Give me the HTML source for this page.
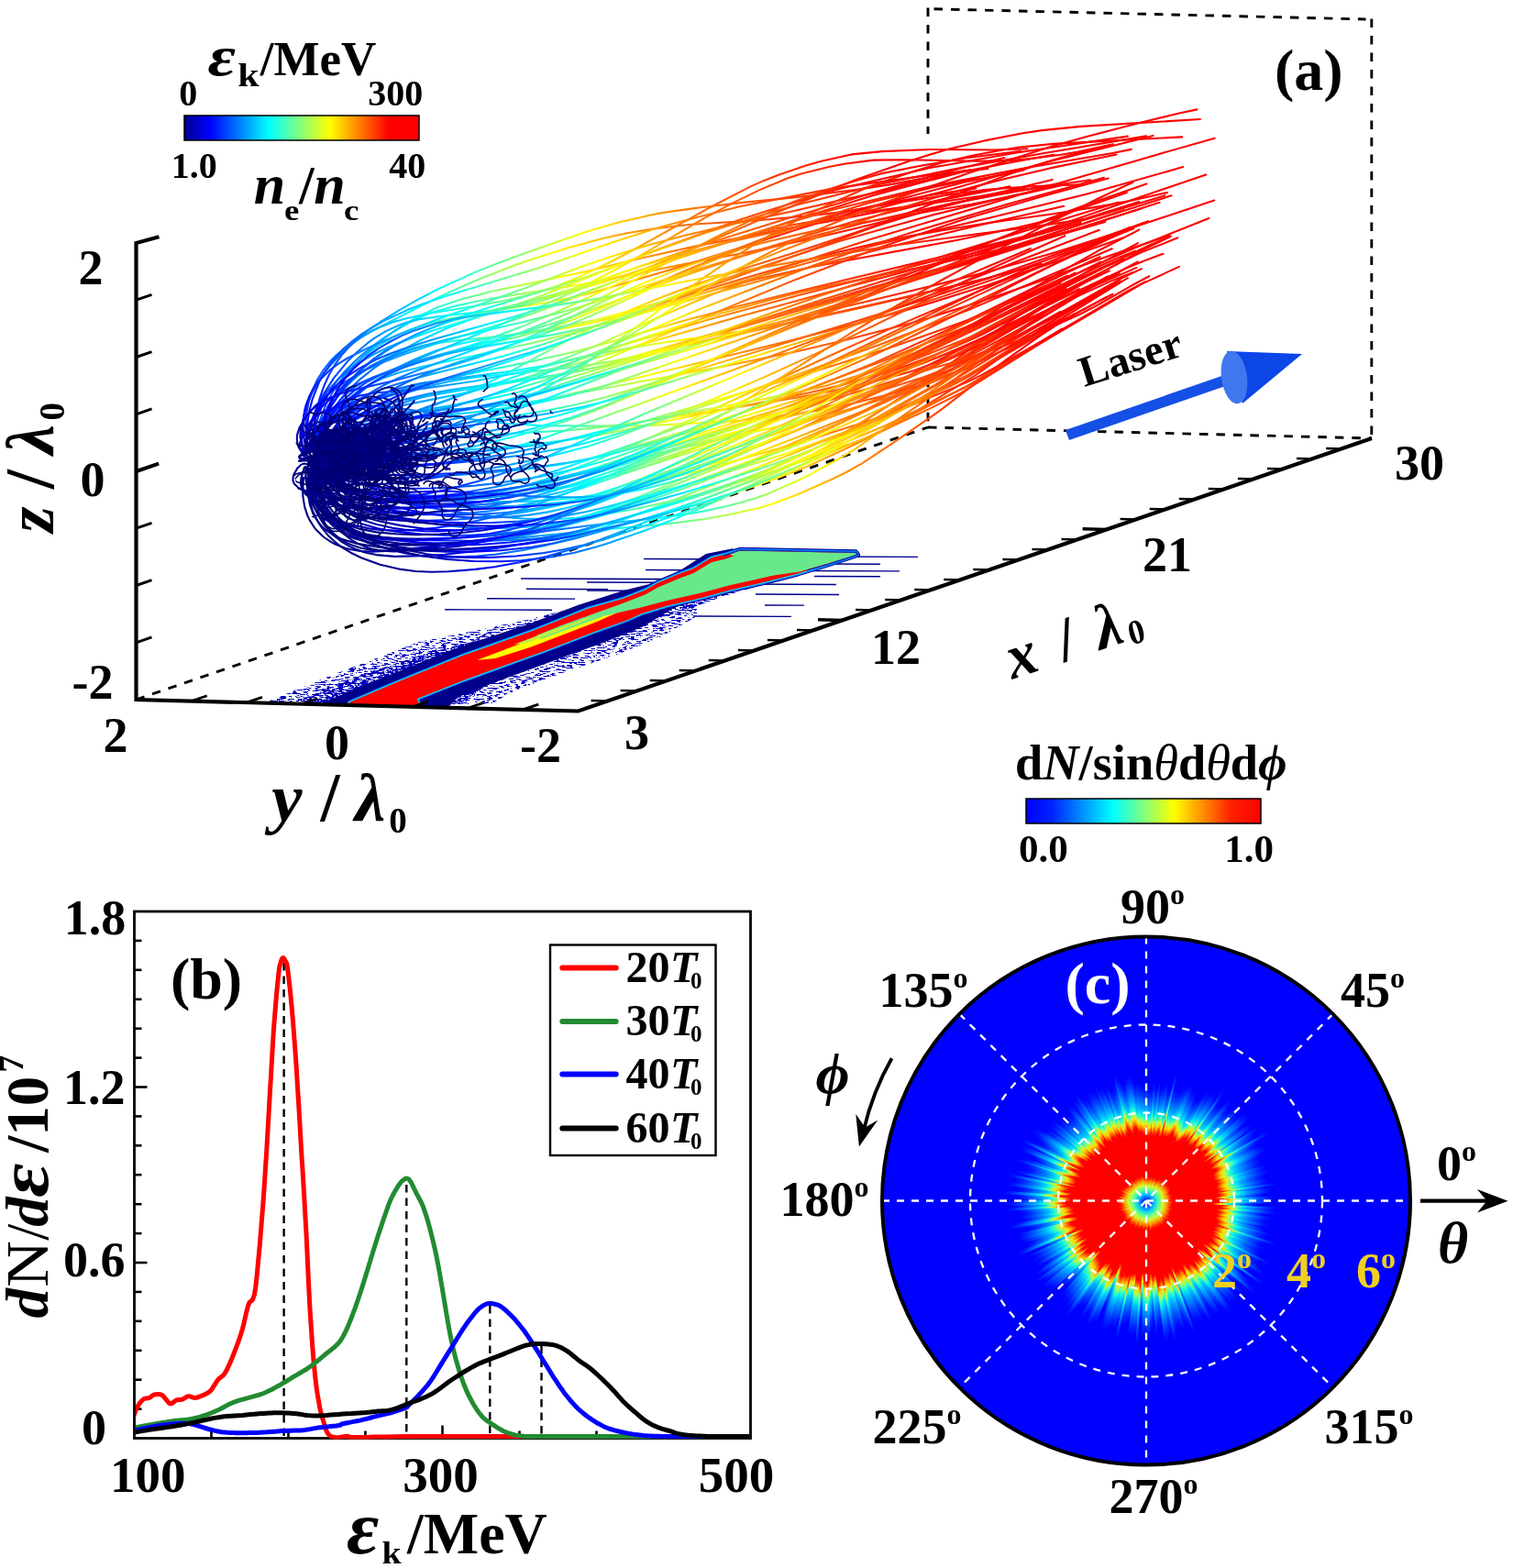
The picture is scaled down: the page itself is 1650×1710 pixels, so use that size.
<!DOCTYPE html><html><head><meta charset="utf-8"><title>Figure</title><style>html,body{margin:0;padding:0;background:#fff;width:1650px;height:1710px;overflow:hidden}</style></head><body><svg width="1650" height="1710" viewBox="0 0 1650 1710" style="display:block;font-family:'Liberation Serif','DejaVu Serif',serif"><defs><filter id="spk1" x="0" y="0" width="1" height="1" filterUnits="objectBoundingBox"><feTurbulence type="fractalNoise" baseFrequency="0.16 0.75" numOctaves="3" seed="4" result="n"/><feColorMatrix in="n" type="matrix" values="0 0 0 0 0  0 0 0 0 0  0 0 0 0 0.52  0 0 0 -16 7.6" result="m"/><feComposite in="m" in2="SourceGraphic" operator="in"/></filter><filter id="spk2" x="0" y="0" width="1" height="1" filterUnits="objectBoundingBox"><feTurbulence type="fractalNoise" baseFrequency="0.16 0.75" numOctaves="3" seed="9" result="n"/><feColorMatrix in="n" type="matrix" values="0 0 0 0 0  0 0 0 0 0  0 0 0 0 0.52  0 0 0 -16 8.6" result="m"/><feComposite in="m" in2="SourceGraphic" operator="in"/></filter><filter id="spk3" x="0" y="0" width="1" height="1" filterUnits="objectBoundingBox"><feTurbulence type="fractalNoise" baseFrequency="0.16 0.75" numOctaves="3" seed="13" result="n"/><feColorMatrix in="n" type="matrix" values="0 0 0 0 0  0 0 0 0 0  0 0 0 0 0.52  0 0 0 -16 9.6" result="m"/><feComposite in="m" in2="SourceGraphic" operator="in"/></filter><clipPath id="plane"><path d="M148.5 763 L1012 466 L1496 478 L630.5 775.5 Z"/></clipPath><linearGradient id="g0" gradientUnits="userSpaceOnUse" x1="330.0" y1="510.0" x2="1054.8" y2="171.6"><stop offset="0.000" stop-color="#00008a"/><stop offset="0.000" stop-color="#0000ff"/><stop offset="0.100" stop-color="#00ffff"/><stop offset="0.306" stop-color="#ffff00"/><stop offset="0.444" stop-color="#ff8000"/><stop offset="0.713" stop-color="#ff0000"/></linearGradient><linearGradient id="g1" gradientUnits="userSpaceOnUse" x1="330.0" y1="510.0" x2="1054.8" y2="171.6"><stop offset="0.000" stop-color="#00008a"/><stop offset="0.000" stop-color="#0000ff"/><stop offset="0.125" stop-color="#00ffff"/><stop offset="0.331" stop-color="#ffff00"/><stop offset="0.469" stop-color="#ff8000"/><stop offset="0.738" stop-color="#ff0000"/></linearGradient><linearGradient id="g2" gradientUnits="userSpaceOnUse" x1="330.0" y1="510.0" x2="1054.8" y2="171.6"><stop offset="0.000" stop-color="#00008a"/><stop offset="0.000" stop-color="#0000ff"/><stop offset="0.150" stop-color="#00ffff"/><stop offset="0.356" stop-color="#ffff00"/><stop offset="0.494" stop-color="#ff8000"/><stop offset="0.762" stop-color="#ff0000"/></linearGradient><linearGradient id="g3" gradientUnits="userSpaceOnUse" x1="330.0" y1="510.0" x2="1054.8" y2="171.6"><stop offset="0.000" stop-color="#00008a"/><stop offset="0.000" stop-color="#0000ff"/><stop offset="0.175" stop-color="#00ffff"/><stop offset="0.381" stop-color="#ffff00"/><stop offset="0.519" stop-color="#ff8000"/><stop offset="0.787" stop-color="#ff0000"/></linearGradient><linearGradient id="g4" gradientUnits="userSpaceOnUse" x1="330.0" y1="510.0" x2="1054.8" y2="171.6"><stop offset="0.000" stop-color="#00008a"/><stop offset="0.000" stop-color="#0000ff"/><stop offset="0.200" stop-color="#00ffff"/><stop offset="0.406" stop-color="#ffff00"/><stop offset="0.544" stop-color="#ff8000"/><stop offset="0.812" stop-color="#ff0000"/></linearGradient><linearGradient id="g5" gradientUnits="userSpaceOnUse" x1="330.0" y1="510.0" x2="1054.8" y2="171.6"><stop offset="0.000" stop-color="#00008a"/><stop offset="0.000" stop-color="#0000ff"/><stop offset="0.225" stop-color="#00ffff"/><stop offset="0.431" stop-color="#ffff00"/><stop offset="0.569" stop-color="#ff8000"/><stop offset="0.838" stop-color="#ff0000"/></linearGradient><linearGradient id="g6" gradientUnits="userSpaceOnUse" x1="330.0" y1="510.0" x2="1054.8" y2="171.6"><stop offset="0.000" stop-color="#00008a"/><stop offset="0.006" stop-color="#0000ff"/><stop offset="0.250" stop-color="#00ffff"/><stop offset="0.456" stop-color="#ffff00"/><stop offset="0.594" stop-color="#ff8000"/><stop offset="0.863" stop-color="#ff0000"/></linearGradient><linearGradient id="g7" gradientUnits="userSpaceOnUse" x1="330.0" y1="510.0" x2="1054.8" y2="171.6"><stop offset="0.000" stop-color="#00008a"/><stop offset="0.031" stop-color="#0000ff"/><stop offset="0.275" stop-color="#00ffff"/><stop offset="0.481" stop-color="#ffff00"/><stop offset="0.619" stop-color="#ff8000"/><stop offset="0.887" stop-color="#ff0000"/></linearGradient><linearGradient id="g8" gradientUnits="userSpaceOnUse" x1="330.0" y1="510.0" x2="1054.8" y2="171.6"><stop offset="0.000" stop-color="#00008a"/><stop offset="0.056" stop-color="#0000ff"/><stop offset="0.300" stop-color="#00ffff"/><stop offset="0.506" stop-color="#ffff00"/><stop offset="0.644" stop-color="#ff8000"/><stop offset="0.912" stop-color="#ff0000"/></linearGradient><linearGradient id="g9" gradientUnits="userSpaceOnUse" x1="330.0" y1="510.0" x2="1054.8" y2="171.6"><stop offset="0.000" stop-color="#00008a"/><stop offset="0.081" stop-color="#0000ff"/><stop offset="0.325" stop-color="#00ffff"/><stop offset="0.531" stop-color="#ffff00"/><stop offset="0.669" stop-color="#ff8000"/><stop offset="0.938" stop-color="#ff0000"/></linearGradient><linearGradient id="g10" gradientUnits="userSpaceOnUse" x1="330.0" y1="510.0" x2="1054.8" y2="171.6"><stop offset="0.006" stop-color="#00008a"/><stop offset="0.106" stop-color="#0000ff"/><stop offset="0.350" stop-color="#00ffff"/><stop offset="0.556" stop-color="#ffff00"/><stop offset="0.694" stop-color="#ff8000"/><stop offset="0.963" stop-color="#ff0000"/></linearGradient><linearGradient id="g11" gradientUnits="userSpaceOnUse" x1="330.0" y1="510.0" x2="1054.8" y2="171.6"><stop offset="0.031" stop-color="#00008a"/><stop offset="0.131" stop-color="#0000ff"/><stop offset="0.375" stop-color="#00ffff"/><stop offset="0.581" stop-color="#ffff00"/><stop offset="0.719" stop-color="#ff8000"/><stop offset="0.988" stop-color="#ff0000"/></linearGradient><linearGradient id="g12" gradientUnits="userSpaceOnUse" x1="330.0" y1="510.0" x2="1054.8" y2="171.6"><stop offset="0.056" stop-color="#00008a"/><stop offset="0.156" stop-color="#0000ff"/><stop offset="0.400" stop-color="#00ffff"/><stop offset="0.606" stop-color="#ffff00"/><stop offset="0.744" stop-color="#ff8000"/><stop offset="1.000" stop-color="#ff0000"/></linearGradient><linearGradient id="g13" gradientUnits="userSpaceOnUse" x1="330.0" y1="510.0" x2="1054.8" y2="171.6"><stop offset="0.081" stop-color="#00008a"/><stop offset="0.181" stop-color="#0000ff"/><stop offset="0.425" stop-color="#00ffff"/><stop offset="0.631" stop-color="#ffff00"/><stop offset="0.769" stop-color="#ff8000"/><stop offset="1.000" stop-color="#ff0000"/></linearGradient><linearGradient id="g14" gradientUnits="userSpaceOnUse" x1="330.0" y1="510.0" x2="1054.8" y2="171.6"><stop offset="0.106" stop-color="#00008a"/><stop offset="0.206" stop-color="#0000ff"/><stop offset="0.450" stop-color="#00ffff"/><stop offset="0.656" stop-color="#ffff00"/><stop offset="0.794" stop-color="#ff8000"/><stop offset="1.000" stop-color="#ff0000"/></linearGradient><linearGradient id="g15" gradientUnits="userSpaceOnUse" x1="330.0" y1="510.0" x2="1054.8" y2="171.6"><stop offset="0.131" stop-color="#00008a"/><stop offset="0.231" stop-color="#0000ff"/><stop offset="0.475" stop-color="#00ffff"/><stop offset="0.681" stop-color="#ffff00"/><stop offset="0.819" stop-color="#ff8000"/><stop offset="1.000" stop-color="#ff0000"/></linearGradient><clipPath id="tclip"><ellipse cx="470" cy="505" rx="150" ry="118"/></clipPath><linearGradient id="cb1" x1="201" y1="0" x2="457" y2="0" gradientUnits="userSpaceOnUse"><stop offset="0" stop-color="#00008f"/><stop offset="0.11" stop-color="#0000ff"/><stop offset="0.36" stop-color="#00ffff"/><stop offset="0.62" stop-color="#ffff00"/><stop offset="0.87" stop-color="#ff0000"/><stop offset="1" stop-color="#ff0000"/></linearGradient><linearGradient id="cb2" x1="1119" y1="0" x2="1375" y2="0" gradientUnits="userSpaceOnUse"><stop offset="0" stop-color="#0000ff"/><stop offset="0.11" stop-color="#0022ff"/><stop offset="0.37" stop-color="#00ffff"/><stop offset="0.63" stop-color="#ffff00"/><stop offset="0.87" stop-color="#ff2200"/><stop offset="1" stop-color="#ff0000"/></linearGradient><radialGradient id="rj" cx="1250" cy="1311" r="150" fx="1250" fy="1311" gradientUnits="userSpaceOnUse"><stop offset="0.000" stop-color="#0010ff"/><stop offset="0.027" stop-color="#0040ff"/><stop offset="0.060" stop-color="#00c0ff"/><stop offset="0.093" stop-color="#50ffa0"/><stop offset="0.127" stop-color="#d0ff30"/><stop offset="0.160" stop-color="#ff9000"/><stop offset="0.193" stop-color="#ff0000"/><stop offset="0.547" stop-color="#ff0000"/><stop offset="0.580" stop-color="#ff7000"/><stop offset="0.613" stop-color="#ffe000"/><stop offset="0.647" stop-color="#a0ff60"/><stop offset="0.680" stop-color="#20ffd0"/><stop offset="0.720" stop-color="#00c8ff"/><stop offset="0.767" stop-color="#0090ff"/><stop offset="0.820" stop-color="#0058ff"/><stop offset="0.880" stop-color="#0020ff"/><stop offset="0.933" stop-color="#0000ff"/></radialGradient><clipPath id="cdisk"><circle cx="1250.0" cy="1309.5" r="287.0"/></clipPath></defs><rect width="1650" height="1710" fill="#fff"/><g clip-path="url(#plane)"><path d="M290 766L360 737L457 700L518 688L578 675L627 663L660 651L690 645L705 660L760 652L760 672L724 693L675 713L602 738L560 754L535 768Z" fill="#000" filter="url(#spk1)"/><path d="M320 766L400 734L470 711L540 694L600 680L650 668L690 658L730 662L700 682L650 702L600 720L540 742L500 768Z" fill="#000" filter="url(#spk2)"/><path d="M345 766L420 738L490 714L560 692L630 670L700 652L725 660L690 680L630 703L560 728L500 752L470 768Z" fill="#000" filter="url(#spk3)"/><path d="M640 660L700 640L760 618L800 604L860 604L850 632L790 650L740 668L690 682Z" fill="#000" filter="url(#spk2)"/><line x1="568" y1="631" x2="724" y2="631.6" stroke="#00008c" stroke-width="1.6" /><line x1="574" y1="642.3" x2="663" y2="642.7" stroke="#00008c" stroke-width="1.4" /><line x1="531" y1="652.7" x2="627" y2="653.1" stroke="#00008c" stroke-width="1.4" /><line x1="485" y1="664.8" x2="602" y2="665.3" stroke="#00008c" stroke-width="1.4" /><line x1="702" y1="609.5" x2="776" y2="609.8" stroke="#00008c" stroke-width="1.6" /><line x1="704" y1="621.5" x2="749" y2="621.7" stroke="#00008c" stroke-width="1.5" /><line x1="640" y1="635" x2="725" y2="635.3" stroke="#00008c" stroke-width="1.6" /><line x1="640" y1="644" x2="689" y2="644.2" stroke="#00008c" stroke-width="1.4" /><line x1="814" y1="637" x2="912" y2="637.4" stroke="#00008c" stroke-width="1.5" /><line x1="824" y1="648" x2="915" y2="648.4" stroke="#00008c" stroke-width="1.5" /><line x1="834" y1="660" x2="877" y2="660.2" stroke="#00008c" stroke-width="1.3" /><line x1="902" y1="615" x2="960" y2="615.2" stroke="#00008c" stroke-width="1.4" /><line x1="888" y1="628.5" x2="960" y2="628.8" stroke="#00008c" stroke-width="1.4" /><line x1="756" y1="672" x2="863" y2="672.4" stroke="#00008c" stroke-width="1.4" /><line x1="899" y1="607" x2="1001" y2="607.4" stroke="#00008c" stroke-width="1.3" /><line x1="882" y1="622.5" x2="981" y2="622.9" stroke="#00008c" stroke-width="1.4" /><path d="M352 766L420 738L500 706L578 680L630 660L680 644L720 634L745 620L770 604L800 598L760 640L740 660L720 672L700 684L660 700L600 722L540 744L500 760L490 770L352 770Z" fill="#00008c" /><path d="M381 766L432.7 744L504.2 715L578 689L626.7 669.5L640 664L679 653L704 643.2L717.6 635.5L740.9 625.8L756.4 620L775.8 608.3L791.3 604.5L806.8 599.8L933 602.3L935 605L903 615.5L870 625.5L835 634.5L796 643.5L767 651.5L728 660.5L700 669L683.6 676.4L651 688L593.9 710L505.5 742L455 762L458 770L381 770Z" fill="#00008c" stroke="#00008c" stroke-width="6" stroke-linejoin="round"/><path d="M381 766L432.7 744L504.2 715L578 689L626.7 669.5L640 664L679 653L704 643.2L717.6 635.5L740.9 625.8L756.4 620L775.8 608.3L791.3 604.5L806.8 599.8L933 602.3L935 605L903 615.5L870 625.5L835 634.5L796 643.5L767 651.5L728 660.5L700 669L683.6 676.4L651 688L593.9 710L505.5 742L455 762L458 770L381 770Z" fill="#0070ff" stroke="#0070ff" stroke-width="4" stroke-linejoin="round"/><path d="M381 766L432.7 744L504.2 715L578 689L626.7 669.5L640 664L679 653L704 643.2L717.6 635.5L740.9 625.8L756.4 620L775.8 608.3L791.3 604.5L806.8 599.8L933 602.3L935 605L903 615.5L870 625.5L835 634.5L796 643.5L767 651.5L728 660.5L700 669L683.6 676.4L651 688L593.9 710L505.5 742L455 762L458 770L381 770Z" fill="#00e0ff" stroke="#00e0ff" stroke-width="2" stroke-linejoin="round"/><path d="M381 766L432.7 744L504.2 715L578 689L626.7 669.5L640 664L679 653L704 643.2L717.6 635.5L740.9 625.8L756.4 620L775.8 608.3L791.3 604.5L806.8 599.8L933 602.3L935 605L903 615.5L870 625.5L835 634.5L796 643.5L767 651.5L728 660.5L700 669L683.6 676.4L651 688L593.9 710L505.5 742L455 762L458 770L381 770Z" fill="#ff0000"/><path d="M520 720L578 698L626 681L651 673L680 665L651 678L578 706L540 718Z" fill="#ffff00" /><path d="M585 693L615 681L640 672L679 658L704 648.2L717.6 640.5L740.9 630.8L756.4 625L775.8 613.3L791.3 609.5L806.8 604L927 606.5L901.8 612.3L868.9 621L834 629.7L795 638.4L766 646.2L727.3 655L698 662.7L659.4 671.4L620 686L590 697Z" fill="#68e88a" /><path d="M560 703L600 688L640 674L650 672L610 688L575 701Z" fill="#c0f040" /><path d="M796 604.5L806.8 600.6L933 603L934.2 605L903 614.6L872 623.6L840 628L810 612Z" fill="#68e88a" /><path d="M789 606 L806.8 599.8 L933 602.3 L935.5 605 L903 615.5 L880 622" fill="none" stroke="#1030c0" stroke-width="1.6" stroke-linejoin="round"/></g><g fill="none" stroke="#000" stroke-width="2.9" stroke-dasharray="9.5 9"><path d="M1012 8.5 L1012 146"/><path d="M1012 412.7 L1012 466"/><path d="M1018.5 9.8 L1489.5 21"/><path d="M1495.8 20.4 L1495.8 478"/><path d="M148.5 763 L1012 466"/><path d="M1012 466 L1496 478"/></g><g fill="none" stroke-width="2.1" stroke-linecap="round" stroke-linejoin="round"><g stroke="url(#g0)"></g><g stroke="url(#g1)"></g><g stroke="url(#g2)"></g><g stroke="url(#g3)"></g><g stroke="url(#g4)"><path d="M344.9 479.6L345.9 472L348.8 459.1L355.4 441.1L364.5 424.5L375.8 409.2L384.6 399.6L394.2 390.7L410.4 378.4L428.6 367.8L448.5 359L470.3 352.1L493.7 346.8L519 342.3L594.8 330.2L626.4 323.9L648.4 318.5L731.6 293.9L810.4 269.3L866.8 251.1L956.4 223.5L1051.3 198.8L1116.8 185.4"/></g><g stroke="url(#g5)"><path d="M337.6 494.6L342.4 478L345.2 470.6L351.9 456.5L359.8 443.5L364.1 437.3L373.7 425.6L384.3 414.9L389.9 410L402 400.9L408.5 396.8L421.9 389.6L429 386.4L443.8 381.2L459.4 377.2L475.8 374.3L502.2 370.9L561.4 365L594.3 361.1L617.6 357.6L641.9 352.9L680.4 342.9L795.3 308.2L875.3 284.9L908.6 276.3L959.6 264.2L994 257L1045.5 248.2L1080.2 242.7L1148.6 233.3L1200.7 224.9L1236.2 218.2L1273 209.9"/><path d="M334.3 480.9L333.2 465.3L334.1 451.5L336.6 438.4L340.6 426L346 414.2L352.8 403.3L360.9 393.2L365.5 388.5L375.5 379.8L386.8 371.8L405.9 360.6L477.5 324.5L506.2 311.4L526.7 302.7L559.3 290.1L582.4 282L618.8 270.6L657.2 260L683.8 254.2L711.1 249.7L753.4 244.8L826.8 240.3L888.7 234.8L921 230.7L971.2 222.3L1040.6 211.5L1076.1 206.8L1129.2 203L1181.8 201.3"/><path d="M347.3 493.1L348.3 484L351.1 468.4L355.1 454L360.2 440.5L369.8 421.8L377.4 410.3L386 399.6L395.4 389.4L405.8 379.7L417.2 370.4L429.4 361.5L442.4 353L456.3 345L478.7 334.5L502.8 326.4L537.6 317.5L637.5 296.4L694 282.7L754.8 269.2L860.4 248.9L902.5 241.6L961.1 230.2L1006.4 222.1L1101.5 203.4"/></g><g stroke="url(#g6)"><path d="M342.4 481.4L343 473.7L345.4 460.5L347.1 454.3L351.4 442.4L360.2 425.8L367.4 415.3L375.7 405.4L385.1 395.7L395.4 386.4L406.8 377.2L419.2 368.2L432.5 359.6L446.8 351.5L462 344.3L469.9 341.2L494.9 334.1L521.7 328.3L550.4 323.3L635.6 309.9L758.9 285.6L813.3 275.5L885.6 260.3L931.2 249.5L994.7 233.9L1061.2 216.8L1147.7 195.9"/><path d="M331.6 497.8L330.1 490.2L329 476.9L329.1 470.6L330.4 458.4L331.6 452.4L335 440.8L339.8 429.5L345.7 418.5L352.9 407.7L361.2 397.2L375.8 382.1L387.1 372.8L393.1 368.5L406.1 360.7L413.1 357.2L428 351.5L444.1 347L470.1 341.5L528.7 331.9L549.9 328L583.2 319.8L606.3 312.3L630.1 302.6L667.1 285L692.6 271.5L774.2 226.2L818 203.6L833.1 196.9L848.4 190.9L879.8 180.3L895.8 175.8L928.5 168.4L962 165.1L1013.6 163L1084.3 163.5L1120.5 162.3"/><path d="M344.8 492.3L343.1 485.4L341.9 473.4L342 467.7L343.5 456.6L344.8 451.3L348.7 440.9L351.3 435.9L357.4 426.3L369.3 412.9L379 404.5L389.9 396.7L408.7 385.8L422.8 379L438 372.7L472 360.6L552.9 335.4L587.4 323.7L718 271.8L807.8 239.2L839.7 228.9L906.3 208.6L923.6 203.9L1013.4 183.2L1108.8 166.5L1229.8 148.6"/><path d="M363.8 480.6L365 471.3L369.2 458.9L375.9 447.3L384.7 436.2L395.6 425.7L408.5 415.9L423.3 407.1L439.9 399.4L451.9 394.9L471.4 389.2L566.4 366.9L594.3 359L613.8 352.6L633.9 345L654.8 336.2L745 296.2L806.8 270.2L845.8 255.1L886.4 241.8L928.4 229.7L957.3 223.5L1017.2 212.4L1064 205.5"/><path d="M341.5 487.4L346.2 476L355.2 461L362.5 451.7L375 438.8L389.4 427.5L400 420.9L417.2 412.6L436 406.1L456.4 400.9L579.5 374.2L622.9 363.6L657.6 353.8L719.5 333.8L758.6 321.9L785.4 314.4L826.2 304.2L882.1 291.7L1043 262L1106 248.9L1155.5 237.3"/><path d="M342.3 492.1L343.6 484.5L347.1 471.4L354.6 453.1L364.7 436.1L372.6 425.5L381.5 415.3L396.7 401L407.9 392.1L420.1 383.6L433.1 375.6L447 368.1L469.4 358.1L485.3 352.4L510.6 344.9L537.7 338.1L607.8 321.8L652.2 309.6L804 260.7L860.9 241.8L951.6 213.2L1048 187.9L1098 177.9L1149.3 168.8"/></g><g stroke="url(#g7)"><path d="M342 479.3L343 462.2L345.4 447.2L349 433.3L353.6 420.2L359.2 408L365.8 396.8L373.3 386.5L381.6 377.2L390.8 368.6L400.9 360.7L417.4 349.4L435.7 338.2L455.8 326.7L477.4 315.4L517.1 297.4L543.1 287L570.7 276.7L641.4 252L674.6 242.5L709.6 234.5L721.6 232.1L759.1 226.9L811.9 220.6L868 215.3L942.1 205.8L973 200.9L1052.8 185.9"/><path d="M329.8 494.5L325.4 487.3L324.3 483.9L323.8 477L324.3 473.4L326.6 466.2L333.4 454.7L343.9 442.5L357.9 429.8L375.5 416.8L396.9 404.4L413.3 396.7L441 386.3L471.8 376.1L554.6 350.8L580.8 342.1L608 332L665.5 309L742.7 277L826 240.8L915.9 202.8L934.7 195.4L992.8 175.3L1032.7 162.9L1073.6 153.4L1115.3 145.3L1136.3 142.1L1178.9 137.9L1308.9 130"/><path d="M351.5 493.2L348.2 489.7L347.4 486.4L348.4 483L351 479.7L357.7 474.9L364 471.9L380.8 466.4L396.9 462.9L415.9 460L518.2 449.4L549.8 445.1L572 441.3L595.2 436.3L861.5 371.6L947 349.6L983.2 339.7L1020.9 328.6L1079.8 309.9L1120.2 296.3L1224.3 259.4"/><path d="M344.1 494L341.3 490.9L340.8 487.7L342.1 484.3L347.1 479.1L355.5 473.9L362.9 470.5L381.7 463.9L399.1 459.2L426.7 453.4L505.6 439.9L536.9 434.1L559.2 429.2L582.4 423.3L788.9 362.4L1075.4 279.6L1158.8 254.4L1244.6 227.4"/><path d="M346 482.5L347.9 476.2L352.3 465.2L357.8 454.9L364.2 444.9L375.4 430.7L384 421.7L393.3 413.1L408.8 400.8L432.2 385.4L458.7 371L488.1 357.8L511.8 349L537.1 340.8L642.6 309.4L768.3 266.5L858.7 238.3L913.9 221.9L957.3 208.4L1048 183.4L1095.3 172.1"/><path d="M332.6 500.9L327.7 500L327.1 498.7L328.4 496.9L335.7 491.8L345.4 487.1L369.4 477.7L424.3 460L456.5 448.8L501.6 431.1L531.5 417.7L552.7 407.2L611.2 375.3L650.6 355.1L693.6 335.4L724.5 323L756.7 311.1L790.2 299.5L860.4 277.5L932.7 253.7L969.3 240.4L1102.6 189.3L1143.3 176L1164.1 170L1206.8 159"/><path d="M357.7 477.9L357.2 468.7L358.4 460.4L360.9 452.5L364.8 444.9L372.8 434.2L379.6 427.7L387.6 421.7L396.6 416.3L406.7 411.5L417.9 407.2L479.5 388.4L530.1 370.9L568 356.6L609.3 339.2L689.5 302.1L739.9 281.2L779.8 267.6L807.4 259.2L835.7 251.5L864.7 245.3L940 231.7L1002.9 223.5L1068.2 214L1118.7 205.1"/><path d="M340.9 500.1L364.1 493.7L389.7 488L413.4 483.9L439.6 480.5L492.8 476L615.1 469.6L651.2 466.4L676.4 463.4L800.3 444.6L874.4 432.6L904.8 427L950.6 416.6L981.7 408.6L997.1 403.9L1043.3 386.8L1074.8 373.9L1121.8 349.5L1240.7 285.3"/><path d="M334.6 486.4L334.3 477.5L335.1 462.4L337.3 448.3L340.8 435L348.1 416.6L354.4 405.3L361.7 394.9L374.4 380.7L384.2 372.1L394.8 364.2L406.3 356.9L418.7 349.9L446.1 337.2L461 331.4L485 323.2L588.1 292L665.9 265L714.5 249.3L753.2 238.7L807.5 225L910.9 205.1L1008.2 191.8L1077.5 184"/><path d="M330.5 493.3L327.4 488.8L326.7 484.4L328 480L331.1 475.6L338.8 469.2L346 465.1L354.9 461.4L365.3 458L390.5 451.9L511.1 427.7L554.3 417.2L577.4 410.4L679.9 376.3L769.1 349.6L870.9 322.1L1028.4 282.1L1092.7 265.1L1181.2 240.2L1270.4 213.2"/><path d="M350.9 500.3L356.1 503.1L362.4 504.9L369.9 506L383.1 506.5L410.5 504.8L451.7 499.6L491.8 492.6L526.5 484.8L573.9 472.4L615.3 459.8L648.4 448L671.5 438.5L759.7 400.4L1090.7 259.6L1143 238.8L1178.4 225.5L1250.4 200.4"/><path d="M343.1 491.3L340.6 485.8L340.2 483.3L340.8 478.3L342.9 473.4L348.9 466.3L354.7 461.8L365.9 455.6L374.9 451.8L390.8 446.5L423.1 439L527.1 421.7L558.5 415.5L580.6 410.3L603.6 404L704.3 374.3L804.3 345.8L899.3 319.7L1060.1 276.5L1178.5 243"/><path d="M358.1 482.7L360.5 475.9L366.4 466.7L374.7 457.9L385.3 449.6L398 441.8L407.5 437L423.5 430.3L441.3 424.3L461 418.9L490.2 412.1L587 392.6L628 383.3L649.6 377.5L743.1 350.5L806.8 333.6L860.6 320L1019.9 281.7L1113.8 258.5"/><path d="M333.4 484.5L337 467.5L339.4 459.9L344.9 445.4L351.7 431.7L364 412.4L378.6 394.6L389.6 383.7L401.5 373.7L407.7 369.2L420.9 361.1L434.9 354.7L442.2 352.1L457.2 348.3L481.4 344.7L535.9 338.7L566.4 333.7L588 328.7L599.2 325.4L622.4 317.4L646.7 306.8L672.1 293.5L698.5 278.7L768.6 237.6L798 221.9L827.9 207.4L858.5 194.5L873.8 189.5L904.9 181.8L920.6 178.8L952.3 174.6L984.4 174.2L1067.6 175.7L1102.5 174.9L1120.4 173.4L1157 168.7L1175.6 165.5L1213.8 157.2"/><path d="M346 489.6L347.6 483.8L351.7 473.8L360.2 459.7L371.2 446.3L384.5 433.6L400.1 421.5L424.4 406.1L438 398.7L452.4 391.7L475.7 382.3L500.4 375.2L526.8 369.7L605.4 357.4L638.1 351.4L660.9 346.1L696.7 336.3L734.6 325L788.6 307.2L955.6 246.6L988 236.5L1020.8 227.3L1054 218.9L1087.2 212.3L1137.6 203.7L1189 196.2"/><path d="M354.9 494.9L365 488.3L383.9 479.1L409 468.9L433.1 460.4L475.5 447.5L562.6 424L592.7 415.3L624.7 405.1L647 397.1L670.2 387.8L784.4 339.2L868.9 304.4L958.9 270L1054.2 238.2L1138.1 213.7L1208.6 194.4"/><path d="M333.9 489L332.2 481.9L330.6 469.7L330.7 458.3L332.2 447.6L333.5 442.4L337.1 432.6L341.9 423.5L348 415.2L359.3 403.9L368.3 397.2L378.3 391L401.3 379.4L434.9 364.7L473.7 349.5L567.2 316.2L633.6 291.1L669.7 278.7L707.8 266.9L748 256.6L804.3 243.1L863.8 230.5L910.1 219.8L958.1 209.4L1007.2 197L1058.1 185"/><path d="M363.8 489.8L368.1 482.8L373.4 476.5L379.8 470.4L391.5 461.7L405.3 453.5L415.7 448.5L432.9 441.5L445.4 437.4L465.6 432L487.5 427.5L603 410.5L634.6 404.2L656.7 398.8L956.7 311.7L1136.8 261.6L1205.3 241.9"/><path d="M358.1 500.1L366.3 501L381.5 500.7L451.6 495.4L562.1 486.3L593.5 483L627.3 478.6L663.5 472.5L729.3 458.7L862.3 432.5L893.6 425.7L925.2 417.7L973.4 404.2L989.3 398.6L1021.4 386.2L1054 372.6L1070.4 365.1L1171.6 311.9L1226.1 284.1L1245 275.1L1284.4 259.3"/></g><g stroke="url(#g8)"><path d="M352.8 510.8L356.8 518.9L362.2 525.3L368.8 530.7L376.6 535.2L385.5 538.9L395.4 541.7L406.3 543.8L424.5 545.5L539.4 547.3L570.6 546.9L592.6 546L627.3 543L651.5 539.4L676.5 534.1L702.3 527.7L742.3 516.5L783.9 503L826.8 486.8L871.2 468.3L964.3 423.6L1013.1 397.9L1046.9 381.2L1098.9 354.1L1134.8 336.3L1228.7 292.4L1248.3 284.2L1268.4 276.8"/><path d="M343.3 488.7L340.1 484L339.5 479.7L340.8 475.4L342 473.4L345.8 469.5L351.2 465.8L358.1 462.5L366.4 459.6L381.5 455.8L399.7 452.9L420.6 450.7L519.8 444.7L552.7 441.8L576.1 438.7L786.1 400.2L870.3 382.9L924.4 370.3L1000.6 350.5L1061.4 331.5L1124 310.3L1210.2 278.8L1275.4 256.8"/><path d="M338.6 504.6L334.6 511.4L333.2 516.7L333.6 521.1L335.7 524.8L339.4 527.8L348 531.4L355.6 533.2L369.5 535.2L435.1 541.5L460.3 542.8L488.2 543.2L508.4 542.4L529.8 540.7L552.4 537.6L576.4 532.8L601.6 526.1L641.6 514.1L774.6 471.7L838.5 453.3L905 436.2L957.9 420.5L994.5 408.9L1033.2 392.7L1073.2 374.2L1135.3 342.8L1199.4 308.2L1220.7 298"/><path d="M340.9 488.8L346.1 479.9L352.3 471.8L359.3 463.9L371.4 452.2L385.2 441.1L395.2 433.9L411.5 423.9L423.1 417.8L435.3 412L454.9 404L569.6 362L619.9 341.5L641.3 331.7L663.4 320.6L746.1 276.3L783.9 256.9L822.7 238.6L862.8 221.1L903.8 206.5L931.9 197.6L960.5 189.4L1004.3 180.8L1049.8 172.8L1113 164.7"/><path d="M359.9 493.9L372.8 488.8L388.4 483.9L408.2 478.7L432 473.5L474.7 466.1L553.6 454.7L594.4 448.1L627.2 441.5L662 432.7L864 371.7L957.1 342.9L1005.7 327.3L1056 310.8L1107.2 293.2L1252.1 241.2"/><path d="M354.6 482.4L354.4 477.6L355.4 469.2L359.4 457.4L366 446.2L374.9 435.8L386.1 426.1L399.4 417.1L414.9 409L432.3 401.6L451.6 394.8L472.9 388.4L566.1 363.7L605.8 351.8L626.7 344.6L742.4 302L833.9 270.8L861.6 262.4L933.9 240.8L1026.3 217.6L1074.7 207.1"/><path d="M357.9 487.8L359.8 483.8L364.3 476.9L373.2 467.1L384.2 457.9L397.3 449.2L412.4 441.1L429.6 433.6L448.6 426.8L469.5 420.7L492 415.6L515.9 411.8L616.1 401.6L646.9 397.5L668.3 393.8L811.4 363.3L980.7 325.6L1073 304.2L1135.7 287.8"/><path d="M354.4 481.6L353.1 475.5L353.3 472.7L354.7 467.1L359.5 458.9L367.3 450.8L377.8 443L390.9 435.5L406.6 428.3L424.7 421.4L460 410.7L549.1 388.2L591.2 375.8L613.6 368.2L711.3 332.4L807.7 298.3L914.6 263.2L1015.1 234.9L1105 213.2L1161.5 200.5"/><path d="M344.9 484.8L347.1 476.2L352.2 461.5L355.3 454.5L362.2 441.3L374.7 423L389.5 406.6L406.3 392.2L418.7 383.6L432 375.7L453.7 364.8L485.9 351.5L521.8 339L604.5 313.5L639.2 302L714.2 273.8L768.4 254.3L825.6 236.3L870.5 223L965.1 199.6L1048.9 182.8L1137.4 167.2L1250.1 148.4"/><path d="M344.7 500.9L341.6 505.7L340.7 509.2L341.7 512L346 514.9L350.7 516.2L360.3 517.3L373 517.3L388.5 516.6L435.4 511.7L486.9 504L526.5 496.2L547.7 491.1L569.9 485L593 477.7L694.1 441.8L841.3 388.2L890.4 369.9L1095.7 290.2L1198.8 250.8"/><path d="M342.8 496.4L338.8 486.4L337.4 477.3L337.9 468.6L340.3 460.1L344.4 452.1L350.2 444.5L357.7 437.4L366.7 430.9L377.3 424.9L389.3 419.2L533.9 359.2L567.4 344.5L616.4 322.1L656.4 305.4L699.5 290L730 280.9L761.8 272.2L794.6 263.9L864 248.8L955.3 228.1L1031.3 207.9L1110.2 185.5L1151.1 174.5L1257.6 148.1"/><path d="M338.1 488.2L335 480.6L334.3 477.2L334.3 470.7L335.8 464.7L337.2 461.9L340.9 456.8L349 450.5L356 447.2L364.2 444.7L378.9 442.4L396.1 441.8L423.2 443.6L446.6 446.7L521.5 458.3L554.3 462L589.7 464.1L640.9 464.6L711.3 463.9L789 460.1L805.3 458.8L839.1 455.1L873.9 450.5L909.7 444.9L965.9 431L1004.4 420L1024 413.1L1063.9 396.1L1104.3 377.3L1165.6 346.3L1206.8 323.9"/><path d="M352 470.2L352 464.8L353.3 455.5L354.6 451.1L358 442.5L365.6 430.4L375.9 419.3L388.7 409.1L403.8 399.8L421.3 391.4L448.1 381.3L463 376.7L487 370.2L571.2 351L614.2 340L636.9 333.2L749.4 297.1L804.5 280.8L847.9 267.9L939.4 243.7L1036.7 221.9L1156.6 199.8"/><path d="M350.8 494.1L348.6 492L348.6 489.7L350.4 487.1L353.8 484.4L365 478.6L381.6 472.6L397.6 468.1L423.1 462.2L506.9 446.3L537.3 440L581.4 428.9L605 421.6L796.8 358.6L893.8 327.7L1158.7 246.3L1242.3 220"/><path d="M354.2 489.3L359.4 481.4L365.8 474.3L377.8 464.2L387.3 457.9L403.6 449.2L415.7 444L428.8 439.3L442.8 435.2L465.6 429.8L490.6 425.3L602 409.5L650 400.9L675.5 394.9L801.9 362.9L1012.1 312.8L1081.2 295.2L1151.7 274.9L1206.6 257.6L1324.2 218.5"/><path d="M364 491.4L371.9 485L386.9 476.2L406.4 466.8L423.7 459.5L465.1 444.1L575.6 406L619.6 389.6L654.9 374.9L717.6 346.3L771.2 323.3L813.3 307L857.3 290.9L950.8 260.5L1144.5 202.8L1262.5 168.4L1324.7 150.8"/></g><g stroke="url(#g9)"><path d="M338.5 503.5L344.2 512.7L350.8 519.9L358.4 526.1L371.6 533.6L381.4 537.5L397.8 541.9L409.8 544L429.1 546L450.3 546.8L473.1 546.6L506.3 544.9L533.3 542.6L582.3 536.5L614 530.8L636.2 526L671 516.6L786.1 478.3L886 442.6L977.8 406.6L1073.5 363L1190 303"/><path d="M348.9 516L352.3 525.4L357.1 532.9L363.2 539.3L374.6 547.3L383.6 551.7L398.9 557L410.4 560L429.5 564.1L458.5 569.2L482.8 572.8L508.9 575.1L527.4 576L556.7 575.8L577.3 574.4L598.6 571.6L620.8 567.3L643.7 561.1L655.5 557.2L692.1 543.6L743.8 522.4L813.3 492.5L873 467.6L904.2 455.3L936.3 443.7L1020.1 410L1037.5 402.5L1109.5 366.1L1166 335.6L1224.9 302.5L1244.9 293.1"/><path d="M364.9 502.1L365.2 510L367.2 516.3L370.7 521.7L378.4 528.3L385 531.9L397.3 535.9L406.9 537.8L423.3 539.7L449 541L495 541.9L521.3 541.6L549.7 540.3L580.2 537.5L601.7 534.5L624.2 530.2L647.5 524.5L709.7 507.1L763.3 489.9L834.8 463.7L880 444.8L942.7 417L1041.5 367.5L1092.8 339.7L1127.9 321.4L1200.1 285.7"/><path d="M353.7 500.2L358.5 502.4L364.4 503.8L379.6 504.6L404.4 502.7L434.9 498.2L487.2 488.6L540.8 477.4L580.8 467.6L624 455L658.5 442.8L682.4 432.9L899.6 337.8L960.3 311.8L1007.2 292.4L1055.8 273L1105.5 254.1L1157.2 235.1L1228.8 210.1"/><path d="M356.4 481.1L359.5 473.7L366.5 463.7L372.6 457.4L383.7 448.2L397.1 439.6L407.2 434.3L424 427.3L436.2 423.4L449.2 420L463 417.3L563 404L593.1 398.8L614.3 394.3L636.6 388.7L659.8 381.9L735.1 357.4L775.5 344.8L845.7 325.4L874.6 318.3L903.5 311.9L1021.7 287.7L1067.9 277.4L1115.6 265.7L1165.7 252.2"/><path d="M367.9 503.9L371 510.8L375.3 516.2L380.8 520.9L391 526.6L399.2 529.8L413.1 533.8L429.2 536.9L447.3 539.2L467.3 540.6L481.6 540.8L512.3 539.1L555.1 533.5L592.9 526.1L612.9 521.2L633.8 515.3L725.5 484.6L776.3 468.3L947.7 417.1L978.6 406.1L1042.5 382.3L1075.1 367L1108.3 350.6L1176.8 315.2"/><path d="M336.6 504.8L333.7 514.2L333.2 521.5L334.5 527.6L337.4 532.7L342 536.8L348.1 539.8L355.6 542L364.7 543.4L380.7 544.3L443 545.2L468.2 544.9L486.3 544L505.5 542.5L525.7 539.9L547.1 536.1L569.6 530.6L593.3 523.2L618.2 514.2L644.4 504.2L686 487.3L762.3 453.6L918.1 382L974.2 357.1L1091.5 307.2L1194.6 265.3L1236.3 249.3"/><path d="M333 493L329 484.5L327.4 476.8L327.6 469.3L329.5 462.1L333 455.3L335.3 452L341.1 445.8L348.5 440.1L357.4 435L367.8 430.6L379.6 426.7L430.2 415L490.7 399.2L519.7 390.3L539.9 383.2L560.9 375L582.6 365.5L652.6 331.2L690.8 313.4L731.8 296.6L760.7 285.9L790.9 275.8L806.7 271.4L839.2 262.9L890.3 251.2L1059.4 222.7L1118.5 210.9L1158.3 201.9"/><path d="M364.3 498.6L367.8 504.3L372.6 508.6L378.6 512.3L385.6 515.2L393.6 517.5L407.5 519.9L417.8 520.7L435 521.1L460.9 520.1L523.8 516.3L570.5 512.2L611.8 506.4L633.6 502.2L656.3 496.8L716.5 479.8L781.4 459.8L864.9 431.1L908.5 414L953.7 395.8L1047.6 353.2L1129.9 312.8L1199.5 280.2"/><path d="M358.2 494.3L372.1 488.5L392.8 481.5L413.8 475.3L438.6 469L482.2 459.4L590.7 438.5L622.3 431.2L655.8 421.9L973.3 313.4L1225.3 229.2"/><path d="M350 481.1L351.9 475.5L356.5 465.8L365.4 452.2L376.6 439.7L389.9 428.3L405.2 417.9L422.4 408.6L441.5 400.2L462.5 392.9L485.2 386.5L509.7 381.1L603.7 364.9L646.6 356.1L669.3 350.4L780.7 319.3L877.7 293L967.4 269.7L1061.9 246.9L1160.2 224.8"/><path d="M352.7 493.5L359.3 481.2L367.9 470.1L378.4 459.3L390.7 448.9L409.5 435.6L425.3 426.3L442.7 417.4L461.5 409.1L496 396.2L586.6 366.5L624.7 352.6L655 339.7L766.6 288.7L840.9 257.6L866.8 247.9L920.5 229.6L948.3 221.1L1020.7 203.5L1066.3 194.7"/><path d="M354.3 504.5L357.2 506.5L363.6 509.1L371.3 510.6L380.3 510.9L395.8 509.4L407.5 507.1L420.2 503.7L440.9 496.8L471.7 484.6L506.1 469.2L544.4 450.6L575.3 434.2L596.9 421.9L619.3 408.5L642.4 393.7L666.1 377.4L727.9 331.5L766.5 303.6L792.8 285.7L819.5 268.7L846.8 252.3L874.8 237.1L903.4 223.3L948 203.5L994.4 187.6L1026.7 177.6L1060 169.8L1094.5 163.2L1112.2 160.5L1148.8 156.9L1289.2 149.4"/><path d="M351.2 479.7L350 472.3L350.5 465.7L352.3 459.4L357.5 450.8L365.2 443.3L371.8 439L383.8 433.8L393.2 431.2L409.3 428.5L462.2 423.8L517.1 415.7L561.1 407.3L589.5 400.8L630.2 390.6L674.8 381.5L711.3 375.5L807.6 361.3L853.1 353.5L900 344.2L932 337.3L1080.9 302.7"/><path d="M353.5 492.8L350.2 486.3L349.5 483.2L349.7 477.2L351.7 471.4L353.4 468.5L358 462.9L364.2 457.5L376.5 449.9L392.1 442.8L410.7 436.1L447.5 424.8L531.5 401.4L564.5 391.1L587.9 383L637.8 364L692.2 344.3L736.1 329.5L798.6 309.7L901.8 280.7L996 257.1L1076.5 238.2L1181.6 212.4L1203.2 206.8L1290.2 182.1"/><path d="M332.6 500.8L328.1 500.3L326.2 499.3L326.2 497.8L327.9 495.9L336.3 491L350.7 484.9L365.2 479.7L389.2 472.3L499.7 441.9L531.7 431.9L554.3 424L577.9 414.8L682.2 370.4L771.1 333.9L887.1 289.4L960.1 264.6L998.1 252.2L1098.3 222.8L1203.9 193.8"/><path d="M332 511.1L328.7 519.8L327.8 526.6L328.9 532.4L330 534.9L333.6 539.4L338.8 543.1L349.3 547.5L362.9 550.8L385.5 554.7L412.7 558.4L436.3 560.3L462.7 561.2L491.7 560.8L512.6 559.5L534.6 557.2L557.8 553.5L582.2 548.1L607.8 540.9L634.5 532.5L706 508.1L800.2 473.3L850.5 454.1L902.2 435.4L1012 394L1130.6 343.4L1214.1 305.4L1235.1 297.3"/><path d="M343 480.5L342.2 474.7L342.3 464.6L343 459.8L345.7 450.4L347.6 445.8L352.5 436.9L362.5 424.3L375.4 412.7L391.2 402.1L409.6 392.4L423.4 386.5L438.3 380.9L471.3 370.4L549.8 348.6L583.4 338.5L606.9 330.4L710.5 291.8L768 272L813.5 256.7L911 227.9L1017.3 202.6L1112.4 184.2L1213.2 167L1233.8 162.9"/><path d="M343.4 512.3L347.8 524L353.2 533.3L359.7 541.3L363.3 544.9L371.3 551.1L380.3 556.2L390.1 560.3L400.8 563.4L418.4 566.4L438 567.8L467.1 567.9L499.7 566.5L526.4 564.4L555 561L575.1 557.9L606.6 551.8L628.6 546.4L663.1 535.9L699.1 522.1L762.7 495.7L816.4 471.7L872.9 445.8L977.8 395.9L1073.2 348.7L1172.4 297.6"/><path d="M339.9 504.2L342.7 508.4L348.9 514.9L360.4 523.1L369.3 527.9L379.3 532.2L401.7 539.7L427.4 546.2L456 551.8L504.9 559.2L541.5 563.4L571 565.5L591.6 566.1L613 565.8L635.2 564.3L658 561.3L693.7 554.8L731 546.8L756.7 540.3L796.6 528.1L838.1 513.2L881.6 492.9L911.7 477.6L927.1 469.1L1009.2 416L1081.6 364L1139.4 325.1L1200 287.2L1240.9 265.1"/><path d="M342.8 510.6L349.4 518.5L356.8 524.7L365.2 530L379.7 536.4L390.5 539.8L408.3 544.1L428 547.3L449.6 549.8L481.1 552.1L506.6 552.9L533.9 552.8L563 551.8L593.9 549.6L615.5 547.3L637.9 544L661.2 539.6L685.4 533.8L776.6 509.4L877.9 481L972.1 451L1054.4 416.9L1071.1 408.6L1139.7 370.2L1230.2 317.2L1249.2 307.3"/></g><g stroke="url(#g10)"><path d="M343.3 513.8L341.3 522.5L341.4 529.4L342.9 535.3L345.9 540.2L350.2 544.3L355.8 547.4L362.6 549.6L375.2 551.2L385.1 551.3L402.2 550L499.9 538.2L537.1 531.8L556.8 527.5L577.4 522.4L609.7 512.3L691.8 483.8L743.4 464.4L798.6 442.4L889.7 402.5L1067.8 317.2L1126.4 290"/><path d="M350.7 515.9L352.4 525.2L355.9 532.5L360.7 538.7L367 543.9L374.5 548.1L383.2 551.3L393.2 553.4L410.3 554.9L429.9 554.7L504.1 551.8L544.4 548.8L566.2 546L588.9 541.9L612.6 536.4L637.2 528.9L662.6 519.3L688.7 507.3L715.5 493.9L756.5 471.2L798.5 445.8L930 361.9L976.7 334L1025 306.5L1075.5 279.1L1145.3 242.6L1199.2 215.7L1235.5 198.8"/><path d="M353.9 501.3L362.1 502.3L377.3 501.3L397 498.4L420.6 493.9L574.1 461.8L608.2 453.3L644.6 442.7L670.2 433.8L738.7 407.3L972.3 313.4L1055.6 281L1142.3 249.7L1315.2 190.4"/><path d="M342.9 507L340.9 514.8L340.8 518L341.8 523.7L344.3 528.7L350.8 535.1L360.2 540.6L372.3 545.7L392.6 551.9L410.9 556.1L424.6 558.1L439.7 559.3L473.8 558.7L492.5 557.3L512.4 555.2L533.3 552.1L555.3 547.9L578.2 542.5L602.2 535.7L706.8 500.6L778.9 477.7L855.8 455.6L920.8 438.5L1007.5 411.2L1025.5 404.5L1043.9 396.7L1100.4 371L1158.6 342L1198.4 320.8"/><path d="M344.2 517.3L345.6 531.3L348.7 542.7L353.2 552.7L356 557.2L362.5 565.6L370.3 573.1L384.2 582.8L400.7 591L419.8 597.9L441.3 603.3L457 605.9L473.7 607.5L491.4 607.8L519.7 606.6L539.8 604.7L571.7 599.8L594.1 595L629.4 585.3L666.6 572.1L866.7 493.8L965 453.3L1051 411.3L1068.5 401.8L1121.2 370L1229.8 303.1"/><path d="M348.7 505.1L353 513.7L355.6 517.2L361.7 523.6L369 529.2L381.9 536.5L397.1 542.7L420.6 550L447.7 556.5L470.1 560.6L486 562.6L511.2 564.3L538.2 564.4L557.2 563.5L577 561.6L597.6 558.4L619 553.7L630 550.8L652.7 543.5L676.2 535.1L751.8 506.1L835.2 471.6L910.6 437.1L926.4 429.4L1009.5 384.6L1101.3 329.1L1160.2 294.7L1201.1 271.7L1242.3 250.6"/><path d="M357.6 508.6L361.6 514.1L369.7 520.2L376.3 523.4L388.2 527.1L397.2 529L412.5 531L429.7 532.2L448.8 532.7L469.8 532.5L492.4 531.5L516.7 529.7L542.6 526.9L589.5 519.7L630.3 510.7L662.8 501.4L720.8 481.3L878.9 424.9L967.3 392L1060.3 353.7L1156.6 308.6"/><path d="M339.8 515.9L343.1 530.5L347.6 542.3L353.2 552.7L356.5 557.3L363.7 565.7L372 572.7L381.1 578.4L391.2 582.7L407.9 586.9L420.1 588.4L440 589.1L469.8 589.1L521.7 590L560.7 589L592.2 586.8L614.3 584.5L637.3 581.1L661.1 576.5L698.3 567.4L737.2 557L777.9 545.3L805.8 536.1L849 520.8L878.5 509.4L923.5 488.9L969.7 466.4L1063.9 409.2L1111.6 375.1L1160.8 341.4"/><path d="M340.5 520.3L341.7 533L344.6 543.1L348.8 551.9L351.5 555.9L357.7 563L365.1 569.1L378.5 576.5L388.9 580.4L406.4 585L433.6 589.4L456.7 591.6L473.4 592.3L500.2 592L529.2 590L549.7 587.6L582.1 581.9L604.9 576.6L628.5 569.7L652.9 561.2L802.5 502.4L863.3 479.3L960.6 440.7L1028.2 408.4L1062.8 390.6L1203.8 305"/><path d="M348.3 495.7L345 493.6L344.3 491.3L345.4 488.7L348.2 486L358.5 480.2L379 472.7L400.9 466.7L420.4 462.3L529.5 443.4L563.9 435.9L588.4 429.5L759.4 379.1L875.1 344L1097.1 274.5L1264.6 220.8"/><path d="M338.7 511.6L337.8 523.3L338.7 532.8L341.1 541L342.7 544.7L347.1 551.4L352.6 557.1L363 564.2L371.3 568.1L385.8 572.9L402.5 576.4L414.9 577.9L435.4 578.8L450.3 578.1L474.6 575.7L492 573.2L519.8 568L539.4 563.5L570.6 554.9L603.6 543.5L740.4 489L899.9 427.2L998.3 384.5L1126 320.6"/><path d="M331.7 502.3L327.6 502.9L325.9 502.7L332.1 499.9L344.8 496.1L364 491.2L396.4 484.2L499.2 463.7L530.1 456.2L562.8 446.7L585.8 438.8L772.7 366.4L837.2 342.7L889.4 324.2L984.5 292.7L1219.4 220.7"/><path d="M357.6 505.1L360.2 514.9L364 522.9L369.1 529.8L378.8 538.5L386.5 543.4L399.8 549.3L415.3 553.9L432.7 557.3L452 559.6L473.2 561.1L496.3 561.6L521.2 561L548 559.2L566.8 557.2L596.5 552.6L617.3 548.2L649.9 539.3L745.4 508.2L839 475.5L926.5 441.6L941.7 435L1021 398.1L1037.5 389.5L1159.1 322.5"/><path d="M350.5 510.2L351.2 522.9L353.6 533.2L357.4 542.1L359.9 546.2L365.7 553.5L372.7 559.9L385.5 567.6L395.3 571.6L412.2 576.3L431.3 579.7L460.3 582.6L484.7 583.8L511.1 583.7L539.6 582.2L559.8 580.2L591.7 575.3L614.1 570.5L637.3 564.1L686.5 549.1L725.6 536.3L766.7 521.8L824.5 500.3L917.9 460.2L1019.7 408.3L1111.3 354.9L1208.1 301.4"/><path d="M347.4 503.6L352.3 510.1L358.2 515.1L365.1 519.2L377.2 523.9L386.4 526L396.4 527.3L407.2 527.9L424.7 527.5L437.3 526.4L457.5 523.7L548 508.5L598.1 498.1L642.1 486.4L677.2 474.8L727 455.7L779.6 434.5L834.4 410.9L891.1 385.1L1037.2 314L1082.7 292.3L1113.4 278.2L1161.3 257.2"/><path d="M342.7 504.2L353.5 505.4L362.1 505L371.8 503.7L388.2 500.2L413.7 492.8L451.1 479.8L486 466.4L524.6 450.4L555.6 436.6L599.5 415.4L646.1 390.5L682.6 368.7L733.2 336.3L772.5 312.2L799.4 296.6L826.7 281.9L854.8 267.6L883.7 254L959.5 222.7L1058.5 188L1148.3 159.3L1186 148.7L1244.5 133.5L1284.8 123.8L1305.4 119.4"/><path d="M331 521L330.1 535.5L330.4 541.6L332.2 552.6L335.4 562.4L337.5 566.9L342.7 575.1L345.8 578.8L352.8 585.5L361.1 591.1L365.7 593.5L375.8 597.5L381.3 599L393.1 601L406.1 601.6L420.2 601L660.8 577.2L726.4 571.5L768.4 566L797.6 560.8L827.6 553.9L843 549.2L858.6 543.5L874.4 537.3L906.5 523L922.9 515L939.4 505.8L973 483.7L1024.6 448.2L1095.2 393.9L1131.4 368.1L1149.7 356.1"/><path d="M352.8 477.6L353.3 469.8L355.4 456.5L357 450.2L361.2 438.3L363.8 432.5L369.9 421.7L377.3 411.4L385.7 401.9L400.6 388.7L411.8 380.7L424.1 373.3L437.5 366.4L451.9 360.4L475.3 352.8L492 348.8L518.8 344.1L611 332.1L645.5 326.7L773.3 302L874.2 284.1L967.5 268.8L1065.3 255.2L1131.9 246.6L1182.6 239"/><path d="M348.1 499L354.2 500.8L361.4 501.9L374.4 502.5L389.8 502.2L441.8 498.9L527.1 491.9L578.2 486.3L611.5 481.3L647 474.4L671.8 468.2L871.6 410.2L969.8 379.6L1003.5 367.8L1055.5 349L1073 342.2L1144.2 311.9L1237.6 270.3L1318.4 238"/></g><g stroke="url(#g11)"><path d="M356.6 519L359.1 526.8L363 532.8L368.3 538L378.7 544L387 547.2L401.7 550.6L418.8 552.7L438.3 553.6L460 553.5L484 552.2L501.1 550.6L528.6 546.9L558.1 541.6L578.8 537L600.5 531.4L623 524.8L658.4 512.2L776.2 463.7L864.4 426.6L959.2 384.2L1058.3 335.4L1108.7 308.9L1160.4 282.5L1231.9 248"/><path d="M324.6 510.4L320.7 516.7L319.8 519.3L319.4 523.8L320.8 527.6L325.8 532.3L334.1 536.2L345.6 539.5L360.2 542.2L378.1 544.3L399.2 545.3L423.6 545.3L450.8 544.3L480.6 542.4L524.2 537.8L547.6 534.3L572 529.8L597.3 524L678.4 503.7L736.6 489.9L897.5 454.4L933.1 444.3L988.3 427.4L1007.4 420.7L1026.9 412.4L1087.2 385.1L1149.4 354.3L1213.4 320.7"/><path d="M353.6 511.6L354.2 522.7L356.3 531.8L359.8 539.7L362 543.3L367.3 549.8L373.7 555.5L385.5 562.7L394.6 566.8L410.2 571.8L428 575.7L441.1 577.6L462.5 579.2L478 579.4L502.8 578.2L529.6 575.7L558.3 571.5L578.5 567.7L599.5 562.9L621.4 557L655.6 545.7L838.7 480.3L944 440.4L1040.5 397.4L1141.5 343"/><path d="M345.9 518.7L347.4 531.5L350.4 541.9L354.6 551.1L357.2 555.3L363.3 563L370.4 569.9L383.1 578.8L398 586.1L415.1 591.9L434.4 596.3L448.4 598.3L463.3 599.6L487.2 600.2L513.1 599.4L540.9 597.1L570.6 593.2L591.5 589.5L624.2 582.1L647.1 575.6L844.2 513.8L919.3 487.1L950.7 475.4L1015 445.1L1048.1 428.5L1150.3 364.6"/><path d="M362.9 500L367.1 503.4L372.4 505.7L378.9 507.5L390.6 509.2L404.5 510L420.5 509.9L458.3 507.9L520.9 502.4L566.9 496.8L607.5 490L629 485.4L651.4 479.8L698.4 465.4L788.3 436.1L872.6 407.3L963 374.6L1058.8 336.9L1212.7 271.3"/><path d="M331.8 510L329.2 518.8L328.8 525.8L330.1 531.7L331.4 534.4L335.1 539L340.2 542.9L350.5 547.5L359.1 549.8L374.3 552.3L392.3 553.8L420.5 554.5L453.1 553.7L480.5 552L510.1 549.1L531.2 546.2L553.3 542.4L576.3 537.5L612.6 527.4L719.9 494.2L794.6 469.7L892.5 434.6L1000.4 389.7L1201.7 293"/><path d="M347.8 499.7L354.3 504.6L361.6 508.3L369.8 511.2L383.9 514.4L394.3 516L411.3 517.4L430 518L450.4 518L513.1 515.4L568.3 511.1L598.6 507.6L619.8 504.5L641.8 500.6L664.7 495.7L688.3 489.5L777.2 464.2L875.2 434.6L934.6 414.8L980.9 398.7L1059.9 366.9L1076 359.8L1209.8 295.4"/><path d="M345.3 521.8L348 535.5L352.3 546.5L358 556L361.3 560.2L369 567.7L377.9 573.9L387.9 578.8L399.1 582.5L418 586.1L439.3 587.6L463 587.6L507.9 586.3L538 584.1L570.4 580.4L605 574.7L629.4 569.5L654.7 562.8L722.1 540.8L765.4 525.6L795.2 514.2L873.4 482.3L938.7 451L972.4 434.2L1057.9 385.2L1145.5 330.4L1200.2 298.1L1237.7 276.9L1276.9 257.6"/><path d="M349.3 507.5L347.4 515.3L347.4 521.4L349 526.6L350.3 528.8L353.8 532.7L358.7 535.9L368.1 539.5L375.7 541.3L389.1 543.1L404.8 544L422.7 543.8L436 542.9L450.4 541L474.2 536.7L491.2 532.9L528.4 522.9L558.8 512.8L591.3 500.1L699.5 452.8L894.5 370.9L1047.6 303.2L1123.9 271"/><path d="M341.5 502.2L338.6 504.3L338.1 505.7L339.4 506.6L344.2 507.5L413.5 508.9L436.8 508.2L472.9 505.8L503.3 502.6L525 499.7L559.4 493.8L583.5 488.6L660.4 469L700.9 459.8L742.9 451.4L832.5 435.3L864.7 428.8L898.2 421.4L952.1 404.5L989.8 390.9L1009.3 382.8L1070 354L1195.8 291.7L1216.9 282.1L1237.9 273.7"/><path d="M353.6 487.1L358.8 480.2L365 473.7L372.2 467.3L384.9 457.9L399.6 448.7L410.4 442.8L434.5 431.4L454.7 423.3L484.5 412.9L593.9 379.5L637.1 364.5L659.9 355.5L786.1 300.8L856.4 271.9L900.6 255.2L962.1 233.1L1042.6 208.7L1092.9 195.8L1145.2 183.4L1217.6 168.5"/></g><g stroke="url(#g12)"><path d="M347.3 506.3L349.9 510.4L355.6 516.8L362.6 522.1L370.6 526.6L379.7 530.3L389.7 533.3L400.5 535.4L412.1 536.8L430.8 537.4L474.1 535.7L490.8 535.7L580.9 541.2L603.7 542.1L627.3 542.3L651.7 541.2L664.1 540L676.6 538.2L702 533.3L727.7 526.8L740.7 522.9L753.8 518.5L780.2 508.4L820.3 489.6L905.4 445.7L935.9 431.7L951.8 425.2L984.3 412.6L1001 406.7L1018 401.3L1053.1 391.3L1088.6 379.4L1124.5 366.1L1142.6 358.7L1179.1 342L1197.4 332.5L1234.3 311.3L1253.2 301.3"/><path d="M339.9 503.8L336.8 518.5L336.2 530.4L337.4 540.6L340.4 549.5L344.9 557.1L347.7 560.4L354.5 566.3L362.7 571.2L377.4 577.2L395 582L415.3 585.7L430.4 587.4L455.3 588.4L482.8 587.7L502.5 586.2L534.2 582L556.8 577.6L580.4 571.6L592.6 567.9L657.6 544.8L714.2 523.1L906.6 446.6L996.9 408.2L1015.8 399.5L1134.8 341.6L1197.5 310.1L1239.5 291.9"/><path d="M360.4 507L363.4 514.5L367.7 520.4L373.1 525.5L383.2 531.7L391.2 535L405 538.8L415.3 540.7L432.4 542.3L444.9 542.8L465 542.3L487 540.9L519.2 537.7L564.1 531.5L593.5 526.2L614.1 521.7L635.6 516.4L657.8 510L850.4 450.4L893.8 435.9L954.1 414.8L984.9 402.1L1048.1 374.7L1080.1 358.5L1162.5 315"/><path d="M336.7 513.4L342.9 525.6L350 535.3L358.3 543.6L362.8 547.2L372.7 553.6L383.6 558.9L401.9 565.3L415.3 568.8L437.5 573.1L462 576.5L479.5 577.9L497.7 578.3L516.3 577.2L545.8 574L566.5 570.8L598.9 564.2L621.5 558.4L644.8 551.2L668.9 542.3L706.4 525.9L786.6 487.9L920.4 423.4L1019.2 377.5L1071.6 353.9L1124.6 328.3L1255.1 266.7L1275.1 258.4"/><path d="M347.6 498.1L396.7 485.3L440 476L483.6 468.4L562 456.8L602.1 450.2L634.4 443.9L668.7 435.6L883 370L990.2 336.1L1085.2 303.9L1149.6 280.4L1216.5 255.2"/><path d="M347.3 492.3L345.9 490.2L346.8 487.9L349.4 485.4L353.5 482.7L369.9 475.3L388.9 469L412.7 462.8L434 458.3L515 444.7L547.2 438.5L570 433.5L593.9 427.3L758.5 376.6L1089.5 273.1L1277.5 213.3"/><path d="M335.8 512.4L336.9 529.3L339.7 543L343.8 555.2L346.3 560.7L352.3 570.7L359.3 579.5L363.3 583.4L371.9 590.3L381.6 596.1L386.8 598.5L398 602.4L410.1 605.1L430.1 606.9L460 606.3L484.8 604.8L521 600.8L550.3 596.6L581.6 591L603.4 586.2L626 580.4L724 553.1L777.7 536L820.1 520.6L849.7 507.5L880.3 493.2L911.9 477.1L996.8 425.3L1090 362.8L1128.9 338.3L1168.6 314.5"/><path d="M350.6 511L354.4 520.8L359.4 528.7L365.6 535.6L376.8 544.5L385.5 549.4L400.3 555.7L417 560.7L435.6 564.5L456.2 567.3L486.3 569.6L511 570.3L537.5 570L565.8 568.5L585.6 566.7L616.8 562.4L638.6 558.3L661.1 552.9L708.5 539.8L759 525.2L798.9 513L854.6 495.6L943.2 463.5L958.6 457.2L1037.7 420.5L1054 411.8L1172.9 342"/></g><g stroke="url(#g13)"><path d="M348 511.6L347.6 525.8L349 537.3L351.9 547.4L353.9 551.9L358.8 560.1L364.9 567.3L376.2 576.3L385.1 581.5L400.4 588.1L418 593.6L430.9 596.4L444.8 598.3L459.8 598.9L484.2 597.5L501.7 595.4L529.6 590.5L549.5 585.7L581 576.1L603.1 567.7L675.1 535L858.9 446.7L906.3 424.4L1007.9 374.7L1099.8 328.3L1177.3 290.6"/><path d="M368.3 515.3L369.6 521.8L370.8 524.5L374.2 529.2L378.9 533.2L388 538L395.4 540.5L408.4 543.6L423.6 545.8L447 548.1L481.3 549.7L496.5 549.3L521 547.4L538.3 545.3L556.4 542.4L575.4 538.4L595.2 533.3L615.9 526.7L637.4 518.5L671.2 504.5L719.2 483.5L825.5 434.5L1078.8 316.1L1169.5 274.5"/><path d="M338.6 512.5L340.4 528.1L343.9 540.7L348.8 551.8L354.9 561.5L362.3 569.9L366.5 573.6L375.6 580.2L385.9 585.8L403.4 592.7L430.5 600.1L461.9 606.5L488 610L516.4 612L547 612.2L568.5 611.2L602.6 607.3L626.4 602.8L651 596.3L663.7 592.3L702.9 578.7L730 568.3L758 556.8L786.6 544.1L861.5 508.3L957.1 457.4L1006.8 428.2L1058.4 399.3L1093.3 378.1L1129 357.2L1165.5 336.9L1221.8 306.6"/><path d="M342.6 526.8L344.5 540.4L347.9 551.3L352.7 560.8L355.5 565L362 572.5L369.6 578.8L378.2 583.9L387.9 587.8L404.2 591.7L422.6 593.7L443.2 594.4L490.5 594.8L526.5 593.7L555.8 591.5L587 587.6L608.9 583.8L631.5 578.7L679.3 565.4L717.3 554.1L743.6 545.8L784.6 531.6L827.4 515.9L842.1 509.8L918.9 475.5L934.9 467.1L1018.8 420.3L1109.1 362.6L1185.3 316.9"/><path d="M336.1 525.8L336.1 539.4L337.9 550.3L341.3 559.9L343.6 564.2L349.1 571.9L355.9 578.4L364 583.8L373.2 588.1L389.4 592.9L414.8 597L452.4 600.2L487.1 601.8L515.6 601.8L546.3 600.3L579.2 596.7L602.2 592.9L626.2 587.4L663.9 577.1L703.6 565.4L731.3 556.6L774.5 541.4L819.7 524.5L835.2 518L916.3 481.8L933.3 473.2L1021.4 425.9L1115.2 368.5L1213.8 312.3"/><path d="M346.5 505.5L347.1 522.8L348.1 530.2L351.1 543.5L355.4 555.2L358 560.6L364.1 570.4L367.6 574.8L375.4 582.7L384.2 589.3L389 592.1L399.4 596.8L405 598.5L416.9 600.8L429.8 601.5L451 599.8L555.8 584.3L654.1 571.7L728.4 563.7L768.2 557.4L795.8 551.3L809.9 547.5L824.2 543.2L838.7 537.9L868.5 524.7L883.8 517.2L914.9 500.4L930.8 490.9L946.9 479.7L1013.7 433.4L1065.9 395.6L1083.7 383.5L1119.7 360.6L1156.3 340"/><path d="M334.2 526.6L336.8 543.5L341 557.1L346.7 569L350.1 574.3L357.8 583.9L366.8 592.2L371.7 596L382.5 602.7L394.5 608.5L414.5 615.7L437.1 620.9L453.4 623L470.7 623.8L489 623.3L518.4 620.9L539.2 618.2L572.2 612.3L595.4 607L632.1 596.4L657.7 587.4L863.2 506.7L964.7 464.5L1054.3 421.6L1244.6 309.9L1285.9 290.9"/><path d="M343.9 513.2L346.8 527.4L351.1 538.9L356.5 549.1L359.6 553.7L366.7 562.3L374.8 569.8L388.7 579.6L404.9 587.6L423.1 594.3L443.3 599.8L465.5 604.2L481.3 606.3L506.6 607.9L533.6 608L562.5 606.5L593.2 603L614.7 599.3L636.9 594.3L659.9 587.9L708.1 571.8L759.4 553.6L856.1 515.8L945.8 476.6L961.3 469.5L1057.4 419.5L1158.4 358.5"/></g><g stroke="url(#g14)"><path d="M334.6 523.5L337.5 535.8L341.8 545.8L347.2 554.5L350.4 558.4L357.5 565.6L365.7 571.8L379.9 579.6L396.4 585.6L414.9 590L435.4 592.6L450.1 593.4L473.8 593.2L499.4 591.5L526.9 588.5L556.2 584.2L587.5 578.3L609.3 573.5L632 567.6L655.6 560.7L786 516.1L873.8 483.8L935.1 457.4L966.7 443.1L982.5 435.2L1062.3 390.6L1159.5 328.7"/></g><g stroke="url(#g15)"><path d="M340 520.3L341.2 535.7L343.9 548.3L347.8 559.3L350.3 564.3L355.9 573.2L362.7 580.9L370.4 587.3L379.1 592.4L383.8 594.5L393.9 597.8L405 599.8L423.2 600.9L489.6 599.2L515.5 598L543.2 596.1L572.6 593.1L603.8 588.6L625.5 584.4L707.3 564.9L732.3 558.3L758.1 550.7L798.3 537.8L826 527.8L869.2 508.9L914.4 487.5L945.9 469.1L1011.5 429.5L1063.7 393.6L1117.8 357.9"/><path d="M351.6 510.4L355.5 519.4L360.7 526.4L367.2 532.3L374.9 537.2L383.7 541.1L393.5 544L404.3 546.1L422.4 547.8L442.6 547.9L473 546.4L507.4 543.6L535.7 540.3L566.1 535.8L587.6 531.8L609.9 526.8L633 520.7L657 513.2L694.6 498.9L747.3 477.2L788.8 459.1L876.4 419L970.2 374.5L1138.9 293.2L1247.3 242.9"/><path d="M343.8 503.4L343 518.3L344.2 530.3L347 540.7L351.2 549.7L356.9 557.4L360.2 560.8L367.9 566.7L376.8 571.5L392.4 576.9L410.6 580.4L431.3 582.3L454.4 583.1L479.8 582.5L507.5 580.5L527.2 578.2L558.5 573.1L580.6 568.2L603.7 561.9L627.7 554L718.9 521.1L806.2 486.7L902.2 445.4L1007.6 394.5L1083.9 353.8L1143.4 322.8L1205 291.2L1225.5 282.2"/><path d="M344.8 513L349.2 523.3L354.7 531.5L361.3 538.6L373 547.6L382 552.6L397 558.7L408 561.9L426 565.8L452.8 569.4L482.9 571.9L516.2 573.4L543.1 573.6L571.9 572.7L592 571.2L623.6 567.5L645.6 563.6L668.4 558.3L716.1 545.6L753.9 534.9L793.2 522.7L848.2 504.5L862.4 499.3L935.8 470L951.1 463.4L1029.8 423.7L1046.1 414.6L1130.8 363L1166.2 342.2"/><path d="M347.8 523.1L350.3 532.7L354.2 540.3L359.2 546.8L365.5 552.3L376.8 558.8L385.7 561.9L395.4 564L406.1 565L417.6 565L430 564L480.4 557.2L563.5 553.2L606.7 550L629.8 547.2L653.6 543.1L690.9 534L729.7 522.3L756.2 512.7L783.2 501.5L810.5 488.6L838.1 474.3L866.1 458.9L937.6 415.9L982.4 389.8L1013.2 372.5L1045.3 356.3L1094.8 332.2L1164 300.6"/></g></g><g clip-path="url(#tclip)"><g fill="none" stroke="#000088" stroke-width="2" stroke-linejoin="round" stroke-linecap="round"><path d="M396.4 488.7L397 482.8L398.4 477.8L400.6 474L403.4 471.4L406.4 470.2L409.5 470.4L412.4 471.9L415 474.7L417 478.5L418.3 483.2L418.7 488.5L418.2 494.2L416.8 500L414.5 505.6L411.4 510.8L407.5 515.4L403.1 519.2L398.1 522.1L393 524L387.7 524.9L382.5 524.9L377.6 523.9L373.1 522.2L369 519.9L362.7 514.1L358.9 508.2L356.6 500.8L355.6 503.6L353.1 507.3L348 511.6"/><path d="M430.7 505.5L425.2 507.4L419.6 508.6L414 508.9L408.6 508.4L403.3 507.2L393.9 502.9L386.4 496.9L381 490.1L379.2 486.8L376.9 480.9L376.3 476.7L377 474.6L377.5 476.1L377.3 479.6L374.8 487.3L369.1 495.5L363.7 500.2L357.6 503.5L351.3 505.3L342.7 505.4L340.3 504.8L338.5 503.5"/><path d="M397.8 468.4L398.2 471.8L397.1 475.6L393.1 481.8L388.9 485.2L386.5 486.5L381.3 488.1L375.9 488.1L368.8 485.8L365.1 483.3L358.1 477.1L347.6 480L342 479.3"/><path d="M434.8 434.6L432.1 435.6L429 437.8L414.7 451.9L404.1 460.9L393.9 467.9L385.2 472.7L372.4 477.9L362.1 480.6L351 481.9L342.4 481.4"/><path d="M388.8 516.8L379.9 521L375.3 522.1L366.3 522.6L357.6 520.7L353.6 519L346.5 514.3L343.4 511.4L338.4 505L335 498.2L333.1 491.6L332.6 485.6L333.2 480.8L335.5 476.3L336.4 475.7L338.3 475.5L339.8 476.8L340.6 479.3L340.5 482.7L339.2 486.5L335.1 491.8L329.8 494.5"/><path d="M391.3 504.5L388 501.4L382.8 494.3L380.9 490.5L378.4 483.2L377.6 476.7L378.2 471.5L379.8 468L380.8 466.9L383 466.4L384.9 467.7L386.2 470.7L386.3 477.4L383.6 485L378.3 491.8L371.2 496.5L363.5 498.3L356.4 497.2L352.7 495.1L351.5 493.2"/><path d="M450.8 470.1L444.9 470.9L438.9 470.7L433.3 469.5L428.1 467.5L423.5 464.9L416.3 458.7L412 452.8L409.5 447.9L407.6 455.6L404.2 462.7L398.7 470.1L391.3 476.6L382.7 481.3L373.9 483.8L365.7 484.5L353.2 484.1L348.7 484.9L344.6 487.4L337.6 494.6"/><path d="M360.8 486.5L362.1 481.5L364.5 478.7L367.2 478.3L368.9 479.3L370.4 481.2L371.9 485.6L372.2 491.2L371.2 497.3L369.8 501.4L365.5 508.8L359.9 514.2L356.9 515.9L352.6 517.2L350 517L348.9 516"/><path d="M476.3 499.3L467 502.2L462.2 502.7L452.9 502L444.8 499.6L431.3 492.4L428.1 491.5L425.3 492.4L415.4 501.4L409.5 505.7L398.9 510.9L387.7 513.4L366.4 514.7L361.5 516.2L356.6 519"/><path d="M426.3 512.2L419.8 510.3L413.9 507.4L408.7 503.8L404.2 499.6L400.7 495.2L396.2 486.7L394.6 480.1L394.7 478L395.6 476.5L396.5 478.9L396.1 484.5L393.4 492L391.2 496L384.9 503.5L376.6 509.4L367.3 512.8L358 513.5L349.5 512.2L342.6 509.7L335.2 506.2L331.6 505.5L328.4 506.6L324.6 510.4"/><path d="M386.5 516.2L380.8 514.9L378.3 513.5L374.3 509.6L372 505L371.4 500.9L372 497.9L372.6 497L374.2 496.7L375.9 499.5L375.5 504.7L372.4 510L369.2 512.6L365.5 513.9L361.9 514L357.5 512.5L353.8 509.7L353 510L352.8 510.8"/><path d="M419 522L412.2 514.5L408 506.6L406.8 502.9L405.8 496.5L406.5 492.3L407.9 490.7L409.3 491.7L410 495.1L409.4 500.1L407.1 506L403 511.9L400.4 514.5L394.3 518.8L390.8 520.4L383.6 522.1L380 522.3L373.1 521.4L367 519.3L355.3 511.8L353.6 511.6"/><path d="M447.5 453.3L448.2 452.4L449 452.7L449.7 453.9L450 459.4L447.9 467.4L445.7 471.8L442.8 476.1L439.2 480.2L434.9 483.8L430.2 486.8L425 489L419.7 490.3L414.3 490.8L409 490.5L404 489.5L399.4 487.9L391.6 483.5L382.2 475.3L379.7 473.8L377.3 474.5L367.4 483L361.1 486.6L354 488.9L350.3 489.4L346.7 489.5L343.3 488.7"/><path d="M392 497.7L388.3 496.5L381.8 492.8L379 490.6L374.5 485.5L371.7 480.3L370.2 475.6L370.2 470.8L370.6 470L371.6 469.6L372.5 470.8L372.9 473.5L372 479.2L368.9 485.7L363.8 491.3L359.7 493.9L353.3 495.9L347.7 495.8L344.9 495L344.1 494"/><path d="M393.6 462.5L396.1 462.5L398.2 464.4L399.7 467.9L400.2 472.7L399.5 478.4L398.4 482.3L395.8 488.1L393.4 491.8L387.5 498.1L384.1 500.5L378.9 503.1L375.4 504.1L370.4 504.5L366.1 503.4L364.9 502.1"/><path d="M457.1 477.2L452.6 483.5L446.4 489.1L439.1 493.5L431 496.1L422.8 496.8L418.8 496.6L411.4 494.9L405.1 492.3L392.9 484.8L390.4 484.2L386.8 485.7L378.2 492.6L370.8 497L362.3 499.9L356.5 500.5L353.7 500.2"/><path d="M428 488.7L425.5 479.4L424.7 470.7L425.4 463L427.4 456.9L430.4 452.5L434 450.1L437.8 449.7L441.5 451.4L444.7 455L447.1 460.2L448.5 466.8L448.6 474.3L447.4 482.3L444.7 490.4L440.8 498.2L435.6 505.2L429.5 511.3L422.5 516.1L415.1 519.5L407.4 521.3L399.8 521.8L392.5 520.8L385.7 518.8L379.7 515.8L374.6 512.2L367.1 504.4L361 494L357.3 501.4L355.1 504.6L348.4 511L343.3 513.8"/><path d="M368.3 516.8L360.6 513.5L354.4 509L349.1 502.8L344.8 494.1L342.2 499.6L338.6 504.6"/><path d="M492.4 503.3L487 508.7L481 513.5L474.7 517.5L468 520.8L461.1 523.2L454 524.8L447 525.6L440.1 525.6L433.3 524.8L420.8 521.2L415.1 518.6L405.2 512.3L401 508.8L394.3 501.9L384.7 487.9L383.4 487.3L375 500.4L366.7 509.2L359.5 514.3L355.5 516.4L351.1 518L345.9 518.7"/><path d="M465 485.9L453.9 483L444.1 478.7L432.1 471L417.8 458.9L414.9 457.5L413.6 457.4L409.4 459.6L399.4 469.4L390.6 476.7L383.5 481.2L375.7 484.9L367.6 487.7L355.3 489.9L347.6 490L344.1 489.8L340.9 488.8"/><path d="M484.4 494.9L476.6 497.7L468.7 499.6L460.6 500.7L448.8 501L441.2 500.3L430.6 498.4L402.5 490.9L393.5 490.2L389.1 490.7L382.2 492.4L362.9 500"/><path d="M465.5 465.1L457.1 476.1L451.9 481.3L446.2 486L436.7 491.9L429.9 495L423 497.4L412.6 499.7L399.1 500.4L386.9 499L364.5 493.6L361.6 493.4L359.9 493.9"/><path d="M422.4 503.7L415.2 498.2L404.5 488.5L402.6 487.3L400.9 487L397.4 489L388.2 498.8L382.4 504L373 510.3L365 513.9L359.4 515.5L353.7 516.2L350.7 515.9"/><path d="M380.4 499.5L376.7 494.3L373.9 489.2L370.7 479.5L370.1 475.4L370.2 470.4L371.5 466.6L372.9 465.9L373.5 467.9L372.9 470.8L371 474.1L369.1 476.3L363.3 479.9L356.4 481.1"/><path d="M355.6 492.2L354.5 486.2L354.3 480.9L354.8 476.6L355.9 473.2L357.4 471.1L360.1 470L362.6 471.7L364.6 475.7L365.6 481.6L365.1 488.9L363.1 496.8L359.4 504.6L354.4 511.7L350.4 515.7L345.8 518.8L343.2 519.9L340 520.3"/><path d="M418.1 453.3L417.5 463.1L416.4 468L412.6 477.7L410 482.1L407 486.3L399.9 493.3L395.9 496L387.4 499.9L383 501L374.3 501.4L366 499.9L358.7 496.7L352.6 492.3L347.8 487.4L343.1 480.1L340.1 471.9L334.3 480.9"/><path d="M443.1 537.3L435.3 534.5L428.2 530.2L422.2 524.7L417.4 518.2L413.9 511.2L411.8 504.2L410.9 497.5L411.3 491.5L412.7 486.6L414.9 482.9L417.6 480.6L420.5 479.9L423.4 480.7L425.9 483L427.9 486.4L429.2 490.8L429.5 496L428.9 501.5L427.3 507.2L424.7 512.5L421.2 517.4L417 521.5L412.2 524.7L407.1 526.8L401.9 527.9L396.8 527.9L391.9 527L387.4 525.4L380.3 520.5L375.7 515.1L372.2 509.4L368.3 515.3"/><path d="M435.2 472.2L429.7 467L420.9 456.3L419.7 457L412.4 467.8L407.8 472.7L398.9 479.2L392 482.5L384.6 484.5L373.7 485.4L367 484.8L351.3 481.8L347.5 481.9L346 482.5"/><path d="M472.3 472.2L468.3 473.1L462 475.8L443.9 486.4L434.3 491.4L423.7 495.9L416.2 498.3L408.5 500.3L397 502.3L385.7 503.3L358.7 504.3L347.3 506.3"/><path d="M471.9 470.5L464.7 478.6L460.2 482.2L455.3 485.2L449.9 487.6L444.4 489.2L438.7 490.1L433.1 490.3L422.5 488.5L413.5 484.9L399.7 475.8L396.6 474.9L393.7 476.3L385.5 484.4L379.3 489.4L372 493.8L368 495.6L355.6 498.9L337.8 500L332.6 500.9"/><path d="M422.7 488.1L416.7 486.2L412.2 485.6L407.8 485.9L403.3 486.9L394.8 490.4L367.9 503.9"/><path d="M488.1 488.9L485 497.6L480.4 505.8L474.4 513.1L467.4 519.3L459.5 523.9L451 526.9L442.3 528.1L433.7 527.6L425.5 525.5L418.1 521.9L411.5 517.3L406 511.9L401.7 506L398.5 500.2L396.5 494.6L395.3 485.8L395.7 483L396.5 481.4L397.4 481.1L398.2 482L398.6 484L398.5 486.9L396.1 494.6L393.7 498.7L390.5 502.7L386.7 506.3L382.2 509.3L377.3 511.6L372.2 513.1L367 513.7L361.9 513.5L357.2 512.6L349 509.5L339.9 503.8"/><path d="M428.5 494L423 502.9L419.8 506.7L412.3 513L404.1 517L399.9 518.2L391.5 518.9L387.5 518.4L380 516.1L373.6 512.3L368.5 507.5L364.8 502.3L362 495L361.9 489.6L363.4 487.3L364.6 487.7L365.7 489.6L366 494.8L364 501.6L360.4 507"/><path d="M440.9 480L429.8 475.1L424.2 473.2L417.4 472.4L412.6 473.1L404.2 476.8L385.5 488.4L375.2 494L363.7 498.8L353.9 501.3"/><path d="M443.5 461L439.3 470.5L435.7 475.6L431.1 480.5L422.5 486.5L412.7 490.2L402.5 491.3L392.8 490.2L384.4 487.4L370.2 480.2L365.9 478.9L360 479.6L354.6 482.4"/><path d="M425.5 485.8L419.1 475.8L416.9 470.8L414.5 461.5L414.1 457.5L414.7 451.1L416.6 447.3L417.7 446.6L418.9 446.6L420.9 448.6L421.9 453.1L421.3 459.3L419 466.3L414.8 473.5L412 476.8L405.4 482.5L401.6 484.8L397.7 486.6L389.4 488.8L385.3 489.2L377.4 488.6L370.3 486.5L364.4 483.6L358.4 479.3L357.7 477.9"/><path d="M427.4 501L417.2 502.3L407.3 502L397.9 500.4L389.3 497.5L381.6 493.8L372 487.3L364.8 480.8L356.6 472L354.4 471L352.4 472.7L342.3 487.5L337.8 492.4L331.6 497.8"/><path d="M409 513.4L404.6 509L397.5 499.9L394.8 495.3L390.8 486.5L388.7 478.7L388 472.6L388.5 468.4L389 467.2L390.1 466.3L391.4 469.1L391.3 473.1L390.1 478.4L387.7 484.5L381.5 493.9L375.8 499.6L372.6 502L365.5 506L361.8 507.5L354.2 509.2L346.7 509.2L343.2 508.6L339.8 507.4L336.6 504.8"/><path d="M394.7 500L387 505.7L381.8 508.1L376.4 509.5L371 509.9L364.4 509.2L348.9 504.4L345.2 505.1L342.9 507"/><path d="M426.7 424.4L429.5 425.9L432.1 428.6L434.1 432.4L435.4 437L436 442.4L435.8 448.3L434.7 454.3L432.7 460.4L429.8 466.2L426.2 471.7L421.9 476.5L417.1 480.5L411.9 483.7L406.4 486L400.8 487.3L395.3 487.7L390.1 487.3L385.1 486.1L380.6 484.3L373.3 479.5L368.3 474.2L365.7 469.7L364.6 466.8L363.5 474.3L359.2 483.3L354.3 489.1L351.2 491.4L347.3 493.1"/><path d="M456.9 529.7L449.1 526.5L441.8 522.3L435.4 517.4L429.8 511.9L425.2 506.1L421.5 500.2L418.7 494.5L415.6 484.2L415.2 476.7L415.7 474.3L416.5 472.9L417.4 472.6L418.8 474.8L419.2 477.2L418.4 484.1L415.3 492.8L412.8 497.4L405.9 506.2L401.6 510.1L391.8 516.4L381.1 520.2L375.6 521.1L365 521.1L355.6 519.3L338.6 512.5"/><path d="M435.8 466.5L422.4 454.2L420.2 452.9L418.1 452.7L414.9 454.7L405.2 464.3L397.9 470.2L389.1 475.5L382.6 478.3L372.3 481.1L362.1 482.1L352.7 481.6L347.2 480.6L344.9 479.6"/><path d="M371.3 449.6L375 450L378.5 451.6L381.7 454.1L384.3 457.6L386.4 461.7L387.8 466.5L388.4 471.5L388.3 476.7L387.5 481.9L385.9 486.9L383.6 491.4L380.8 495.3L377.5 498.6L373.8 501.2L369.9 502.9L366 503.7L362.1 503.8L358.4 503.1L352 499.8L349.4 497.4L345.7 491.9L344.7 489L344.1 483.9L345.1 480.3L346.9 478.8L348.8 479.4L349.5 480.4L350.2 483.5L350 485.4L348.5 489.2L347.1 490.9L344.8 492.3"/><path d="M437.3 472.1L423.6 469.4L413.9 468.2L404.8 468.3L398.2 469.4L384.5 473.8L352.2 487.4L339.8 491.4L333 493"/><path d="M435.8 465.1L413.2 488.8L403.6 497.2L392.8 505.1L381.2 512.1L366.5 519.1L349.8 525.3L344.9 526.7L342.6 526.8"/><path d="M401 502.1L395.6 509.8L388.9 516.4L381.2 521.3L377.1 523.1L370.8 524.9L360.6 525.6L351.2 523.8L346.4 521.9L341 518.8L337.3 515.4L336.7 513.4"/><path d="M466.3 460.2L451.8 470.4L441.2 476.7L429.2 482.1L419.5 485.2L409.7 487.2L399.9 488.1L387.5 488.2L366.3 487.1L357.9 487.8"/><path d="M395.3 502.2L388 497.8L384.1 496.7L380.3 498.3L367.4 507.5L361.4 510.2L357.1 511.5L350.4 512.5L344 512.5L338.1 511.7L331.8 510"/><path d="M417.6 463.1L419.5 467L420.8 471.6L421.6 476.5L421.2 487.1L420 492.5L415.8 502.7L412.8 507.2L405.6 514.8L401.4 517.6L392.6 521.3L383.7 522.2L375.4 520.5L368.3 516.9L365.4 514.6L360.7 509.5L357.1 502.1L356.4 498.5L356.9 496.2L357.4 497L357.4 499.5L356.4 503.2L353.9 507.6L351.6 510.4"/><path d="M425.7 459.7L423.1 468L420.7 473.3L414.4 482.8L410.6 487L404.3 492.1L399.7 494.9L392.7 497.7L387.8 498.9L380.7 499.4L373.9 498.6L367.6 496.5L362.1 493.4L357.6 489.4L354.7 484.4L354.4 481.6"/><path d="M416.6 501.4L409.6 503.7L402.5 504.9L395.6 505L385.9 503.4L380.1 501.4L372.7 497.5L359.8 487.3L357.5 486.3L354.7 487.7L346.8 495.6L340.9 500.1"/><path d="M372.4 541.1L368.3 537.8L361.8 529.9L357.5 521.1L355.6 512.2L355.7 504.1L356.5 500.7L359 495.4L360.7 493.6L364.3 491.8L366.2 491.8L369.6 493.5L372 497.2L372.8 499.5L373.3 504.9L373 507.8L371.2 513.4L369.7 516L366 520.4L361.5 523.4L359.1 524.3L354.2 524.8L351.9 524.5L347.8 522.8L344.9 519.8L344.2 517.3"/><path d="M453.9 505.9L449.1 511.7L443.5 516.3L437.2 519.8L430.6 521.8L423.9 522.4L417.3 521.6L411.2 519.5L405.6 516.4L400.7 512.4L396.8 507.8L393.8 502.9L391.7 498L390.6 493.4L390.3 489.4L391.4 483.8L392.6 482.5L393.9 482.2L395 482.9L395.9 484.6L396.4 487.1L395.6 493.7L394.2 497.4L389.5 504.4L386.3 507.4L382.6 509.8L378.7 511.6L374.6 512.7L366.6 512.8L359.6 510.9L350.5 505.5L348.7 505.1"/><path d="M380.9 458.1L377.8 460.4L367 471.8L360.6 477.1L351.9 482.4L344.9 484.8"/><path d="M419.6 465.5L419.7 470.9L418.6 476.4L414.1 487L409.9 493.4L406.4 497.4L398.2 504.4L388.9 509.5L384.1 511.2L376.9 512.7L370.1 513L363.9 512.1L358.9 510.2L357.6 508.6"/><path d="M453.1 514.4L445.7 507.6L439.9 499.7L435.8 491.1L433.5 482.6L432.9 474.6L433.7 467.8L435.8 462.4L438.7 458.8L442.1 457.2L445.6 457.7L448.8 460L451.3 464.1L452.8 469.6L453.1 476L452.2 483.1L449.8 490.2L446.2 497L441.4 503.1L435.6 508L429.1 511.7L422.2 513.9L415.2 514.7L408.4 514L402 512.1L396.3 509.2L391.5 505.6L387.5 501.6L382.4 493.9L379.2 486.5L374.8 492.2L372.2 494.6L368.9 496.7L364.3 498.6"/><path d="M392.1 495.9L391.9 490.1L392.8 487.2L393.7 486.8L394.4 487.8L394.5 493L392.8 498.9L389.3 505.6L385.9 510L381.7 514L376.8 517.4L371.5 520.1L362.9 522.4L354.3 522.6L348.8 521.5L343.9 519.5L341.7 518.1L339.8 515.9"/><path d="M414.3 511L408.7 508.6L403.7 505.3L399.5 501.3L396.2 497L393.7 492.5L391.2 484.1L391.6 478.1L392.6 476.3L393.8 475.6L395 475.8L396.3 477L397.2 479.1L397.9 485.5L397.3 489.5L394.4 498L392 502.2L385.6 509.4L377.8 514.4L369.5 516.8L365.6 517.1L358.5 516.3L349.1 512.9L346.4 512.5L344.4 513.9L340.5 520.3"/><path d="M384.6 489.2L386.1 493.2L386.9 497.8L386.9 502.7L386.2 507.6L384.7 512.4L382.4 516.9L379.6 520.8L376.2 524.1L372.4 526.5L368.4 528.1L364.3 528.9L360.3 528.7L356.5 527.8L353 526.2L347.4 521.4L344.1 515.6L343.3 512.7L343.1 507.9L343.7 506.2L345.5 504.4L347.5 505.1L348.3 506.3L349.1 509.9L348.6 514.4L346.5 518.9L343.4 522.4L339.7 524.4L336.1 524.6L334.6 523.5"/><path d="M451.1 420.6L449.3 420.5L447.6 422L437.4 437.2L426.9 449.7L416.7 459L404.9 467.1L392 473.6L378.9 478.1L366.3 480.9L341.7 484.3L334.6 486.4"/><path d="M351.3 478.9L353.5 474.6L356.3 471.4L359.5 469.5L363 468.9L366.4 469.6L369.5 471.6L372.2 474.6L374.1 478.5L375.2 483.1L375.4 488L374.7 492.9L373.1 497.6L370.7 501.8L367.6 505.3L364 508L360.1 509.6L356 510.2L352 509.9L348.2 508.6L344.9 506.5L342 503.9L338.1 497.5L336.7 491.4L337.3 486.7L338.1 485.3L339.8 484.5L340.9 486L340.9 487.4L339.8 490.6L338.5 492L335.1 493.9L333 494.1L330.5 493.3"/><path d="M455 499.3L450.4 501.3L440.7 503.5L435.9 503.6L426.7 502.2L418.5 498.9L411.7 494.4L406.6 489.6L399.9 480.8L398.6 480.1L397.3 481L388.9 491.2L384 495.1L378.1 498.5L371.7 500.8L365.2 502L355.9 501.8L350.9 500.3"/><path d="M418.7 497.1L410.6 491L402.1 481.3L400.2 480.1L399 481L392.5 489.8L388.8 493.6L381.8 498.9L376.3 501.7L370.5 503.8L361.8 505.2L353.8 505L343.8 503.4"/><path d="M441.6 492.1L437.9 499.3L433.1 505.7L427.4 511.1L421 515.2L414.2 518L407.2 519.3L400.3 519.2L393.7 517.8L387.6 515.2L382.2 511.7L377.7 507.5L374 502.8L371.4 498L369.7 493.3L368.9 489.1L368.9 485.5L369.6 482.7L370.7 480.9L372.1 480.2L373.6 480.6L375 482L376.2 484.4L377.1 491.5L376.7 495.8L373.8 505L368.5 513.5L361.5 520.2L353.8 524.3L346.5 526L336.1 525.8"/><path d="M433.1 506.4L418.7 505.8L405.4 503.5L393.6 499.9L374.9 492.6L367.9 490.6L364.3 490.3L361.1 491L358.4 493L358.2 494.3"/><path d="M415.4 462.4L409.4 470.7L401.6 478.5L393.8 484.1L384.9 488.5L375.5 491.3L366.2 492.5L357.7 492.5L343.1 491.3"/><path d="M377.8 487.6L379.2 487.8L381.7 489.4L383.8 492.3L385.3 498.4L385.1 503.2L383.9 508.2L381.7 512.9L378.6 517L374.9 520.4L370.6 522.7L366.2 524L361.8 524.2L357.6 523.4L353.9 521.9L350.7 519.9L347.3 516.6L344.8 513"/><path d="M407.5 505L394.2 502.4L384.8 501.7L376.7 502.2L346.5 505.5"/><path d="M415.7 497.7L402.4 498.6L390.1 497.9L379.2 496L361 491.6L356.2 491L353.2 491.3L350.6 492.4L348.5 494.5L348.3 495.7"/><path d="M428.5 459L423.7 468.5L419 474.1L413.3 478.8L410.2 480.8L403.6 483.6L393.6 485.2L384.1 483.9L378.6 482L374 479.5L362.5 470.9L360.4 471.5L350 481.1"/><path d="M434.2 451.6L433 451L431.2 452L421.6 465.5L411.6 476L403.9 482L395.3 487L386.1 490.8L373.8 493.8L359.6 494.7L354.7 494.3L352.7 493.5"/><path d="M402.2 474.1L400.3 474.1L398.3 475.2L384.8 487.1L378.4 491.3L373.1 494L367.5 496.1L359.9 497.9L352.6 498.6L347.6 498.1"/><path d="M434.1 441.5L436.9 443.7L438 445.7L439.6 451.2L439.8 458.4L439.4 462.4L437.2 471L433.4 479.8L428 488.3L421.2 495.9L413.3 502.2L409 504.8L400 508.7L390.9 510.9L382 511.5L373.6 510.7L366.1 508.9L359.6 506.4L346.9 500.1L344.8 500L344.7 500.9"/><path d="M419.1 434.6L424.4 436L429.2 439.7L433.2 445.2L435.9 452.2L437.2 460.4L437 469.1L435.1 477.9L431.7 486.2L426.9 493.6L421 499.8L414.2 504.4L406.9 507.3L399.3 508.3L392 507.6L385.1 505.3L379 501.6L373.9 496.9L369.9 491.6L367.1 485.9L365.5 480.4L364.9 475.4L365.3 471.2L366.5 468L368.1 466L369.9 465.3L371.8 465.8L373.3 467.5L374.4 470.2L374.8 473.6L374.5 477.5L373.4 481.5L371.5 485.4L369 488.9L366 491.9L362.5 494.1L358.9 495.5L355.4 496L352.1 495.7L349.3 494.6L347.3 492.3"/><path d="M412.6 489.3L405.4 497.9L396.4 505.5L388.2 510.4L377.3 514.6L366.3 516.6L355.9 516.7L345.1 514.8L340.8 513.3L338.7 511.6"/><path d="M418.7 477.9L411.2 485.2L404.6 490.2L396.9 494.5L388.4 497.6L381.9 499.1L373.3 500.1L353.1 499.4L347.8 499.7"/><path d="M411.2 498.3L403.8 495.6L397.4 492.2L389.6 486.7L380.1 478.3L377.2 477L375.6 477.5L373.8 478.9L362.2 491.1L353.1 497.5L347.9 500L342.5 501.8L337.1 502.7L331.7 502.3"/><path d="M409.1 450.9L412 453L414 457.2L414.8 462.8L414.1 469.3L411.8 475.9L408 482.1L403 487.2L400.2 489.2L397.1 490.9L390.8 492.8L387.7 493.2L381.5 492.8L376 491L371.4 488.3L366.4 483.8L361.9 478.1L360.6 478.8L358.1 482.7"/><path d="M476.1 493.6L471 496L460.1 498.8L454.6 499.2L444.1 498.2L439.3 497L430.8 493.5L417.4 485.1L414.4 484.2L413 484.5L410.3 486.7L402.5 495.9L396.8 501.5L386.2 509L374.3 514.3L366.5 516.4L350.1 519.6L345.3 521.8"/><path d="M408.7 486.5L406.4 492.2L402.7 497.3L397.8 501.3L395 502.7L392.1 503.8L386.3 504.5L383.5 504.3L378.4 502.8L372.5 498.9L367.3 492.2L363.7 499.4L359.8 503.7L354.7 506.8L351.1 507.7L349.3 507.5"/><path d="M376.6 511.2L370.7 506.5L365.8 500.9L361.8 494.5L359.1 487.8L357.4 481L356.9 474.4L357.4 468.3L358.8 463L361.1 458.6L363.9 455.3L367.1 453.3L370.6 452.6L374 453.1L377.2 454.9L380 457.7L382.3 461.4L383.8 465.9L384.7 470.9L384.7 476.2L383.9 481.6L382.4 486.7L380.1 491.5L377.2 495.8L373.8 499.4L370 502.2L366.1 504.1L362.1 505.3L358.2 505.6L354.5 505.2L348.2 502.7L344 499L341.8 495.6L341.6 493.5L342.8 496.4"/><path d="M410.9 476.3L408.1 486.9L402.9 496.8L396 504.9L392 508.2L385.7 512L381.4 513.7L375.1 515L371 515.2L365.4 514.5L360.7 512.9L356 509.9L353.7 506.6L354.3 504.5"/><path d="M376.1 470.2L378.2 474.6L379.1 480L378.7 486L377 492L374 497.5L372.1 499.8L367.5 503.6L362.4 506L359.8 506.7L354.4 506.8L349.4 505.4L344.9 503L341.2 499.6L337.3 494L335.4 488.7L334.6 483L333.4 484.5"/><path d="M449 456.6L446.5 455.1L444.1 454.6L440.6 455.8L436.7 459.2L423.1 473.1L415 480.2L401.9 489.1L390.9 494.8L379.2 499.1L363.3 502.6L348.3 503.5L344.8 503.2L341.5 502.2"/><path d="M383.6 498.5L381.2 489.9L381 486.3L381.7 483.6L382.2 484L382.3 485.7L380.8 490.8L377.7 495.8L374.3 499.5L369.8 502.6L366.3 504.1L362.4 505.1L357.6 505.1"/><path d="M369.4 475.3L374.1 473.6L379 473.5L383.7 474.9L387.9 477.9L391.6 482L394.3 487.2L396.1 493.1L396.9 499.5L396.5 506L395.1 512.2L392.7 518L389.5 523L385.5 527.1L381 530.1L376.2 531.9L371.4 532.5L366.6 531.9L362.2 530.2L358.2 527.6L354.8 524.3L352.2 520.5L350.3 516.4L349.2 512.3L349.1 504.7L351.1 499.4L352.7 497.8L354.3 497.1L355.9 497.1L358.4 499L359.3 502.8L358.2 506.9L355.3 509.9L353.2 510.6L350.5 510.2"/><path d="M399.5 493.4L395.1 491.3L391.1 488.5L387.7 485.2L384.9 481.5L381.3 473.7L380.2 466.4L381.1 460.9L383.4 457.8L384.8 457.3L386.1 457.6L388.4 460.1L389.1 462.1L389.3 467.4L388.8 470.4L386.3 476.3L384.4 479L379.6 483.5L373.9 486.3L371 487L365.2 486.9L358.1 484.4L351.8 479.4L351.3 479.2L351.2 479.7"/><path d="M457.3 485.9L452 488.5L446.6 490.1L441 490.8L435.5 490.4L430.3 489.2L425.5 487.2L421.1 484.6L417.3 481.4L411.6 474.4L409.8 470.9L407.8 464.8L407.7 460.8L408.5 459.5L409.1 461L408.8 464.8L407 470.1L405.3 472.9L400.8 478.2L394.8 482.4L388.1 484.9L381.3 485.5L375.1 484.7L363.8 480.6"/><path d="M453 471.8L444.4 476.9L438.1 479.7L424.8 483.5L418 484.4L408.2 484.6L399 483.8L381.2 481.1L372.8 480.9L362.6 483.1L346 489.6"/><path d="M402.2 526.8L391.2 528.5L378.2 527.9L369 525.7L350.9 518.8L346.5 517.9L343.6 518.3L340.7 519.8L336.5 523.4L334.2 526.6"/><path d="M428.2 484.7L421.8 482.1L416.4 479L405.3 469.6L403.7 468.9L401.5 470L396 476.6L390.7 481.9L381.5 488.1L376.3 490.3L368.5 492.3L361.1 493L353.5 492.8"/><path d="M415.3 489.1L402.7 478.4L399.7 477.2L396.7 477.3L392.5 479.4L376.9 491.2L367.9 496.7L357.2 501.3L347.4 503.6"/><path d="M353.6 475.9L355.5 470.8L357.9 466.5L360.8 462.9L364 460.3L367.4 458.5L371 457.7L374.5 457.8L377.9 458.8L381.1 460.7L383.9 463.3L386.4 466.6L389.8 474.8L391 484.3L390.7 489.2L388.3 498.8L383.9 507.2L377.9 513.8L370.9 518.1L363.6 520L356.6 519.6L353.4 518.7L348 515.7L344 511.9L341.6 508.1L340.8 504.1L341.3 503.7L342.7 504.2"/><path d="M449.5 513L440.6 510.8L432.3 507.2L425 502.3L418.6 496.4L413.4 490L409.4 483.2L406.6 476.6L404.9 470.3L404.3 464.7L404.5 460L405.5 456.4L407 454.1L408.7 453.2L410.5 453.6L412 455.3L413.2 458.2L413.8 462.1L413.7 466.8L412.8 472.1L411 477.6L408.4 483.2L404.9 488.6L400.7 493.6L395.8 498L390.4 501.7L384.7 504.5L378.8 506.4L372.9 507.4L367.1 507.6L361.6 507.1L352 504.5L337 497.7L335.3 497.6L333.7 498.5L332.6 500.8"/><path d="M375.8 486.9L375.3 484.2L375.8 479.7L376.6 478.1L378.8 476.5L381.2 477.3L382.9 480.2L383.3 484.4L382.9 486.8L381 491.4L379.5 493.4L377.7 495L373.6 497.2L369.3 497.6L365.5 496.5L361.6 493.3L359.6 489.3L358.2 492.5L354.9 494.9"/><path d="M434 476.8L427.8 485L423 490L417.8 494.5L412.3 498.4L406.4 501.6L400.3 504.1L394.2 505.9L388 507L381.9 507.3L373.1 506.7L367.6 505.5L360.1 502.9L353.5 499.6L346.5 494.5L342 489.8L341.3 488.7L341.5 487.4"/><path d="M489.4 446.5L486.6 452.1L482.9 457.6L478.4 462.7L473.2 467.3L467.4 471.2L461.2 474.2L454.7 476.3L448.1 477.5L441.5 477.7L435.2 477.1L429.2 475.7L423.7 473.7L414.4 468.5L407.5 462.9L401.5 456.7L399.2 455.5L397.2 457.2L390.8 467.3L385.3 474L378.1 480.4L374.1 483.2L365.5 487.7L356.8 490.5L348.8 492L342.3 492.1"/><path d="M367.6 491.7L368 488.5L370 483.8L371.4 482.4L374.5 481.6L377.5 483.3L379.6 487.4L380.4 493.1L380.2 496.3L378.4 503.1L375 509.5L370.2 514.8L364.4 518.7L358.2 520.7L355 521L349 520.5L343.8 518.6L339.6 515.9L332.9 508.9L332.1 509.6L332 511.1"/><path d="M454.6 494.8L449.8 501L444.1 506.3L437.7 510.5L430.8 513.4L423.7 515.1L416.6 515.4L409.7 514.4L403.2 512.3L397.4 509.3L392.3 505.5L388.1 501.3L384.8 496.9L380.7 488.4L379.7 482.1L380.6 479.3L381.3 479.4L382 480.5L382.6 485.3L381.3 492.7L379.8 496.9L374.8 505.3L367.8 512.6L359.5 517.8L350.9 520.6L343 521.4L331 521"/><path d="M455.4 489.3L446.4 494.3L436.9 497.7L427.2 499.4L417.7 499.6L404.1 497.3L392.2 492.6L385.4 488.6L379.6 484.3L364.8 470.5L361.4 468.7L359.2 468.8L356.8 469.9L343 480.5"/><path d="M451.8 437.2L446.4 443.5L439.5 450L431.2 455.9L422 460.6L412.3 464L402.6 465.9L393.3 466.7L375.3 466.8L367.2 467.9L360 471.2L356.4 473.8L352.8 477.6"/><path d="M392.8 464.9L392.5 469.4L391.7 472L388.9 477.1L384.7 481.5L379.4 484.3L373.8 485.3L371.1 485.1L366.1 483.6L360.9 479.8L357.4 475.4L354.5 481.2L352 483.9L349 486.3L343.8 488.3L340.6 488.6L338.1 488.2"/><path d="M385.2 472.1L379.7 478.2L374.6 482.6L368.9 486.2L361.4 489.5L353.9 491.4L345.4 492L337.1 490.9L334.4 489.8L333.9 489"/><path d="M477.9 497.1L469.6 497.7L461.4 496.8L453.7 494.4L446.6 490.8L440.3 486.2L435 480.9L430.8 475.1L427.6 469.2L425.6 463.4L424.5 458.2L424.3 453.7L424.8 450.1L425.8 447.6L427.2 446.3L428.7 446.2L430.1 447.3L431.2 449.5L431.9 452.7L431.4 461.2L430 466.1L427.9 471.1L425 476L421.4 480.6L417.2 484.7L412.6 488.1L407.6 490.8L402.4 492.7L397.2 493.9L392.2 494.3L382.9 493.3L367.8 487.9L366.1 487.7L364.6 488.2L363.8 489.8"/><path d="M417.1 472.3L409.8 464.6L407 460.6L402.8 452.6L400.1 442.3L400.2 437.5L400.6 435.9L401.7 434.3L403 435L403.5 436.1L403.9 439.7L403.2 444.8L401.2 450.7L395.7 459.9L390.4 465.3L387.4 467.7L384.3 469.7L377.5 472.8L367.3 474.7L358.3 473.7L353.6 471.9L352 470.2"/><path d="M450.6 487.6L443.5 493.1L435.2 497L430.8 498.2L421.9 499.1L417.6 498.9L409.7 497.2L402.9 494.6L393.5 489.5L388.9 488.6L386.2 489.9L376.8 498.2L371.5 502.2L362.2 507.1L352.3 510.1L335.8 512.4"/><path d="M435.1 492.4L430.4 496.4L425.1 499.2L419.5 500.8L413.9 501.2L408.4 500.3L403.3 498.4L398.7 495.5L394.9 492L391.9 488L389.7 483.9L388.4 479.9L388 473.3L388.7 471.1L389.7 469.7L390.8 469.4L392 470L392.9 471.4L393.5 473.7L393.2 479.7L392.1 483.2L388.1 489.9L382.2 495.1L375.2 498L368.2 498.4L362.1 496.8L353.4 492.1L351.5 492.6L350.8 494.1"/><path d="M430.9 517.4L419.2 519.2L411.7 518.8L404.6 517.3L398.1 514.9L392.4 512L385.5 507.1L376.5 499.7L373.5 498.4L371.6 498.7L369.5 499.7L360.7 505.9L354.3 509.4L349.4 511.3L343.4 512.3"/><path d="M454.4 507.6L438.2 505.3L419.6 500.6L403.3 494.8L377.9 484L368.4 481L363.4 480.5L359 481.3L355 483.7L354 485L353.6 487.1"/><path d="M438.4 458.2L435.3 448.6L433.6 456L430.5 463.8L427.3 469.8L423.1 476.1L418 482.2L412 488L405.3 493L398 497.1L386.8 501.4L375.7 503.3L368.9 503.4L362.9 502.6L360.3 501.8L358.1 500.1"/><path d="M385.6 495.5L385.8 490.5L386.9 486.2L388.6 482.9L390.9 480.6L393.4 479.6L395.9 479.7L398.3 481L400.4 483.3L401.9 486.5L402.8 490.5L402.9 494.9L402.2 499.6L400.7 504.3L398.4 508.7L395.4 512.7L391.7 516L387.7 518.5L383.3 520.2L378.8 521L374.3 520.9L370 519.9L366 518.3L362.5 516.1L359.4 513.4L355 507.7L352.5 502.5L351.3 497.4L348.8 500.2L345.4 502.6L339.9 504.2"/><path d="M434.3 500L428.8 507.1L425.7 510.2L418.8 515.7L411.2 519.7L407.3 521.1L399.3 522.8L387.7 522.7L380.5 521.1L374.1 518.5L368.5 515.3L363.8 511.7L354.2 501.7L352 500.4L350.8 500.8L349.3 502.2L342.8 510.6"/><path d="M474.4 489.4L467.7 489.9L461.1 489.4L454.9 487.9L449.1 485.6L443.8 482.6L439.2 479.2L432.2 471.8L428 465L425.4 458.2L422.6 466.2L418.8 472.8L416.1 476.2L409.4 482.5L401.2 487.5L392.2 490.4L383.2 491.4L375 490.7L360 487.5L355.8 488L354.2 489.3"/><path d="M408.7 470.9L409.8 469.5L411 470.3L411.9 475.2L411.4 480.4L409.5 486.4L406.2 492.7L401.7 498.7L396 503.8L392.9 506L382.8 510.4L372.8 511.8L363.9 510.9L353.4 507.9L349.4 507.6L346.1 509.7L343.9 513.2"/><path d="M415 520.2L405.1 519.7L395.8 517L387.6 512.2L383.9 509.2L377.8 502.5L375.4 498.8L371.7 491.2L369.6 483.9L369 477.3L369.6 471.9L371.2 467.9L373.2 465.7L374.3 465.2L376.5 465.5L378.8 468.8L379.3 472.5L378.8 476.8L377.1 481.3L372.4 487.5L367.6 490.5L364 491.4"/><path d="M411 447.9L413.3 446.2L415.8 445.4L418.2 445.5L420.6 446.5L422.8 448.3L426.2 454.2L427.3 458L427.9 467L426.3 477L422.4 486.9L416.4 495.9L408.7 503.3L404.4 506.2L395.2 510.2L390.6 511.3L381.4 511.8L372.9 510.4L365.6 507.5L359.7 503.8L350.2 495.5L348.8 495.7L348.1 499"/><path d="M445.1 522.6L440.4 522.8L431.4 521.7L427.2 520.7L419.3 517.6L412.4 513.6L406.7 509.1L402.2 504.7L395 496.3L392.4 494.5L389.8 495.3L381.4 502.6L377.1 505.6L369.3 509.5L360.4 511.7L354 511.8L350.6 511"/><path d="M356.7 500.8L358.9 494.6L360.4 492L363.9 488.1L365.8 486.9L369.8 485.7L371.7 485.8L375.4 487.2L377.1 488.5L379.9 492.1L382.3 499.4L382.4 507.9L380 516.4L377.1 521.4L373.4 525.6L369.2 528.7L362.3 531.1L357.8 531.2L353.6 530L350.2 527.7L348.8 526L347.8 523.1"/></g><g fill="none" stroke="#000070" stroke-width="1.6" stroke-linejoin="round"><path d="M329.4 497.2L334.2 494.2L340.4 492.5L347 492.4L353.3 494L358.4 496.9L361.8 500.4L367.3 509.5L370 511.5L378.3 516L382.4 519.2L385.2 523.1L385.7 527.1L383.6 530.7L379.3 533.4L373.7 534.7L367.7 534.8L354.3 532.6L350.9 532.7L342.4 534.5L336.7 535L330.7 534.6L325.4 532.9L321.7 529.9L320.5 526.2L321.8 522.2L325.1 518.5L329.4 515.6L337.2 511.4L339.6 509.3L345.4 500L349.4 496.6L354.9 494.1L361.4 493.1L368 493.7L373.8 496L378.1 499.3L381 502.9L384.3 509.1L386.4 511.2L398.3 518.2L401.9 521.7L403.7 525.7L403.1 529.7L400 532.9L394.9 535L389 535.7L383.2 535.4L370.8 533.4L357.9 535.6L352 535.8L346.2 534.9L341.5 532.5L338.9 529.1L338.8 525.2L341.1 521.3L345 517.9L356.5 511.4L358.4 509.1L361.9 502.8"/><path d="M376.3 494.8L372.8 492.7L370.7 489.8L370.2 486.6L370.9 483.6L373.1 479.2L373.4 477.4L371.5 470.4L371.6 467.3L373 464.4L375.7 462.3L379.2 461.4L383.1 462L386.5 463.7L389.2 466.2L393.5 473.1L403.8 479.4L406 482.3L406.8 485.7L405.7 489.1L402.8 492.1L398.7 494.3L394.1 495.5L382.5 496.9L368.5 503L363.7 503.8L358.9 503.4L354.9 501.7L352.2 499L351.2 495.9L351.5 492.8L354.4 486.1L354.2 484.3L352.6 479.5L352.4 476.5L353.3 473.4L355.5 471L358.8 469.6L362.6 469.7L366.3 471L369.3 473.3L372.8 478.6"/><path d="M369.5 462.7L368.9 459.3L369.5 456L371.6 453L375 450.9L379.1 449.9L383.4 450L387.2 450.9L395.2 453.8L404.7 453.7L408.7 454.1L412.3 455.4L415 457.4L416 459.9L415.2 462.4L413 464.6L409.8 466.1L401.1 467.9L399.3 468.7L393.1 473.5L389.6 474.8L385.7 475.1L381.8 474.2L378.5 472.1L376.4 469.2L375.6 465.9L376.8 457.4L376.6 455.2L373.2 447.5L372.8 444.1L373.7 440.8L376.1 437.9L379.7 436.1L383.9 435.3L388.1 435.6L399.6 439.3L409.4 439.2L413.4 439.8L416.9 441.2L419.2 443.4L419.9 445.9L418.8 448.4L416.3 450.4L413 451.8L404.6 453.5L396.3 459.3L392.7 460.4L388.7 460.5L384.9 459.3L381.9 457L380.1 454L379.5 450.6L380.8 442.4L380.4 440.3L376.9 432.2L376.8 428.8L378 425.6L380.7 422.9L384.5 421.3L388.8 420.8"/><path d="M408.1 525.1L405.8 530.8L396.9 542.1L395.6 545.4L394.3 554.5L392.8 560.1L390 565.4L385.8 569.5L380.6 571.4L375.4 570.8L371 567.9L367.9 563.4L366.4 558.3L365.8 549.6L365.2 546.6L363.5 544L358 537.3L355.6 532.5L354.8 527L356.2 521.5L360.1 516.9L365.8 514L372.6 513L379.4 513.9L395.1 518.9L399.4 519.1L410.3 517.6L416.9 517.6L423.7 519.1L429.7 522.5L433.9 527.6L435.7 533.7L435.1 540L432.7 545.6L423.9 556.7L422.7 560.1L421.3 569.3L419.8 574.9L416.8 580.2L412.5 584.1L407.3 585.8L402.1 585L397.8 581.9L394.9 577.3L393.5 572.1L393 563.6L392.2 560.6L384.9 551.2L382.6 546.4L382 540.8L383.7 535.3L387.7 530.8L393.6 528.1L400.4 527.4L407.1 528.3L422.6 533.3L427 533.4L438 531.9L444.7 532L451.5 533.6L457.3 537.2L461.3 542.4L462.9 548.6L462.1 554.8L459.6 560.3L450.9 571.3"/><path d="M335.1 498.7L338 498.8L347.9 496.6L352.5 496.2L357.3 496.6L361.8 498.1L365 500.6L366.7 503.8L366.8 507.2L365.6 510.4L362.2 515.5L361.3 517.6L361.9 525.5L361.3 528.7L359.5 531.9L356.4 534.4L352.4 535.8L348 536L344 535.1L340.9 533.5L335.6 528.9L324.2 525.8L321.3 523.9L319.9 521.6L320.3 519.2L322.6 517.1L326.4 515.7L331 515.1L345.7 516L355.9 513.7L360.6 513.4L365.4 514L369.7 515.8L372.7 518.4L374.1 521.7L373.8 525.1L372.5 528.2L369.2 533.1L368.5 535.2L369.1 543.3L368.3 546.6L366.2 549.7L362.9 552L358.8 553.2L354.4 553.1L350.6 552.1L347.6 550.4L345.5 548.6"/><path d="M401.6 561L401.3 561.6L400.4 561.9L397.6 561.1L395.6 558.8L394.2 555.9L389.9 552.6L389.3 551.1L389.6 549.3L390.7 547.6L392.7 546L402.2 542.1L409.7 537.3L415.1 535.4L417.9 535.2L422.2 536.1L424.8 538.8L429.5 540.7L430.6 542.3L430.1 542.9L427.6 542.7L426.2 541.9L425.1 540.7L423 536.9L419.6 534.6L418.6 533.2L418.3 531.6L418.9 529.9L420.3 528.2L422.5 526.7L431.8 522.9L437.1 519.3L442.2 516.9L445.1 516.4L450 516.8L451.6 517.5L454 520L457.6 521.3L459.5 522.9"/><path d="M408.6 523.9L410.7 522.1L415.9 514.7L418.9 512L422.9 509.8L427.4 508.6L432.1 508.5L436.2 509.5L439.2 511.2L444.5 517.7L452 521L454.5 522.8L456 525L455.9 527.1L454.1 528.9L451 529.8L447.2 529.8L443.4 529L433.3 524.9L423.9 524.3L420.2 523.2L417 521.2L415.1 518.6L415 515.4L416.5 512.3L419.3 509.5L428.7 503.7L430.7 501.9L436.1 494.2L439.3 491.6L443.4 489.6L448.1 488.6L452.6 488.8L456.5 490L459.3 491.8L463.1 497L464.5 498L472.2 501.5L474.6 503.4L475.7 505.6L475.2 507.7L473.1 509.3L469.8 510L466 509.9L462.2 508.9L454.5 505.4L442.7 504.3L439 503L436.1 500.8"/><path d="M390.7 574.7L390 568.9L391.1 563.3L397.3 550.9L397.9 547.4L397.5 538.5L398 533.1L399.8 527.7L403.4 523.2L408.2 520.5L413.6 519.9L418.7 521.5L422.8 524.5L425.6 528.1L429.2 534.1L431.3 535.9L438.1 538.9L442.3 541.4L445.8 544.9L447.8 549.3L447.4 553.9L444.7 558L440 560.9L434.3 562.2L428.5 562.3L419.2 561L415.5 561.1L402.6 565.3L396.7 566L390.7 565L385.5 562.2L381.8 557.6L380.3 552L380.8 546.3L382.8 541.1L387.1 533.1L388.2 529.7L388 516.1L389.3 510.5"/><path d="M352.5 540.6L349.6 537.2L348.1 532.9L347.9 528.5L349.6 518.2L349.2 515.5L346.8 508.7L346.1 504.4L346.4 500L348.3 496L351.4 493.1L355.5 491.8L359.8 492L363.7 493.6L371.4 499.3L373.7 500.1L380.1 500.8L384 501.8L387.6 503.8L390.3 506.8L391.3 510.5L390.4 514.2L387.9 517.5L384.4 519.7L380.5 521.1L374 522.4L371.7 523.4L364.2 529.9L360.3 531.7L356 532.4L351.7 531.3L348.2 528.7L345.9 524.8L345 520.4L345.3 516.1L346.7 509.2L346.7 506.5L343.5 496.3L343.2 491.9L344.2 487.6L346.7 484L350.4 481.8L354.6 481.2L358.8 482.1L362.4 484L367.4 488.1L369.5 489.3L379 490.7L382.9 492.1L386.1 494.6L388.1 498L388.3 501.7L386.6 505.3L383.5 508.1"/><path d="M345 476.4L341.2 471.9L340 469L339.8 466L340.9 463.4L343 461.4L345.8 460.4L348.7 460.3L355.2 461.9L363.5 460.5L366.3 460.7L368.9 461.8L370.6 463.6L371.1 465.9L370.3 468.3L368.4 470.4L359.8 474.9L356 479.9L353.8 481.8L351 483.2L347.7 483.6L344.4 482.8L341.6 480.9L339.6 478.4L336.5 468.7L331.6 463L330 460.3L329.2 457.3L329.6 454.4L331.2 452L333.7 450.5L336.6 449.9L339.4 450.1L345.3 451.6L351.4 450.3L354.3 450.2L357 450.8L359.2 452.2L360.4 454.3L360.3 456.7L358.9 459L356.7 460.9L350 464.1L348.7 465.1L344.5 470.5L342 472.2L338.9 473.1L335.5 473L332.4 471.7L330 469.4L328.3 466.7"/><path d="M380 502.3L381.4 503.9L381.7 506L380.8 508.1L379.2 510L374.1 513.7L370.9 520.3L368.8 522.1L365.9 523.3L362.5 523.6L359 523L355.9 521.5L353.5 519.5L348.9 514.1L339.3 508.9L337.2 506.7L336.1 504.3L336.2 501.9L337.6 499.9L339.9 498.5L342.5 497.7L348.8 497.4L356 494L358.8 493.5L361.4 493.8L363.5 494.9L364.6 496.7"/><path d="M381.3 521.9L385.9 519L391.2 517.1L404.5 513.9L414.7 507.2L419.7 504.9L425.5 503.4L431.4 503.4L436.6 504.8L440.3 507.6L442.3 511L442.6 514.6L440.8 522.4L441.5 524.4L444.8 529.7L445.8 533.1L445.4 536.7L443.2 539.8L439.3 541.8L434.4 542.3L429.3 541.3L424.8 539.2L416.5 532.2L414 530.9L402.1 527.4"/><path d="M370.5 568L367.8 567.6L365.2 566.5L363.3 564.8L362.8 562.5L363.8 560.1L366.1 557.8L369.2 555.9L378.6 552.3L380.7 551.1L387.3 545.4L390.8 543.7L394.9 542.6L399.2 542.5L403.3 543.4L406.5 545L408.8 547.1L412 552.6L420.6 558.3L422.5 560.5L423.3 562.7L422.7 564.8L421 566.3L418.3 567L415.4 566.8L412.8 566.1L407.8 563.5L401.9 563.5L399.1 563.1L396.5 562L394.7 560.3L394.2 558L395.1 555.5L397.5 553.2L400.7 551.3L410 547.8L412.1 546.5L418.7 540.9L422.2 539.2L426.3 538.1L430.7 538L434.7 538.9L437.9 540.5L440.2 542.6L443.4 548.1L452 553.8L453.9 556L454.7 558.2L454.1 560.3L452.3 561.8L449.7 562.4L446.8 562.3L444.1 561.5L439.2 559L433.3 559L430.5 558.6L427.9 557.5"/><path d="M423.7 521.7L425.4 524.3L427.7 531.2L434.8 538.1L436.2 541L436.4 544.2L435.1 547.2L432.5 549.6L429 551.2L425.2 551.8L415.8 551.4L404.3 554.9L400.5 555.2L396.7 554.5L393.7 552.6L391.9 549.9L391.3 546.9L392 543.9L396 537.8L396.5 536.2L396.6 529L397.6 526.2L399.5 523.9L402.3 522.5L405.3 522.5L408.2 523.7L410.6 525.9L412.1 528.6L414.3 535.2L419.6 539.9L421.6 542.3L422.8 545.3L422.7 548.5L421.1 551.4L418.3 553.7"/><path d="M379.8 541.9L377 540.3L375.7 538.4L376 537.6L376.9 537.2L378.1 537.3L380.7 539L382.5 543.5L386.1 547L386.7 548.5L386.5 550.2L385.5 551.9L383.7 553.5L381.3 554.7L372.2 557.6L366.5 560.9L361.3 562.7L358.5 562.9L354.4 561.9L353.3 560.9L352.4 558.7L349.1 556.6L348 554.7L348.5 554L349.5 553.7L352.1 554.6L353.2 555.8L354.3 558.3"/><path d="M395.3 533.7L398.7 538.2L399.6 543.2L398 548.1L394.7 552L390.6 554.8L383.9 558.3L381.9 560.3L379 566.8L376.5 570.8L372.7 574.4L367.8 576.5L362.3 576.5L357.3 574.2L353.6 570L351.6 564.5L351.2 558.9L352.5 549.3L352.5 545.7L351.4 542.2L347.3 533.6L346 528L346.4 522.1L349.1 516.6L354 512.3L360.4 509.9L367.4 509.5L374.1 510.6L384.7 514.4L388.9 515.4L393.4 515.5L404.7 514.4L411.4 514.7L418 516.5L423.3 519.9L426.4 524.4L427 529.5L425.2 534.3L421.7 538.1L411.1 544.2L409.3 546.3L406.3 553"/><path d="M429.6 471.2L435.9 472.8L443.2 472.6L446.2 473.1L449 474.3L451.2 476.1L452.4 478.5L452.7 481L452.1 483.3L449.2 488.6L448.9 496.4L448 498.7L446.5 500.6L444.5 501.7L442.3 502.1L440.3 501.6L438.9 500.5L436.9 496.5L433.4 494.8L432.2 493.6L431.7 492.1L432.1 490.5L433.6 489.2L436 488.4L438.9 488.2L441.9 488.6L448.8 490.6L458.3 490.5L461.3 491.2L464 492.5L466 494.5L467 496.9L467 499.4L466.3 501.7L463.6 506.8L463.1 514.8L462.2 517L460.5 518.7L458.4 519.8L456.3 519.9L454.4 519.3L453.1 518.1L451.7 514.8L447.5 512.4L446.4 511.2L446.1 509.6L446.8 508.1L448.5 506.8L451 506.1L453.9 506.1L459.5 507.3"/><path d="M391.6 468.4L387.7 472.2L386.7 477.9L385.3 479.7L382.9 481.2L379.7 482L376 482L372.4 481.2L369.3 479.9L362.8 475.9L351.8 472.8L348.8 471.4L346.6 469.5L345.7 467.4L346.1 465.4L347.7 463.7L350 462.6L356.3 461.1L362 457.1L364.4 456.1L367.1 455.7"/><path d="M357.1 476.4L359.2 475.3L364.5 473.8L369.7 469.4L371.9 468.5L374.5 468.4L377.1 469L379.2 470.5L380.7 472.6L381.4 474.8L381.7 480.5L385.5 487.4L385.9 489.7L385.5 492L384.2 493.9L382.2 495.2L379.7 495.7L377.3 495.6L372.1 493.8L365 494.3L362.7 493.9L360.7 493L359.5 491.5L359.3 489.8L360.1 488.1L361.8 486.6L369 484.1L374.3 479.7L376.7 478.9L379.3 478.9L381.8 479.7L383.8 481.3L385.1 483.4L385.8 485.7L386.1 491.2L389.9 498.2"/><path d="M451.2 475.1L449.7 477.3L447.4 478.8L444.8 479.5L438.8 479.7L431.7 483.1L429.1 483.5L426.7 483.2L424.8 482.1L424 480.4L424.3 478.5L425.7 476.6L427.8 475L433.2 472.3L436.1 468.1L437.8 466.4L440.3 465L443.4 464.4L446.7 464.8L449.8 466.2L452.4 468.3L454.3 470.8L457.8 477.2L466.1 484.5L467.7 487.2L468.2 490L467.5 492.6L465.7 494.6L463.3 495.9L460.7 496.4L455 496.6L452.1 498.2"/><path d="M349.2 513.1L345.4 513.5L341.8 512.5L339.2 510.1L338 506.6L338.4 502.7L340 499L346.1 490.8L346.9 488.5L347.4 482.3L348.4 478.5L350.6 474.8L354.2 471.8L358.9 470.1L364.1 469.9L369.1 471.2L373.5 473.5L382.4 480.5L397.9 485.6L401.9 488.3L404.8 491.6L405.8 495.3L404.9 498.7L402.5 501.4L399.2 503.1L390.4 504.4L388.6 505.2L382 510.4L378.5 511.7L374.7 511.8L371.3 510.5L368.9 507.8L368 504.2L368.7 500.3L370.5 496.7L376.4 488.8L377.1 486.3L377.6 479.9L378.8 476.1L381.3 472.5L385.2 469.7L390 468.3L395.3 468.5L400.2 470L404.4 472.4L413.1 479.2L424.4 482.6L428.9 484.5L432.7 487.3L435.2 490.8L435.9 494.5L434.6 497.8L431.9 500.3L428.5 501.7L420 502.9"/><path d="M440.9 502L441.3 504.2L440.4 506.6L438.5 508.8L435.7 510.7L425 515.1L418.8 520.1L415.8 521.8L412.3 522.8L408.8 523.1L405.5 522.4L402.9 521L401.2 519.2L399 514.4L393 509.6L391.6 507.7L391.1 505.8L391.6 504.1L393 503L395 502.7L397.1 503.2L398.9 504.3L402.1 507.8L408.2 509.8L409.9 511.2L411 513.1L410.9 515.4L409.7 517.8L407.4 519.9L404.4 521.6L396.2 524.7L387.6 531.2L384.5 532.7L380.9 533.4L377.4 533.3L374.3 532.4L372 530.8L370.6 528.9L368.6 524.4L364 521L362.3 519.4L361.2 517.4L361 515.5L361.8 514L363.5 513.2L365.5 513.2L367.6 514L369.3 515.2L372.3 518.4L376.7 519.6L378.7 520.6L380.2 522.2L380.9 524.3L380.5 526.7L378.8 529L376.2 531L370.1 533.6"/><path d="M344.3 466.7L349.6 464.1L351.7 464L353.5 464.7L354.7 466.2L354.8 468.3L353.8 470.7L351.8 472.8L349.4 474.4L343.1 477.7L338.9 482.8L336.6 484.7L333.6 486.1L330.2 486.5L326.7 485.8L323.6 484.1L321.1 481.8L316.7 474.7L315.2 473.1L308.2 467.8L306.1 465.2L304.8 462.4L304.6 459.6L305.5 457.3L307.2 455.8L309.3 455.1L313.9 455.7L317.2 454"/><path d="M400.2 541.4L396.1 541.9L391.7 541.2L387.7 539.5L384.3 537L377.9 530.2L368.7 525.8L365.1 523.6L362.2 520.8L360.9 517.5L361.2 514.3L363.3 511.4L366.5 509.3L378.6 506L385.5 501.1L389 499.5L392.9 498.7L396.5 499L399.3 500.4L400.7 502.6L400.6 505.1L399.3 507.5L397.4 509.4"/><path d="M390.7 487.8L392.6 487L397.8 481.8L400.8 480L404.5 479.1L408.4 479.6L411.8 481.4L414.2 484.4L415.3 488.1L415.3 491.9L413.8 500.7L416.7 509.1L417.3 512.9L416.6 516.8L414.5 520.2L411 522.6L406.8 523.7L402.4 523.6L398.5 522.5L390.1 519.2L380.2 519.2L376.1 518.6L372.3 517L369.7 514.6L368.7 511.7L369.5 508.8L371.8 506.4L374.8 504.7L382.9 502.5L390.5 495.8L394 494.5L397.8 494.3L401.5 495.6L404.4 498.3"/><path d="M372.1 529.9L367.7 530.4L363.3 529.9L359.6 528.2L357.1 525.5L356.2 522.2L356.9 518.9L358.7 516.1L364.3 511.3L367.2 502.1L369.3 499.5L372.3 497.9L375.8 497.8L379.1 499.3L381.8 502.1L383.6 505.8L385.3 518.7L390.4 526.8L391.8 530.7L392 534.9L390.6 539L387.7 542.3L383.7 544.5L379.2 545.4L365 544.3L354.7 547.3L350.3 547.8L345.9 547.2L342.3 545.4L340 542.6L339.2 539.3L340 536.1L341.8 533.3L347.3 528.6L349 522.1L350.3 519.2L352.5 516.7L355.5 515.2L359 515.2L362.3 516.8L365 519.8L366.6 523.5L367.4 527.4L367.7 533.8L368.4 536.3L373.5 544.5L374.8 548.4L374.9 552.7L373.4 556.7L370.4 559.9L366.3 562L361.8 562.8L357.5 562.7L350.6 561.6L347.8 561.8L337.4 564.8L332.9 565.2L328.6 564.5"/><path d="M452.2 474.6L453.4 477.6L453 480.7L450.8 483.6L447.2 485.8L442.7 487.2L427.4 489L417.2 493.2L412.6 494.3L407.8 494.5L403.4 493.7L400 491.8L398 489.3L397.6 486.5L398.3 483.9L401.1 478.7L399.5 472.7L399.6 470.1L400.9 467.6L403.3 465.7L406.7 464.9L410.3 465.3L413.7 466.8L416.3 469.1L420.1 475.7L421.5 477L429.1 481.4L431.4 483.9L432.5 486.9L431.8 490L429.4 492.8L425.6 495L421.1 496.3L412.4 497.1"/><path d="M390.5 505.6L384.7 505.1L379.6 502.6L376.2 498.3L374.7 493.2L374.9 487.9L377.3 479.5L377.7 476.2L377 472.9L373.9 464.6L373.3 459.4L374.4 454.1L377.8 449.5L383 446.4L389.4 445.3L395.9 446.1L401.7 448.3L413.9 455.1L417.8 455.8L428.3 456.8L434.4 458.3L439.9 461.1L443.8 465.1L445.2 469.9L443.9 474.7L440.5 478.7L435.7 481.5L422.9 485.6L420.3 487.4L417.9 490.1"/><path d="M376.4 562.8L375.3 557.5L369.4 550.6L367.3 547.4L366.2 543.7L366.6 539.9L368.6 536.7L372 534.4L376.2 533.4L380.5 533.4L390.1 535.5L403.2 533.4L407.4 533.8L411.2 535.3L413.7 537.8L414.7 541L413.9 544.3L411.8 547.1L402.2 553.8L400.1 558.1"/><path d="M389.3 506.4L388.8 505.2L389.4 504L390.9 503L393.1 502.5L395.7 502.5L403.9 504L409.9 503.5L415.2 504.5L417.4 505.9L418.9 507.9L419.4 510.1L419.1 512.2L416.8 517.4L417.1 524.5L416.5 526.6L415.2 528.4L413.3 529.7L411.1 530.3L409.1 530.1L407.4 529.5L405 527.2L400 526L398.6 525.2L397.8 524.1L398 522.9L399.2 521.8L401.2 521.1L406.3 521.2L412.2 522.5L420.6 522.1L423.3 522.7L425.6 523.9L427.4 525.7L428.2 527.8L428.2 530"/><path d="M387.1 495.8L383.2 492.5L378 486.5L375.6 484.7L364 481L359.6 478.2L356.2 474.1L354.7 468.9L355.5 463.5L358.6 458.5L363.2 454.7L368.6 452L378 449.1L381.5 447.4L391.6 437.7L396.6 434.4L402.4 432.4L408.4 432.4L413.7 434.5L417.6 438.4L419.7 443.3L420.2 448.4L419.2 456.6L419.2 459.7L420.3 462.6L424.1 470.2L425.4 475.1L425.2 480.3L423.2 484.8L419.5 487.8L414.7 488.9L409.7 487.9L405.1 485.3L401.5 482L396.5 476.3L393.9 474.7L386.6 472.6L382 470.8L377.7 467.7L374.7 463.3L373.7 458L375 452.6L378.5 447.8L383.3 444.2L388.7 441.9L397.8 439L401.1 437.1L411.6 427.1L416.8 424L422.7 422.4L428.6 422.9L433.6 425.5L437.2 429.6L438.9 434.7L439.1 439.7L438.1 447.6L438.3 450.5L443.4 461.5L444.5 466.5L443.9 471.6L441.5 475.8L437.5 478.5"/><path d="M406.1 497.4L412.3 504.8L413.9 508.5L414.3 512.5L412.9 516.2L410 519L405.9 520.5L401.3 520.5L397 519.4L387.6 515.3L377.4 515.7L373 515.1L368.7 513.4L365.3 510.5L363.6 506.5L363.6 502.2L365.3 498L368.1 494.6L376.2 487.9L377.6 485.6L380.2 479L382.5 475.3L385.7 472.2L389.8 470.3L394.1 470.1L398.1 471.6L401.1 474.6L402.9 478.2L404.4 487.6L405.4 489.7L409.5 494.3L411.7 497.5L413.1 501.3L412.9 505.3L411.1 508.8L407.7 511.3L403.4 512.3L398.9 512L394.7 510.6L388.3 507.6L385.7 506.9L375 507.3L370.5 506.5L366.5 504.4"/><path d="M392.6 504.4L388.3 508.4L386.1 509.6L383.7 510.2L381.4 509.8L379.8 508.5L379.2 506.4L379.7 504.1L381 501.9L387.2 496.6L389.4 491.1L391.1 489L393.5 487.4L396.6 486.8L399.9 487.4L403.1 489.1L405.6 491.5L410.4 499.1L412 500.8L419.2 506.2L421.5 508.8L423 511.9L423.4 515.2L422.6 518.1L420.9 520.3L418.6 521.7L412.7 523L411.5 523.7L406.8 527.9L404.5 528.9L402 529.2L400 528.4L398.7 526.8L398.5 524.5L399.3 522.2L400.9 520.1L405.9 516.3L409.1 509.2L411.1 507.3L413.9 506L417.1 505.9L420.4 506.9L423.3 508.9L425.7 511.5L430.2 518.7L439.3 526L441.4 528.9L442.6 532.1L442.5 535.2L441.3 537.9L439.3 539.9L434.7 541.5"/><path d="M415.8 526.4L417.8 528.1L420.3 529.2L427.6 531.4L431.7 533.4L435 536.3L436.7 540L436.2 544L433.5 547.7L429.2 550.6L424.1 552.7L411.2 556L401.3 562.7L396.6 565.2L391.2 566.8L385.5 567L380.4 565.8L376.6 563.3L374.5 560L373.9 556.5L375.2 548.9L374.5 547L371.2 542L370 538.7L370.1 535.3L371.9 532.2L375.3 530.2L379.8 529.6L384.4 530.5L388.6 532.5L391.8 535.1L396.2 539.7L398.3 541.1L409 544.6L412.9 547.1L415.5 550.4L416.2 554.3L414.7 558.2L411.2 561.6L406.5 564.1L392.6 567.8L389.3 569.2L378.8 576.3L373.7 578.5L368.1 579.5L362.6 579.1L358 577.2L354.9 574.3L353.6 570.9L353.6 567.5L354.8 562.4L354.5 560.5L350.1 553L349.4 549.6L350.3 546.3L352.8 543.6L356.8 542.2L361.4 542.3"/><path d="M468.1 530.8L468.9 528.3L471.1 527L472.6 526.9L479 528.7L482.9 528.9L485.8 529.8L487 530.7L488 532.8L487.1 535.8L487.3 539.6L486.9 540.3L485.8 540.7L485.4 540.2L485.4 538.7L486.8 536.2L487 533.4L488.6 531.8L491.5 531.3L496.7 532.9"/><path d="M563.4 497.7L568 498.8L574.9 499.5L578.4 501L580.5 503.3L581.6 507.3L584.1 511.2L584.5 513.3L583.6 514.6L583.6 514.1L585.2 513.6L586.1 512.4L588.8 511.8"/><path d="M475.3 505.8L474.1 508.3L473.9 511.5L473.3 513.4L471.9 515.3L469.6 516.8L466.6 517.7L463.3 518L460.2 517.6L451.4 514.8L443.8 514.3L438.3 512.7L436.6 511.4L436 510L436.5 508.7L437.9 507.8L444 507L446.7 505.3L450.3 504.3L452.4 504.6L454.2 505.5L455.3 507.1L455.4 508.9L454.8 510.8L450.6 516.6L450 521.4L449 523.4L447.1 525.1L444.4 526.3L441.2 526.9L435 526.2L428.6 523.9L418.6 523L415.8 522.2L413.6 521L412.5 519.6L412.5 518.3L413.5 517.1L415.2 516.4L418.7 516.1"/><path d="M566.6 506.9L569 512.4L574.1 517L575.9 519.2L577 521.5L577 523.8L576.1 525.7L574.4 526.8L572.3 527.1L570.3 526.8L566.6 524.8L560.9 525.1L559 524.5L557.5 523.2L557 521.4L557.7 519.4L559.4 517.5L562 515.9L571.5 512.6L577.1 508.3L579.8 506.9L583.1 506.2L586.5 506.3L589.7 507.4L592.2 509.2L594 511.4L596.5 517.3L603.2 523.7L604.6 525.9L605.1 528.3L604.6 530.4L603.3 531.9L601.3 532.6L599.2 532.5L594.1 530.2L589.8 530.7L587.8 530.3L586.1 529.3L585.1 527.8"/><path d="M494.6 472.7L490.9 472.9L485.9 474.4L483 474.1L482 473.5L481.1 471.9L481.4 470.3L480.4 467.6L480.9 466.5L482.1 466.8L482.7 468.5L482.3 471.7L483.1 474.7L482.3 476.9L479.8 478.4L474.5 478.9L469.7 480.3L466.7 480.5L465.5 480.1L464 478.6L464.2 476.3L463.1 473.5L463.9 472.5L465 473.1L465.4 473.9L465.1 477.9L465.9 481.1L465.5 482.2"/><path d="M532.5 495.3L529.6 496.2L528.3 495.7L527.4 494.7L527.1 493.3L527.4 491.7L529.8 487.6L530.4 482.6L531.4 481.3L532.9 480.4L534.7 480.2L536.7 480.6L538.4 481.6L543.1 486.1L549.2 489.2L550.5 490.8L551.2 492.6L551.1 494.4L550.4 495.9L549.2 497.1L544.9 499.1L542.5 502.1L539.7 503.5"/><path d="M479.9 548.5L477.4 547.9L475.6 546.3L474.6 544.2L474.5 542L474.9 537.4L472.2 533.1L471.6 531L471.9 528.6L473.2 526.6L475.6 525.3L478.6 524.9L481.9 525.5L484.9 526.8L491.4 531.3L501.8 534L504.7 535.6L507 538.1L508.2 541.1L508.1 544.2L506.9 547.1L504.9 549.6L499.3 554.2L494.7 563L492.5 565.2L489.9 566.6L487.1 566.9L484.7 566.1L483 564.4L482.2 562.3L482.5 555.7L479.7 551.3L479.2 549.1L479.6 546.8L481.1 544.8L483.6 543.6L486.7 543.3L489.9 544.1L492.9 545.5L499.3 549.9L509.8 552.6L512.7 554.4L514.8 556.9L515.8 560L515.6 563.1L514.2 566L512.2 568.3L506.7 572.9L503.7 579.2L502 581.8L499.8 583.9L497.1 585.2L494.3 585.3L492 584.3L490.4 582.5L489.7 580.4L489.7 578.2"/><path d="M474.5 461.4L473.8 460L473.7 458.3L474.4 456.6L476.1 455.2L478.5 454.2L484 453.9L490.6 454.7L497.2 453.7L502.8 454L505.1 455.1L506.7 456.6L507.4 458.4L507.4 460.1L505.5 463.7L506 468.7L505.5 470.3L504.6 471.6L503.1 472.3L501.5 472.2L500.2 471.5L499.2 470.2"/><path d="M533.5 455.1L537.2 452.7L539.9 449.4L542.2 448.4L543.7 448.7L543.4 449.6L540.9 450.5L539.8 451.9L537.3 452.3L535.7 452L532.4 450.5L528.4 446.7L523 443.5L521.4 441L521.5 439.7L523.1 437.7L526.5 435.4"/><path d="M480.6 480.9L484.2 475.5L486.3 473.6L489 472.2L491.9 471.7L494.6 472.2L496.6 473.6L497.8 475.6L498.1 477.8L497.3 482.6L500.5 488.7L500.4 490.9L499.3 493L497.1 494.5L494.2 495.2L490.9 494.9L487.8 493.9L479.1 489.3L471.1 487.9L468 486.7L465.6 484.7L464.1 482.3L464 479.6L465.1 477.1L467.1 475L473.5 471.3L474.8 470.2L478.5 464.6L480.7 462.8L483.4 461.5L486.4 461.2L489 461.8L490.9 463.4L492 465.4L492.2 467.5L491.4 472.2L491.9 473.4"/><path d="M565.3 433.9L566.7 432.6L568.6 431.9L570.6 432L572.5 432.9L575 436.3L576.5 441L581 446.1L581.8 448.1L581.9 450.1L581.2 452L579.8 453.4L578 454.1L576.1 454.3L571.8 453.7L566.2 455.4L564.3 455.4L562.6 454.7L561.4 453.4L561 451.7L561.3 450L562.3 448.4L566.5 444.5L568.1 440.4L569.3 438.9L570.9 437.8L572.8 437.5L574.8 437.9L576.6 439.1L577.9 440.7L580.3 447L583.8 450.6L585.4 454.5L585.2 456.5L584.2 458.2L582.7 459.3L578.9 459.9L574.9 459.3L569 461.1L567.1 460.8L565.6 459.9L564.7 458.4L564.5 456.7L565.1 454.9L567.5 452.3"/><path d="M575.1 457.5L574.9 459.1L573.8 460.7L571.8 462L569.4 462.9L560.5 464.6L554.7 467.2L549.4 468.3L546.8 468.2L544.7 467.6L543.3 466.6L542.7 465.5L543.3 462.3L541.6 460.1L541.3 459L541.6 458L542.5 457.2L545.7 457.2L547.3 458L548.4 459.2L550.6 463.4L554 465.8L555 467.1L555.4 468.6L554.9 470.2L553.5 471.7L548.8 473.7L540.1 475.4L534.1 478L528.8 478.9L526.3 478.6L524.4 477.8L523.3 476.8L522.9 475.6L523.7 473.2"/><path d="M458.7 483.7L461.7 487L464.7 488.3L466.9 490.3L467.2 491.8L467 493.4L466 495L464.6 496.3L458.9 499.3L454.2 503.9L450.5 504.9L447.5 503.8L446.6 502.8L445.7 499.4L442.8 496.2L443 494.1L443.9 493.5L446.5 493.8L450.5 497.8L453.8 499.1L454.9 500.1L455.6 501.4L455.8 503L455.2 504.6L452.5 507.2L447.1 510.2L443.8 513.8L440.3 515.4L438.4 515.4L435.6 514L434.4 510.3L433.4 509.2"/><path d="M541.1 483.1L541.7 485.7L541.2 488.5L540.2 489.6L537.9 490.2L536.8 489.1L538 487.1L537 486L537.4 484.5L540.7 483.2L543.2 483.1L548.5 483.9L554.8 485.8L564.3 486.8L569 488.8L570.5 490.3L571.2 491.9L571.2 493.4L569.9 496.9L570.6 501.7L570.3 503.1L568.6 505.2L566.4 505.5L565.6 504.2L566.8 502.4L565.7 501.1L565.8 500.3"/><path d="M438.8 463.7L434.9 460.8L433.8 458.7L433.8 456.6L434.8 454.7L436.6 453.3L438.9 452.5L446.1 452.1L451 449.5L453.4 449L455.8 449.2L458 450.2L459.4 452L460 454.3L459.7 456.6L455.9 463.5L455.6 469L455 471.3L453.7 473.4L451.7 475L449.3 475.7L446.6 475.5L444.3 474.4L442.4 472.9L438.9 468.7L437.5 467.9"/><path d="M486.9 497.3L490.3 495.6L495.5 491.5L500.9 489.7L503.7 489.7L506 490.3L507.5 491.3L508.2 492.5L508.4 495.2L512 498.3L512.4 499.6L512 500.7L510.7 501.5L508.7 501.8L506.5 501.4L502.7 499.3L499.4 496.2L494.4 494.4L492.4 493.3L490.9 491.8"/><path d="M498.6 435.9L497.1 435.7L495.3 434.6L495.3 433.3L494.3 432.4L494.4 431.6L495.3 431.9L495.7 432.7L495.9 435.4L494.2 440.4L493.9 445.3L492.3 448.3L490.9 449.6L487.4 450.9L482.6 451.5L476.7 453.6L473.2 454L471.7 453.7L470.1 452.6L470.2 451.3L469.1 450.4L469.3 449.6L470.2 450.1L470.8 452.2"/><path d="M515 493.7L515.5 494.9L515.4 496.3L514.5 497.5L511.1 498.8L504.3 498L498 499.1L495.9 498.8L494 497.9L492.5 496.5L491.7 494.7L491.4 492.7L492.7 486.9L491.9 482.4L492.5 478.8L493.5 477.4L494.8 476.7L496.2 476.7L498.2 478.2L499.2 480.6L500.5 481.3"/><path d="M515.1 470.8L519.4 472.4L521.2 473.7L522.2 475.3L522.5 476.9L522 478.4L521 479.6L518 481.5L515.8 485.3L514.7 486.3L511.9 487L510.8 486.5L510.2 485.5L510.2 484.3L512.8 480.4L513.2 476.6L514 475.3L515.5 474.3L517.4 473.6L522.1 474.1L529 477.9L536.6 480L540.1 482.5L540.9 484.1L540.9 485.7"/><path d="M484.7 487.8L483.5 486L481.7 479.5L477.5 473.6L477.1 471.5L477.5 469.6L478.6 468L480.3 467L482.2 466.7L487.9 467.8L493.8 466.7L495.6 467.2L497 468.2L497.6 469.6L497.4 471.2L496.5 472.8L495.1 474L491 476L487.5 480.5L485.9 481.5L483.8 482L481.7 481.7L479.8 480.7L478.4 479.1L477.4 477.2L476.3 472.3L472.3 466.7L471.6 464.7L471.6 462.7L472.5 460.9L473.9 459.6L475.8 459L477.7 459L481.8 460L487.4 458.9L489.3 459.1L490.8 459.9L491.8 461.2L492 462.8"/><path d="M488.3 485.6L486.8 484.4L485.7 482.6L485.6 480.5L486.7 478.3L489 476.6L492.1 475.6L495.6 475.4L507.1 477.3L515.4 475.9L519 476L522.5 476.9L525.6 478.7L527.9 481.4L529 484.5L529.2 487.7L527.2 495L527.1 497L528.4 504.5L528.3 507.6L527.3 510.3L525.6 512.4L523.4 513.4L521.2 513.3L519.4 512.3L518.2 510.7L516.9 506.6L512.2 503.3L511.2 501.5L511.1 499.4L512.2 497.3L514.5 495.6L517.7 494.6L521.2 494.4L530.2 496.1L535 496"/><path d="M491.2 512.6L489.9 511.3L485.8 510.1L484.3 509L483.4 507.3L483.5 505.3L484.7 503.2L487 501.5L489.8 500.3L500.4 498.5L507.1 495.2L510.2 494.2L513.5 493.9L516.8 494.4L519.6 495.9L521.7 498L522.9 500.5L524.2 508.3L527.9 513.8L528.7 516.3L528.8 518.7L528 520.7L526.5 522L524.6 522.4L522.8 522L521.3 520.9L519 517.7L513.9 516L512.5 514.7L511.9 512.9L512.3 510.8L513.9 508.8L516.3 507.2L519.3 506.2L529.6 504.5L536.6 501L539.7 500.2L543.1 500.1L546.3 501L548.9 502.6L550.7 504.9L551.7 507.4L552.4 513.4L556.8 520.7"/><path d="M499.9 493.7L504.1 494.5L508.5 498.5L514.9 502.2L516.3 504.5L516.2 505.4L515 505.8L513.7 504.8L513.2 503.4L511 502.5L510.6 500.3L511.3 498.8L514.1 496.2L520.8 493L524.7 489.7L528.6 487.7L530.8 487.4L534.9 488.3L539.2 492.2L545.7 496L547 498.3L546.2 499.5L544.8 499L543.8 497.1"/><path d="M441.6 486.4L436.4 488.1L433.3 488.3L430.2 487.8L427.4 486.3L425.5 484L424.7 481.3L424.7 478.5L427.6 470.8L427 464.4L427.4 461.8L428.5 459.4L430.3 457.8L432.4 457.2L434.6 457.8L436.3 459.3L437.5 461.3L438.8 466.7L443.5 471.8L444.4 474L444.5 476.6L443.4 479.1L441.3 481L438.5 482.3L435.4 482.7L427.5 481.8L425.5 481.9L418 484.1L414.8 484.3L411.8 483.5L409.2 481.8L407.5 479.4L406.8 476.6L407.1 473.9L409.6 468L409.3 459.8L409.8 457.2L411.1 454.9L412.9 453.5L415.1 453.2L417.2 454L418.9 455.7L419.9 457.8L421.1 462.9"/><path d="M461.8 528.1L463.2 526L464.4 525.1L467.5 524.4L474.1 526.3L479.7 526.9L482.2 528.2L482.9 529.8L482.1 530.8L481.1 531L480.9 532L480 532.6L478.9 532.1L478.6 531.3L479.3 529.2L482.3 525.9L484 522.2L486.4 520.5L489.7 520.2L494.9 521.9L500.2 522.5L503 523.6L503.8 524.3L504.1 525.9L502.5 526.6L502 527.9L501 528.3L500 527.4L500.3 525.4L503.3 522"/><path d="M522.4 507.7L523.5 505.7L525.4 504.2L528.1 503.3L531.1 503.2L534 503.8L540.6 506.3L550.1 506.8L553 507.6L555.4 509L556.9 510.9L557.4 513.1L556.8 515.2L555.4 517L551 520.1L548.1 525.8L546.5 527.4L544.5 528.5L542.2 528.7L540.1 528.1L538.5 526.7L537.6 524.8L537.5 522.8L538.1 518.2L536 514.1L535.4 512.1L535.6 510L536.7 508L538.7 506.5L541.5 505.7L544.5 505.7L547.4 506.3"/><path d="M598.3 433.6L599.5 435.9L600.6 438.1L603.1 438L605.2 439.3L607.7 439.8L608.4 442.2L610 444.1L609.3 446.5L607.1 447.8L605 449.2L603 450.6L600.6 449.7L600.5 447.2"/><path d="M557.9 429.8L560.1 428.7L562 430.3L563.6 432.2L562.7 434.5L562.6 437L561 439L561.9 441.3L563.8 443L564.7 445.3L564.5 447.8L562.6 449.5L561.2 451.5L561.1 454L561.9 456.4L562.4 458.9"/><path d="M473.1 457.5L474.7 459.4L475.7 461.7L474.7 464L473.1 465.9L473.1 468.4L475.4 469.4L475.9 471.9L475.5 474.4L477.6 475.7L480 475.4"/><path d="M472.7 425.8L474.3 427.7L474 430.1L475.2 432.3L475.4 434.8L474.3 437L474.2 439.5L472.2 441L471.5 443.4L471 445.9L471.6 448.3L472.5 450.6L471.6 452.9L470.3 455.1L468.5 456.8L466.2 455.8L463.8 456.5L462.3 458.5L460.3 460"/><path d="M489.5 516.4L491.4 518.1L493.9 518L495.6 516.2L497.7 514.8L500.2 515L502.7 514.9L505.1 515.5L507.6 515.2L509.8 516.5L512.3 516.7L513.7 518.7L515.3 520.6L517.8 520.2L520.2 519.7L522.7 520.3"/><path d="M580.5 494.5L582.8 495.6L584.8 497L587.2 496.2L587.5 493.7L586.9 491.3L589 489.8L591.3 488.8L593.5 490L595.6 488.6L595.7 486.1L593.5 485L592 483L589.5 482.6L587.2 483.5L584.7 483.5L582.5 482.3L580 482.2L577.5 482.2"/><path d="M507.6 476.1L508.1 473.7L510.4 472.8L512.1 471L511.1 468.7L509.4 466.9L507.4 465.4L504.9 465.8L503.5 467.9L503.9 470.3L506.2 471.3L507.9 473.2L510.4 473.4L512.8 473.9"/><path d="M584.4 507.3L586.1 509.1L587.8 510.9L589.9 512.4L592.2 513.2L594.6 514.1L597 514.8L599.3 515.7L601.6 516.7L602.7 519L601.5 521.2L601.9 523.6L604.3 524.3L606.7 523.7L607.3 521.3L609.3 519.8"/><path d="M550.6 448.6L553.1 448.7L555.3 450L556.4 452.2L557.7 454.4L559.5 456.1L561.1 458L560.5 460.5L558.1 460.9L556.4 459L556.6 456.5L554.6 455L552.1 455L551 452.7L550.2 450.3L549.5 447.9L547.9 446.1"/><path d="M582.1 471.7L584 473.2L586.4 472.6L588.5 474L589.1 476.4L588.4 478.8L586.5 480.4L584.8 482.3L582.4 481.4L581.8 479"/><path d="M546.9 474.7L546.9 472.2L548.3 470.1L548.2 467.6L548.1 465.1L550.3 463.8L552.7 463.3L554.8 464.6L554.4 467.1L552.1 468.1L549.6 468.4"/><path d="M471.6 492.2L473.8 490.9L476.3 491.2L478.7 490.5L480.4 492.3L481.8 494.4L484.3 494.3L486.7 495.1L489.1 494.5L491.3 495.8L492.5 497.9L492.3 500.4L494.4 501.8L496.5 500.6L499 501.1L501 499.6L501.4 497.1L499.4 495.6"/><path d="M491.3 467.4L492 469.8L490.4 471.7L488 472.5L486.2 474.2L486.5 476.7L488.9 477.4L490.7 479L490.6 481.5L491.7 483.8L490.6 486L488.7 487.7L487.3 489.8L485.3 491.3"/><path d="M524 485.5L525.2 483.3L527.6 483.1L530 483.9L531.9 482.2L532.2 479.8L530.9 477.6L528.8 476.3L528.3 473.8L529 471.4L531.5 471.1L533.9 471.8L536 473.1L538.4 473.9L540.1 475.7L541.8 477.5L544.2 476.9L546.6 476.2"/><path d="M519.9 473.1L521.5 471.2L523.6 469.7L525.8 468.6L527.6 466.9L530 467.7L532 469.2L533.5 471.2L535.9 471.7"/><path d="M471.5 485.8L473.7 484.7L474.6 482.4L476.6 480.9L476.4 478.4L478.1 476.6L477.3 474.2L475 473.1L472.7 472.1L471.9 469.7L471.8 467.2L473 465.1L475.3 464.1L477.8 464.4L479.3 462.4L481.7 461.9L483 459.8L482.4 457.4L480 456.9"/><path d="M473.7 507.7L476 508.6L478.2 507.4L479.8 505.5L482.2 506.2L483.5 508.3L484.3 510.7L486.4 512.1L488.8 511.7L491.2 511"/><path d="M526.8 427.4L528.6 425.6L530.5 424.1L531.9 422L531.3 419.6L531.1 417.1L530.9 414.6L530.1 412.2L529.1 409.9L526.6 409.7"/><path d="M550 439.3L552.3 438.4L554.7 439.2L555.7 441.5L557.7 443L560.1 443.3L562.3 444.6L564.7 443.9L567 444.9"/><path d="M584.6 512.5L584.6 510L583.3 507.8L581.2 506.5L580.2 504.2L580.9 501.8L582.6 499.9L585 500.4L587.1 499.1L588.8 497.3L591.3 497.3L593.3 498.9L595.7 498.2L597.3 500.2L597.6 502.7L595.8 504.5L594.7 506.7L593.1 508.6L590.7 508.1"/><path d="M586.7 477.7L587.4 480.1L587.2 482.6L584.9 483.5L584.1 485.9L583.8 488.4L583.2 490.8L584.7 492.8L584.5 495.3L586.6 496.7L588.2 498.6L590.6 499.4"/><path d="M512 480.7L514.5 480.8L516 482.7L518.5 482.2L519.9 480.1L521.3 478L523.2 476.4L525.2 475L526.2 472.7L526.5 470.2L527.4 467.9L529.4 466.4L529.4 463.9L530.5 461.6L532.2 459.8L534.4 458.7"/></g></g><path d="M173.5 258.3 L148.5 265 L148.5 763 L630.5 775.5 L1496 478" fill="none" stroke="#000" stroke-width="4.2" stroke-linejoin="miter"/><line x1="148.5" y1="700.8" x2="165.5" y2="694.9" stroke="#000" stroke-width="3" /><line x1="148.5" y1="638.5" x2="165.5" y2="632.6" stroke="#000" stroke-width="3" /><line x1="148.5" y1="576.2" x2="165.5" y2="570.4" stroke="#000" stroke-width="3" /><line x1="148.5" y1="514" x2="173.1" y2="505.6" stroke="#000" stroke-width="4" /><line x1="148.5" y1="451.8" x2="165.5" y2="445.9" stroke="#000" stroke-width="3" /><line x1="148.5" y1="389.5" x2="165.5" y2="383.6" stroke="#000" stroke-width="3" /><line x1="148.5" y1="327.2" x2="165.5" y2="321.4" stroke="#000" stroke-width="3" /><line x1="208.8" y1="764.6" x2="225.8" y2="758.7" stroke="#000" stroke-width="2.8" /><line x1="269" y1="766.1" x2="286" y2="760.3" stroke="#000" stroke-width="2.8" /><line x1="329.2" y1="767.7" x2="346.3" y2="761.8" stroke="#000" stroke-width="2.8" /><line x1="449.8" y1="770.8" x2="466.8" y2="765" stroke="#000" stroke-width="2.8" /><line x1="510" y1="772.4" x2="527" y2="766.5" stroke="#000" stroke-width="2.8" /><line x1="570.2" y1="773.9" x2="587.3" y2="768.1" stroke="#000" stroke-width="2.8" /><line x1="662.6" y1="764.5" x2="644.6" y2="764" stroke="#000" stroke-width="2.6" /><line x1="694.6" y1="753.5" x2="676.6" y2="753" stroke="#000" stroke-width="2.6" /><line x1="726.7" y1="742.5" x2="708.7" y2="742" stroke="#000" stroke-width="2.6" /><line x1="758.7" y1="731.5" x2="740.7" y2="731" stroke="#000" stroke-width="2.6" /><line x1="790.8" y1="720.5" x2="772.8" y2="720" stroke="#000" stroke-width="2.6" /><line x1="822.9" y1="709.5" x2="804.9" y2="709" stroke="#000" stroke-width="2.6" /><line x1="854.9" y1="698.5" x2="836.9" y2="698" stroke="#000" stroke-width="2.6" /><line x1="887" y1="687.5" x2="869" y2="687" stroke="#000" stroke-width="2.6" /><line x1="919" y1="676.5" x2="892" y2="675.8" stroke="#000" stroke-width="3.6" /><line x1="951.1" y1="665.5" x2="933.1" y2="665" stroke="#000" stroke-width="2.6" /><line x1="983.2" y1="654.5" x2="965.2" y2="654" stroke="#000" stroke-width="2.6" /><line x1="1015.2" y1="643.5" x2="997.2" y2="643" stroke="#000" stroke-width="2.6" /><line x1="1047.3" y1="632.5" x2="1029.3" y2="632" stroke="#000" stroke-width="2.6" /><line x1="1079.3" y1="621.5" x2="1061.3" y2="621" stroke="#000" stroke-width="2.6" /><line x1="1111.4" y1="610.5" x2="1093.4" y2="610" stroke="#000" stroke-width="2.6" /><line x1="1143.5" y1="599.5" x2="1125.5" y2="599" stroke="#000" stroke-width="2.6" /><line x1="1175.5" y1="588.5" x2="1157.5" y2="588" stroke="#000" stroke-width="2.6" /><line x1="1207.6" y1="577.5" x2="1180.6" y2="576.8" stroke="#000" stroke-width="3.6" /><line x1="1239.6" y1="566.5" x2="1221.6" y2="566" stroke="#000" stroke-width="2.6" /><line x1="1271.7" y1="555.5" x2="1253.7" y2="555" stroke="#000" stroke-width="2.6" /><line x1="1303.8" y1="544.5" x2="1285.8" y2="544" stroke="#000" stroke-width="2.6" /><line x1="1335.8" y1="533.5" x2="1317.8" y2="533" stroke="#000" stroke-width="2.6" /><line x1="1367.9" y1="522.5" x2="1349.9" y2="522" stroke="#000" stroke-width="2.6" /><line x1="1399.9" y1="511.5" x2="1381.9" y2="511" stroke="#000" stroke-width="2.6" /><line x1="1432" y1="500.5" x2="1414" y2="500" stroke="#000" stroke-width="2.6" /><line x1="1464.1" y1="489.5" x2="1446.1" y2="489" stroke="#000" stroke-width="2.6" /><text x="99" y="309.5" font-size="54" font-weight="bold" font-style="normal" fill="#000" text-anchor="middle" >2</text><text x="101" y="541" font-size="54" font-weight="bold" font-style="normal" fill="#000" text-anchor="middle" >0</text><text x="101" y="762" font-size="54" font-weight="bold" font-style="normal" fill="#000" text-anchor="middle" >-2</text><text x="126" y="820" font-size="54" font-weight="bold" font-style="normal" fill="#000" text-anchor="middle" >2</text><text x="367.5" y="827.5" font-size="54" font-weight="bold" font-style="normal" fill="#000" text-anchor="middle" >0</text><text x="589.5" y="831" font-size="54" font-weight="bold" font-style="normal" fill="#000" text-anchor="middle" >-2</text><text x="694.5" y="817" font-size="54" font-weight="bold" font-style="normal" fill="#000" text-anchor="middle" >3</text><text x="977" y="723.5" font-size="54" font-weight="bold" font-style="normal" fill="#000" text-anchor="middle" >12</text><text x="1273" y="622.5" font-size="54" font-weight="bold" font-style="normal" fill="#000" text-anchor="middle" >21</text><text x="1548" y="522.5" font-size="54" font-weight="bold" font-style="normal" fill="#000" text-anchor="middle" >30</text><text transform="translate(57.8,580.8) rotate(-90)" font-size="73" font-style="italic" font-weight="bold" fill="#000" text-anchor="start">z</text><text transform="translate(57.8,533.2) rotate(-90)" font-size="76" font-style="normal" font-weight="bold" fill="#000" text-anchor="start">/</text><text transform="translate(57.8,495.5) rotate(-90)" font-size="73" font-style="italic" font-weight="bold" fill="#000" text-anchor="start">λ</text><text transform="translate(69.8,458.5) rotate(-90)" font-size="39" font-style="normal" font-weight="bold" fill="#000" text-anchor="start">0</text><text transform="translate(296.3,895)" font-size="75" font-style="italic" font-weight="bold" fill="#000" text-anchor="start">y</text><text transform="translate(349.6,895)" font-size="76" font-style="normal" font-weight="bold" fill="#000" text-anchor="start">/</text><text transform="translate(387,895)" font-size="75" font-style="italic" font-weight="bold" fill="#000" text-anchor="start">λ</text><text transform="translate(424.3,907.5)" font-size="39" font-style="normal" font-weight="bold" fill="#000" text-anchor="start">0</text><text transform="matrix(0.948,-0.317,0.28,1,1104,741)" font-size="66" font-weight="bold"><tspan font-style="italic">x</tspan><tspan dx="9.5"> /</tspan><tspan dx="7.5" font-style="italic"> λ</tspan><tspan font-size="36" dx="4.7" dy="6">0</tspan></text><text x="1427.3" y="98" font-size="64" font-weight="bold" font-style="normal" fill="#000" text-anchor="middle" >(a)</text><rect x="201" y="126" width="256" height="27" fill="url(#cb1)" stroke="#000" stroke-width="1.5"/><text transform="translate(226.4,81.8) scale(1.2,1)" font-size="62" font-style="italic" font-weight="bold" fill="#000" text-anchor="start">ε</text><text transform="translate(259.3,94) scale(1.2,1)" font-size="35" font-style="normal" font-weight="bold" fill="#000" text-anchor="start">k</text><text transform="translate(283.8,81.6)" font-size="53" font-style="normal" font-weight="bold" fill="#000" text-anchor="start">/MeV</text><text transform="translate(195.3,115.1)" font-size="40" font-style="normal" font-weight="bold" fill="#000" text-anchor="start">0</text><text transform="translate(461.3,115.1)" font-size="40" font-style="normal" font-weight="bold" fill="#000" text-anchor="end">300</text><text transform="translate(186.8,193.6)" font-size="40" font-style="normal" font-weight="bold" fill="#000" text-anchor="start">1.0</text><text transform="translate(464.2,193.6)" font-size="40" font-style="normal" font-weight="bold" fill="#000" text-anchor="end">40</text><text transform="translate(276.7,221.8)" font-size="62" font-style="italic" font-weight="bold" fill="#000" text-anchor="start">n</text><text transform="translate(309.9,240) scale(1.15,1)" font-size="32" font-style="normal" font-weight="bold" fill="#000" text-anchor="start">e</text><text transform="translate(326,221.8)" font-size="60" font-style="normal" font-weight="bold" fill="#000" text-anchor="start">/</text><text transform="translate(342.3,221.8)" font-size="62" font-style="italic" font-weight="bold" fill="#000" text-anchor="start">n</text><text transform="translate(374.9,240) scale(1.15,1)" font-size="32" font-style="normal" font-weight="bold" fill="#000" text-anchor="start">c</text><rect x="1119" y="871" width="256" height="27" fill="url(#cb2)" stroke="#000" stroke-width="1.5"/><text x="1107" y="850.4" font-size="54.4" font-weight="bold">d<tspan font-style="italic">N</tspan>/sin<tspan font-style="italic" font-weight="normal">θ</tspan>d<tspan font-style="italic" font-weight="normal">θ</tspan>d<tspan font-style="italic">ϕ</tspan></text><text x="1137.8" y="939.8" font-size="43" font-weight="bold" font-style="normal" fill="#000" text-anchor="middle" >0.0</text><text x="1362.2" y="939.8" font-size="43" font-weight="bold" font-style="normal" fill="#000" text-anchor="middle" >1.0</text><path d="M1162 469 L1344 406 L1348 417 L1166 480 Z" fill="#1550e6"/><path d="M1338 383 L1420 386 L1355 440 Z" fill="#0c46e8"/><ellipse cx="1346" cy="411.5" rx="14" ry="29" transform="rotate(-8 1346 411.5)" fill="#3f78ee"/><path d="M1338 383 L1420 386 L1355 440 Z" fill="#0c46e8" opacity="0"/><text transform="translate(1182.5,422) rotate(-17.5)" font-size="47" font-weight="bold">Laser</text><defs><clipPath id="bclip"><rect x="147.9" y="974.0" width="669.2" height="595.5"/></clipPath></defs><line x1="146.5" y1="1536.6" x2="154.5" y2="1536.6" stroke="#000" stroke-width="2.6" /><line x1="146.5" y1="1504.7" x2="154.5" y2="1504.7" stroke="#000" stroke-width="2.6" /><line x1="146.5" y1="1472.8" x2="154.5" y2="1472.8" stroke="#000" stroke-width="2.6" /><line x1="146.5" y1="1440.8" x2="154.5" y2="1440.8" stroke="#000" stroke-width="2.6" /><line x1="146.5" y1="1408.9" x2="154.5" y2="1408.9" stroke="#000" stroke-width="2.6" /><line x1="146.5" y1="1377" x2="160.5" y2="1377" stroke="#000" stroke-width="2.6" /><line x1="146.5" y1="1345.1" x2="154.5" y2="1345.1" stroke="#000" stroke-width="2.6" /><line x1="146.5" y1="1313.2" x2="154.5" y2="1313.2" stroke="#000" stroke-width="2.6" /><line x1="146.5" y1="1281.2" x2="154.5" y2="1281.2" stroke="#000" stroke-width="2.6" /><line x1="146.5" y1="1249.3" x2="154.5" y2="1249.3" stroke="#000" stroke-width="2.6" /><line x1="146.5" y1="1217.4" x2="154.5" y2="1217.4" stroke="#000" stroke-width="2.6" /><line x1="146.5" y1="1185.5" x2="160.5" y2="1185.5" stroke="#000" stroke-width="2.6" /><line x1="146.5" y1="1153.6" x2="154.5" y2="1153.6" stroke="#000" stroke-width="2.6" /><line x1="146.5" y1="1121.7" x2="154.5" y2="1121.7" stroke="#000" stroke-width="2.6" /><line x1="146.5" y1="1089.8" x2="154.5" y2="1089.8" stroke="#000" stroke-width="2.6" /><line x1="146.5" y1="1057.8" x2="154.5" y2="1057.8" stroke="#000" stroke-width="2.6" /><line x1="146.5" y1="1025.9" x2="154.5" y2="1025.9" stroke="#000" stroke-width="2.6" /><line x1="230.5" y1="1568.5" x2="230.5" y2="1560.5" stroke="#000" stroke-width="2.6" /><line x1="314.5" y1="1568.5" x2="314.5" y2="1560.5" stroke="#000" stroke-width="2.6" /><line x1="398.5" y1="1568.5" x2="398.5" y2="1560.5" stroke="#000" stroke-width="2.6" /><line x1="482.5" y1="1568.5" x2="482.5" y2="1554.5" stroke="#000" stroke-width="2.6" /><line x1="566.5" y1="1568.5" x2="566.5" y2="1560.5" stroke="#000" stroke-width="2.6" /><line x1="650.5" y1="1568.5" x2="650.5" y2="1560.5" stroke="#000" stroke-width="2.6" /><line x1="734.5" y1="1568.5" x2="734.5" y2="1560.5" stroke="#000" stroke-width="2.6" /><line x1="309.6" y1="1050" x2="309.6" y2="1568.5" stroke="#000" stroke-width="2.4" stroke-dasharray="8.5 6"/><line x1="443.3" y1="1292" x2="443.3" y2="1568.5" stroke="#000" stroke-width="2.4" stroke-dasharray="8.5 6"/><line x1="534.3" y1="1424" x2="534.3" y2="1568.5" stroke="#000" stroke-width="2.4" stroke-dasharray="8.5 6"/><line x1="590.5" y1="1468" x2="590.5" y2="1568.5" stroke="#000" stroke-width="2.4" stroke-dasharray="8.5 6"/><rect x="146.5" y="994.0" width="672.0" height="574.5" fill="none" stroke="#000" stroke-width="2.8"/><g clip-path="url(#bclip)" fill="none" stroke-width="5" stroke-linejoin="round" stroke-linecap="round"><path d="M145.9 1544L146.3 1542.9L146.8 1541.4L147.5 1539.6L148.2 1537.7L149 1535.8L149.8 1534.2L150.8 1532.7L151.8 1531.1L152.9 1529.6L154.1 1528.2L155.3 1527L156.4 1526L157.5 1525.4L158.6 1525L159.8 1524.9L160.9 1524.8L161.9 1524.7L162.9 1524.4L163.8 1523.9L164.6 1523.3L165.3 1522.6L166 1522L166.8 1521.5L167.8 1521.1L169.1 1520.8L170.4 1520.7L171.9 1520.6L173.4 1520.6L174.8 1520.8L176 1521.1L177 1521.6L177.9 1522.4L178.7 1523.2L179.4 1524.2L180.2 1525.1L180.9 1526L181.7 1526.9L182.5 1528L183.3 1529L184.1 1529.9L184.9 1530.6L185.9 1530.9L186.8 1530.7L187.9 1530.2L189 1529.3L190.2 1528.4L191.3 1527.6L192.4 1527L193.5 1526.7L194.6 1526.5L195.7 1526.5L196.8 1526.4L197.9 1526.3L199 1526L200 1525.5L201.1 1524.9L202.2 1524.2L203.3 1523.5L204.4 1523L205.5 1522.7L206.6 1522.8L207.7 1523L208.8 1523.4L209.9 1523.9L211 1524.2L212.1 1524.4L213.1 1524.3L214.1 1524.2L215.1 1524L216.2 1523.6L217.3 1523.2L218.6 1522.7L220.1 1522.1L221.8 1521.4L223.6 1520.6L225.4 1519.7L227 1518.8L228.4 1517.8L229.5 1516.8L230.4 1515.8L231.2 1514.7L231.9 1513.6L232.6 1512.4L233.3 1511.3L234.1 1510.1L234.9 1508.9L235.7 1507.6L236.5 1506.4L237.3 1505.2L238.3 1504.1L239.3 1503.1L240.3 1502.3L241.4 1501.5L242.6 1500.6L243.7 1499.6L244.8 1498.2L245.9 1496.4L247 1494.5L248.1 1492.3L249.2 1489.9L250.3 1487.5L251.4 1485.1L252.4 1482.6L253.5 1480L254.6 1477.3L255.7 1474.5L256.8 1471.6L257.9 1468.7L259 1465.7L260.1 1462.6L261.2 1459.5L262.3 1456.2L263.4 1452.7L264.5 1449L265.6 1444.8L266.7 1440.1L267.8 1435.1L268.9 1430.4L270 1426.1L271 1422.8L271.9 1420.7L272.8 1419.6L273.7 1418.9L274.5 1418.5L275.2 1417.7L275.9 1416.3L276.5 1414.5L277.1 1412.9L277.6 1411L278 1408.4L278.6 1404.8L279.2 1399.9L279.9 1393.4L280.7 1385.6L281.5 1376.8L282.4 1367.3L283.3 1357.4L284.1 1347.5L284.9 1337.5L285.7 1327.3L286.6 1316.6L287.4 1305.5L288.2 1294L289 1282L289.8 1269.3L290.7 1255.9L291.5 1242.1L292.3 1228L293.1 1214L293.9 1200.1L294.7 1186.2L295.6 1171.9L296.4 1157.6L297.2 1143.6L298 1130.4L298.8 1118.3L299.7 1107L300.6 1096.2L301.4 1086.2L302.3 1077.1L303.1 1069.1L303.8 1062.6L304.3 1057.7L304.8 1054.5L305.2 1052.5L305.6 1051.1L306 1050.1L306.4 1048.8L306.8 1047.5L307.2 1046.4L307.5 1045.6L307.9 1045.1L308.3 1044.7L308.7 1044.6L309 1044.6L309.4 1044.9L309.8 1045.4L310.2 1046.1L310.6 1046.9L311 1047.8L311.4 1048.5L311.7 1048.8L312.1 1049.3L312.5 1050.3L313 1052.4L313.6 1056L314.3 1061.3L315 1067.8L315.9 1075.4L316.8 1083.7L317.6 1092.7L318.5 1101.9L319.3 1111.5L320.1 1121.6L320.9 1132.4L321.8 1143.6L322.6 1155.3L323.4 1167.4L324.2 1180.1L325 1193.5L325.9 1207.3L326.7 1221.4L327.5 1235.4L328.3 1249.3L329.1 1262.7L330 1275.9L330.8 1289.2L331.6 1302.6L332.4 1316.5L333.2 1331.1L334.1 1346.9L334.9 1363.9L335.7 1381.3L336.5 1398.5L337.3 1414.7L338.1 1429.4L339 1442.5L339.8 1454.7L340.6 1466L341.4 1476.5L342.2 1486.1L343.1 1494.9L343.9 1502.8L344.7 1509.7L345.5 1515.8L346.3 1521.2L347.2 1526.2L348 1530.9L348.8 1535.2L349.6 1538.9L350.4 1542.2L351.2 1545.1L352.1 1547.9L352.9 1550.6L353.7 1553.2L354.4 1555.8L355.1 1558.1L355.9 1560.2L356.8 1562.1L357.8 1563.7L358.9 1564.9L360.1 1565.9L361.4 1566.5L362.8 1567L364.3 1567.4L366 1567.6L367.9 1567.7L370.1 1567.5L372.4 1567.1L374.8 1566.7L377 1566.4L379.1 1566.3L380.1 1566.4L380 1566.6L379.7 1566.9L380.5 1567.2L383.2 1567.5L388.9 1567.6L395.2 1567.5L400.8 1567.4L408.3 1567.1L420.6 1566.9L440.2 1566.6L470 1566.5L516.6 1566.4L579.1 1566.4L649.1 1566.4L717.9 1566.5L777 1566.5L818 1566.5" stroke="#ff0000"/><path d="M145.9 1557.1L147.4 1556.8L149.5 1556.4L152 1556L154.6 1555.4L157.2 1554.9L159.7 1554.5L161.8 1554.1L163.9 1553.7L166 1553.4L168.2 1553L170.4 1552.6L172.8 1552.2L175.3 1551.8L178 1551.3L180.7 1550.9L183.5 1550.4L186.4 1550L189.1 1549.6L191.9 1549.3L194.6 1549.1L197.3 1548.8L200 1548.6L202.8 1548.3L205.5 1547.9L208.2 1547.5L211 1546.9L213.7 1546.3L216.4 1545.6L219.1 1544.9L221.9 1544L224.6 1543.1L227.3 1542.1L230.1 1541L232.8 1539.9L235.5 1538.7L238.3 1537.5L241 1536.2L243.7 1534.7L246.4 1533.3L249.2 1531.8L251.9 1530.5L254.6 1529.3L257.4 1528.3L260.1 1527.4L262.8 1526.6L265.5 1525.9L268.3 1525.1L271 1524.4L273.7 1523.6L276.5 1522.9L279.2 1522.1L281.9 1521.3L284.7 1520.5L287.4 1519.5L290.1 1518.3L292.8 1517L295.6 1515.7L298.3 1514.2L301 1512.8L303.8 1511.3L306.5 1509.7L309.2 1508.1L311.9 1506.5L314.7 1504.8L317.4 1503.1L320.1 1501.4L322.8 1499.9L325.5 1498.3L328.2 1496.8L330.9 1495.2L333.7 1493.5L336.5 1491.6L339.5 1489.4L342.6 1487L345.8 1484.5L348.9 1482L352 1479.4L354.8 1477L357.6 1474.8L360.3 1472.7L362.9 1470.6L365.4 1468.5L367.7 1466.3L369.8 1463.9L371.7 1461.4L373.3 1458.9L374.8 1456.2L376.2 1453.4L377.7 1450.4L379.2 1447.1L380.7 1443.4L382.3 1439.5L384 1435.3L385.5 1431L387.1 1426.8L388.5 1422.8L389.9 1418.9L391.1 1415.2L392.4 1411.5L393.6 1407.9L394.8 1404.1L396 1400.3L397.2 1396.4L398.5 1392.3L399.7 1388.3L401 1384.2L402.2 1380.1L403.5 1376L404.7 1371.9L406 1367.8L407.2 1363.7L408.5 1359.6L409.7 1355.6L411 1351.7L412.2 1347.8L413.5 1344L414.7 1340.2L416 1336.5L417.2 1332.8L418.4 1329.2L419.7 1325.6L420.9 1322.1L422.1 1318.6L423.3 1315.2L424.6 1311.8L425.9 1308.6L427.4 1305.5L429 1302.3L430.7 1299.3L432.4 1296.4L433.9 1293.9L435.3 1291.8L436.5 1290.2L437.5 1288.9L438.5 1288L439.4 1287.3L440.2 1286.7L440.9 1286.2L441.5 1285.7L442 1285.4L442.4 1285.2L442.8 1285.1L443.2 1285.1L443.7 1285.3L444.2 1285.4L444.8 1285.5L445.3 1285.8L446 1286.2L446.6 1287L447.4 1288.1L448.4 1289.6L449.4 1291.6L450.5 1293.9L451.6 1296.3L452.8 1298.7L454 1301.2L455.2 1303.4L456.4 1305.7L457.7 1307.9L458.9 1310.4L460.2 1313.1L461.5 1316.1L462.7 1319.6L464 1323.3L465.2 1327.2L466.5 1331.4L467.7 1335.9L469 1340.4L470.2 1345.3L471.5 1350.5L472.8 1355.9L474.1 1361.4L475.3 1366.9L476.4 1372.3L477.4 1377.3L478.3 1381.9L479.1 1386.6L480 1391.6L480.9 1397.3L482.1 1404.1L483.5 1412.3L485.1 1422L486.8 1432.3L488.6 1442.7L490.4 1452.5L492.1 1461.2L493.7 1468.7L495.4 1475.6L497 1481.9L498.7 1487.7L500.3 1493.2L502 1498.5L503.6 1503.4L505.2 1507.9L506.8 1512L508.4 1515.9L510.1 1519.6L511.9 1523.3L513.9 1527L515.9 1530.7L518 1534.2L520.1 1537.5L522.3 1540.5L524.4 1543.2L526.4 1545.5L528.4 1547.3L530.4 1548.9L532.5 1550.3L534.6 1551.7L536.8 1553.2L539.1 1554.7L541.5 1556.3L543.9 1557.9L546.5 1559.3L549 1560.7L551.7 1561.8L554.4 1562.9L557 1563.7L559.8 1564.5L562.6 1565.1L565.7 1565.6L569.1 1566.1L572.2 1566.4L575 1566.5L577.9 1566.6L581.7 1566.6L586.8 1566.6L593.9 1566.6L603.3 1566.6L614.5 1566.6L627 1566.6L640.5 1566.6L654.5 1566.6L668.5 1566.6L683.1 1566.6L699 1566.5L715.3 1566.5L731.3 1566.5L746.5 1566.5L760 1566.5L772.3 1566.5L784 1566.5L794.7 1566.5L804.2 1566.5L812.1 1566.5L818 1566.5" stroke="#228b32"/><path d="M145.9 1560.4L147.3 1560L149.2 1559.5L151.5 1559L154.1 1558.3L156.9 1557.7L159.7 1557.1L162.6 1556.6L165.8 1556L169.1 1555.4L172.5 1554.8L176 1554.3L179.3 1553.8L182.7 1553.4L186.1 1553.1L189.5 1552.7L192.9 1552.4L196.1 1552.3L199 1552.2L201.5 1552.3L203.7 1552.4L205.7 1552.6L207.7 1552.9L209.8 1553.3L212.1 1553.8L214.6 1554.5L217.3 1555.3L220 1556.2L222.8 1557.1L225.7 1558L228.4 1558.8L231.1 1559.4L233.8 1560.1L236.4 1560.7L239.1 1561.2L241.9 1561.7L244.8 1562L247.9 1562.3L251 1562.5L254.2 1562.6L257.5 1562.7L261 1562.7L264.5 1562.7L268.1 1562.7L271.9 1562.6L275.7 1562.5L279.6 1562.4L283.5 1562.2L287.4 1562L291.2 1561.8L295.1 1561.5L299 1561.2L302.9 1560.9L306.7 1560.6L310.3 1560.4L313.8 1560.2L317.2 1560.2L320.5 1560.1L323.8 1560.1L326.9 1559.9L330 1559.7L332.8 1559.4L335.4 1559L337.9 1558.6L340.5 1558.1L343.3 1557.6L346.3 1557.1L350 1556.7L354.2 1556.2L358.6 1555.8L362.8 1555.3L366.4 1554.9L369.3 1554.5L370.9 1554.2L371.5 1553.9L371.7 1553.7L371.7 1553.5L372.2 1553.2L373.5 1552.8L375.8 1552.3L378.7 1551.7L382 1551.1L385.5 1550.4L389 1549.8L392.3 1549.1L395.4 1548.3L398.5 1547.6L401.6 1546.8L404.7 1546L407.8 1545.2L411 1544.4L414.1 1543.6L417.4 1542.8L420.7 1542L423.9 1541.3L426.9 1540.5L429.7 1539.7L432.3 1538.9L434.9 1538L437.3 1537.2L439.4 1536.4L441.3 1535.6L442.8 1535L443.6 1534.7L443.9 1534.6L443.9 1534.6L443.8 1534.5L444 1534.1L444.8 1533.3L446.3 1531.8L448.2 1530L450.4 1527.9L452.7 1525.6L455.1 1523.2L457.3 1520.8L459.3 1518.6L461.4 1516.2L463.5 1513.9L465.6 1511.4L467.6 1508.7L469.7 1505.9L471.8 1502.9L473.8 1499.7L475.9 1496.3L478 1492.9L480.1 1489.4L482.1 1486.1L484.2 1482.7L486.3 1479.4L488.3 1476.1L490.4 1472.8L492.5 1469.5L494.5 1466.2L496.6 1462.8L498.7 1459.4L500.8 1456L502.8 1452.7L504.9 1449.4L507 1446.3L509.1 1443.3L511.3 1440.3L513.5 1437.4L515.6 1434.7L517.6 1432.2L519.4 1430.2L520.9 1428.5L522.3 1427.2L523.5 1426.2L524.6 1425.4L525.7 1424.6L526.8 1423.9L528 1423.3L529 1422.7L530 1422.3L531 1421.9L532 1421.6L533.1 1421.5L534.1 1421.4L535.1 1421.4L536.1 1421.5L537.1 1421.7L538.2 1421.9L539.3 1422.2L540.4 1422.5L541.5 1422.7L542.6 1423L543.8 1423.5L545.2 1424.2L546.7 1425.2L548.5 1426.5L550.5 1428.2L552.6 1430L554.8 1432.1L557 1434.2L559.2 1436.4L561.3 1438.6L563.4 1441.1L565.5 1443.6L567.6 1446.2L569.6 1448.7L571.6 1451.3L573.3 1453.7L575 1456.1L576.5 1458.4L578.1 1460.8L579.7 1463.4L581.5 1466.2L583.4 1469.2L585.5 1472.4L587.6 1475.8L589.7 1479.3L591.8 1482.7L593.9 1486.1L596 1489.4L598.1 1492.8L600.2 1496.2L602.2 1499.5L604.3 1502.8L606.4 1505.9L608.4 1509L610.5 1512.1L612.6 1515L614.6 1517.9L616.7 1520.7L618.8 1523.3L620.9 1525.9L622.9 1528.3L625 1530.6L627.1 1532.9L629.1 1535L631.2 1537L633.3 1538.9L635.4 1540.7L637.4 1542.4L639.5 1543.9L641.6 1545.5L643.6 1546.9L645.7 1548.4L647.8 1549.7L649.8 1551L651.9 1552.2L654 1553.3L656.1 1554.4L658 1555.4L659.7 1556.2L661.5 1557L663.4 1557.8L665.7 1558.5L668.5 1559.4L671.9 1560.3L675.8 1561.2L680.1 1562.2L684.6 1563.1L689 1563.9L693.3 1564.6L697.5 1565.1L701.6 1565.5L705.8 1565.8L709.9 1566L714 1566.2L718.2 1566.3L722.1 1566.5L725.6 1566.5L729.2 1566.6L733.1 1566.6L737.6 1566.6L743 1566.6L749.8 1566.6L757.8 1566.6L766.3 1566.6L774.9 1566.5L783 1566.5L790 1566.5L796.1 1566.5L801.8 1566.5L806.9 1566.5L811.4 1566.5L815.2 1566.5L818 1566.5" stroke="#0000ff"/><path d="M145.9 1562L148.1 1561.7L151.1 1561.2L154.6 1560.6L158.5 1560L162.4 1559.3L166.2 1558.8L169.9 1558.2L173.6 1557.7L177.5 1557.2L181.4 1556.6L185.3 1556.1L189.1 1555.5L192.9 1554.8L196.6 1554.2L200.4 1553.5L204.2 1552.8L208 1552L212.1 1551.2L216.2 1550.3L220.5 1549.3L224.9 1548.3L229.4 1547.3L233.8 1546.4L238.3 1545.7L242.7 1545.1L247.1 1544.6L251.6 1544.3L256 1544L260.3 1543.7L264.5 1543.4L268.5 1543L272.6 1542.6L276.5 1542.3L280.3 1541.9L284 1541.6L287.4 1541.4L290.5 1541.2L293.3 1541L296 1540.9L298.5 1540.8L301.1 1540.8L303.8 1540.7L306.4 1540.8L309 1540.8L311.5 1540.9L314.2 1541L317 1541.2L320.1 1541.4L323.5 1541.8L327.2 1542.3L331 1542.9L334.9 1543.4L339 1543.8L343.1 1544L347.2 1544L351.5 1543.8L356 1543.5L360.4 1543.1L364.9 1542.7L369.3 1542.4L373.7 1542.1L378.4 1541.8L383 1541.6L387.5 1541.3L391.7 1541L395.5 1540.7L398.8 1540.5L401.7 1540.2L404.4 1539.9L406.9 1539.6L409.4 1539.4L411.8 1539.1L414.3 1538.9L416.7 1538.8L419.1 1538.7L421.4 1538.5L423.7 1538.2L425.9 1537.8L428.3 1537.2L430.6 1536.4L433 1535.6L435.2 1534.7L437.3 1533.8L439 1533.2L440.2 1532.7L440.8 1532.5L441.2 1532.3L441.8 1532.1L442.9 1531.6L444.8 1530.8L447.9 1529.7L451.7 1528.3L456.1 1526.8L460.7 1525L465.3 1523L469.7 1520.8L473.8 1518.4L478 1515.5L482.1 1512.5L486.3 1509.3L490.4 1506.3L494.5 1503.5L498.7 1500.8L502.8 1498.1L507 1495.5L511.1 1493.1L515.3 1490.7L519.4 1488.5L523.5 1486.6L527.7 1484.9L531.8 1483.3L536 1481.7L540.1 1480.2L544.2 1478.6L548.5 1476.9L553 1475L557.4 1473.2L561.7 1471.5L565.7 1469.9L569.1 1468.7L571.9 1467.7L574.2 1467L576.1 1466.6L577.8 1466.2L579.6 1465.9L581.5 1465.7L583.6 1465.5L585.7 1465.4L587.7 1465.4L589.8 1465.4L591.9 1465.5L593.9 1465.7L596 1465.8L598.1 1466L600.2 1466.2L602.2 1466.4L604.3 1466.9L606.4 1467.4L608.4 1468.2L610.5 1469L612.6 1470L614.6 1471.1L616.7 1472.3L618.8 1473.6L620.9 1475.1L622.9 1476.7L625 1478.5L627.1 1480.2L629.1 1481.9L631.2 1483.6L633.3 1485.1L635.4 1486.5L637.4 1487.8L639.5 1489.2L641.6 1490.7L643.6 1492.3L645.7 1494L647.8 1495.8L649.8 1497.6L651.9 1499.5L654 1501.5L656.1 1503.5L658.1 1505.4L660.2 1507.5L662.3 1509.5L664.3 1511.6L666.4 1513.7L668.5 1515.9L670.6 1518.1L672.6 1520.4L674.7 1522.8L676.8 1525.1L678.8 1527.4L680.9 1529.5L683 1531.6L685.1 1533.5L687.1 1535.4L689.2 1537.2L691.3 1539L693.3 1540.7L695.4 1542.5L697.5 1544.3L699.5 1546L701.6 1547.7L703.7 1549.2L705.8 1550.7L707.8 1551.9L709.9 1553.1L712 1554.2L714 1555.1L716.1 1556L718.2 1556.9L720.3 1557.6L722.3 1558.3L724.4 1558.9L726.5 1559.5L728.5 1560L730.6 1560.6L732.5 1561.2L734.3 1561.9L736 1562.6L738 1563.2L740.2 1563.8L743 1564.3L746.5 1564.8L750.4 1565.2L754.7 1565.5L759.1 1565.9L763.6 1566.1L767.9 1566.3L772 1566.5L776.2 1566.5L780.3 1566.6L784.4 1566.6L788.6 1566.6L792.7 1566.6L797.2 1566.6L801.9 1566.6L806.7 1566.6L811.1 1566.6L814.8 1566.6L817.6 1566.6L819.1 1566.6L819.5 1566.5L819.3 1566.5L818.8 1566.5L818.2 1566.5L818 1566.5" stroke="#000000"/></g><rect x="600" y="1030.5" width="180.5" height="229.5" fill="#fff" stroke="#000" stroke-width="2.4"/><line x1="613.3" y1="1055.5" x2="671.7" y2="1055.5" stroke="#ff0000" stroke-width="6" stroke-linecap="round"/><text transform="translate(682.5,1070.6)" font-size="48" font-style="normal" font-weight="bold" fill="#000" text-anchor="start">20</text><text transform="translate(731,1070.6)" font-size="48" font-style="italic" font-weight="bold" fill="#000" text-anchor="start">T</text><text transform="translate(753,1077.7)" font-size="25" font-style="normal" font-weight="bold" fill="#000" text-anchor="start">0</text><line x1="613.3" y1="1114" x2="671.7" y2="1114" stroke="#228b32" stroke-width="6" stroke-linecap="round"/><text transform="translate(682.5,1129.1)" font-size="48" font-style="normal" font-weight="bold" fill="#000" text-anchor="start">30</text><text transform="translate(731,1129.1)" font-size="48" font-style="italic" font-weight="bold" fill="#000" text-anchor="start">T</text><text transform="translate(753,1136.2)" font-size="25" font-style="normal" font-weight="bold" fill="#000" text-anchor="start">0</text><line x1="613.3" y1="1171.4" x2="671.7" y2="1171.4" stroke="#0000ff" stroke-width="6" stroke-linecap="round"/><text transform="translate(682.5,1186.5)" font-size="48" font-style="normal" font-weight="bold" fill="#000" text-anchor="start">40</text><text transform="translate(731,1186.5)" font-size="48" font-style="italic" font-weight="bold" fill="#000" text-anchor="start">T</text><text transform="translate(753,1193.6)" font-size="25" font-style="normal" font-weight="bold" fill="#000" text-anchor="start">0</text><line x1="613.3" y1="1230.5" x2="671.7" y2="1230.5" stroke="#000000" stroke-width="6" stroke-linecap="round"/><text transform="translate(682.5,1245.6)" font-size="48" font-style="normal" font-weight="bold" fill="#000" text-anchor="start">60</text><text transform="translate(731,1245.6)" font-size="48" font-style="italic" font-weight="bold" fill="#000" text-anchor="start">T</text><text transform="translate(753,1252.7)" font-size="25" font-style="normal" font-weight="bold" fill="#000" text-anchor="start">0</text><text transform="translate(103.6,1019)" font-size="54" font-style="normal" font-weight="bold" fill="#000" text-anchor="middle">1.8</text><text transform="translate(102.8,1203.6)" font-size="54" font-style="normal" font-weight="bold" fill="#000" text-anchor="middle">1.2</text><text transform="translate(102.8,1391.5)" font-size="54" font-style="normal" font-weight="bold" fill="#000" text-anchor="middle">0.6</text><text transform="translate(102.5,1574.5)" font-size="54" font-style="normal" font-weight="bold" fill="#000" text-anchor="middle">0</text><text transform="translate(161.2,1626.7)" font-size="55" font-style="normal" font-weight="bold" fill="#000" text-anchor="middle">100</text><text transform="translate(480.5,1626.7)" font-size="55" font-style="normal" font-weight="bold" fill="#000" text-anchor="middle">300</text><text transform="translate(803,1626.7)" font-size="55" font-style="normal" font-weight="bold" fill="#000" text-anchor="middle">500</text><text transform="translate(225,1088.5)" font-size="64" font-style="normal" font-weight="bold" fill="#000" text-anchor="middle">(b)</text><text transform="translate(378,1694) scale(1.05,1)" font-size="82" font-style="italic" font-weight="bold" fill="#000" text-anchor="start">ε</text><text transform="translate(416.5,1705) scale(1.15,1)" font-size="33" font-style="normal" font-weight="bold" fill="#000" text-anchor="start">k</text><text transform="translate(444,1694)" font-size="64" font-style="normal" font-weight="bold" fill="#000" text-anchor="start">/MeV</text><text transform="translate(52.4,1437.5) rotate(-90)" font-size="65" font-style="italic" font-weight="bold" fill="#000" text-anchor="start">d</text><text transform="translate(52.4,1403.7) rotate(-90) scale(1.08,1)" font-size="65" font-style="normal" font-weight="normal" fill="#000" text-anchor="start">N</text><text transform="translate(52.4,1352.7) rotate(-90)" font-size="65" font-style="normal" font-weight="normal" fill="#000" text-anchor="start">/</text><text transform="translate(52.4,1337.7) rotate(-90)" font-size="65" font-style="italic" font-weight="bold" fill="#000" text-anchor="start">d</text><text transform="translate(52.4,1305.7) rotate(-90) scale(1.15,1)" font-size="79" font-style="italic" font-weight="bold" fill="#000" text-anchor="start">ε</text><text transform="translate(52.4,1256.7) rotate(-90)" font-size="65" font-style="normal" font-weight="bold" fill="#000" text-anchor="start">/10</text><text transform="translate(25.4,1169.7) rotate(-90)" font-size="38" font-style="normal" font-weight="bold" fill="#000" text-anchor="start">7</text><circle cx="1250.0" cy="1309.5" r="288.0" fill="#0000ff"/><circle cx="1250.0" cy="1311.0" r="150" fill="url(#rj)" transform="matrix(0.96,0,0,0.96,50.0,52.4)" clip-path="url(#cdisk)"/><g clip-path="url(#cdisk)" fill="url(#rj)"><path d="M1250 1311L1425.0 1310.0L1424.9 1315.7Z" transform="matrix(0.965,0,0,0.965,43.7,45.8)"/><path d="M1250 1311L1425.0 1313.6L1424.8 1319.4Z" transform="matrix(0.882,0,0,0.882,147.1,154.3)"/><path d="M1250 1311L1424.9 1317.3L1424.6 1323.0Z" transform="matrix(1.012,0,0,1.012,-15.0,-15.7)"/><path d="M1250 1311L1424.7 1320.9L1424.3 1326.7Z" transform="matrix(0.977,0,0,0.977,28.9,30.3)"/><path d="M1250 1311L1424.5 1324.6L1423.9 1330.3Z" transform="matrix(1.021,0,0,1.021,-26.8,-28.1)"/><path d="M1250 1311L1424.1 1328.2L1423.5 1334.0Z" transform="matrix(0.949,0,0,0.949,63.1,66.2)"/><path d="M1250 1311L1423.7 1331.9L1423.0 1337.6Z" transform="matrix(0.985,0,0,0.985,19.0,19.9)"/><path d="M1250 1311L1423.3 1335.5L1422.4 1341.2Z" transform="matrix(0.959,0,0,0.959,51.5,54.0)"/><path d="M1250 1311L1422.7 1339.1L1421.7 1344.8Z" transform="matrix(0.942,0,0,0.942,72.5,76.0)"/><path d="M1250 1311L1422.1 1342.8L1421.0 1348.4Z" transform="matrix(0.977,0,0,0.977,28.4,29.8)"/><path d="M1250 1311L1421.4 1346.4L1420.1 1352.0Z" transform="matrix(0.924,0,0,0.924,95.3,99.9)"/><path d="M1250 1311L1420.6 1349.9L1419.2 1355.5Z" transform="matrix(0.960,0,0,0.960,49.8,52.2)"/><path d="M1250 1311L1419.8 1353.5L1418.3 1359.1Z" transform="matrix(1.003,0,0,1.003,-3.2,-3.3)"/><path d="M1250 1311L1418.8 1357.0L1417.2 1362.6Z" transform="matrix(0.979,0,0,0.979,26.0,27.3)"/><path d="M1250 1311L1417.8 1360.6L1416.1 1366.1Z" transform="matrix(0.963,0,0,0.963,46.9,49.1)"/><path d="M1250 1311L1416.8 1364.1L1414.9 1369.5Z" transform="matrix(1.066,0,0,1.066,-82.7,-86.8)"/><path d="M1250 1311L1415.6 1367.6L1413.7 1373.0Z" transform="matrix(0.984,0,0,0.984,19.5,20.4)"/><path d="M1250 1311L1414.4 1371.0L1412.3 1376.4Z" transform="matrix(0.961,0,0,0.961,48.8,51.2)"/><path d="M1250 1311L1413.1 1374.4L1410.9 1379.8Z" transform="matrix(0.992,0,0,0.992,9.7,10.2)"/><path d="M1250 1311L1411.7 1377.8L1409.4 1383.1Z" transform="matrix(0.967,0,0,0.967,40.9,42.9)"/><path d="M1250 1311L1410.3 1381.2L1407.9 1386.5Z" transform="matrix(0.975,0,0,0.975,31.7,33.3)"/><path d="M1250 1311L1408.8 1384.6L1406.3 1389.8Z" transform="matrix(0.978,0,0,0.978,27.6,29.0)"/><path d="M1250 1311L1407.2 1387.9L1404.6 1393.0Z" transform="matrix(1.074,0,0,1.074,-92.8,-97.3)"/><path d="M1250 1311L1405.6 1391.1L1402.8 1396.2Z" transform="matrix(0.996,0,0,0.996,4.4,4.6)"/><path d="M1250 1311L1403.9 1394.4L1401.0 1399.4Z" transform="matrix(1.004,0,0,1.004,-5.5,-5.8)"/><path d="M1250 1311L1402.1 1397.6L1399.1 1402.6Z" transform="matrix(1.026,0,0,1.026,-32.6,-34.2)"/><path d="M1250 1311L1400.2 1400.8L1397.2 1405.7Z" transform="matrix(1.081,0,0,1.081,-101.9,-106.8)"/><path d="M1250 1311L1398.3 1403.9L1395.2 1408.7Z" transform="matrix(0.993,0,0,0.993,8.3,8.7)"/><path d="M1250 1311L1396.3 1407.0L1393.1 1411.7Z" transform="matrix(0.979,0,0,0.979,26.6,27.9)"/><path d="M1250 1311L1394.3 1410.0L1391.0 1414.7Z" transform="matrix(1.105,0,0,1.105,-130.7,-137.1)"/><path d="M1250 1311L1392.2 1413.0L1388.8 1417.6Z" transform="matrix(0.947,0,0,0.947,65.6,68.8)"/><path d="M1250 1311L1390.0 1416.0L1386.5 1420.5Z" transform="matrix(0.993,0,0,0.993,9.4,9.8)"/><path d="M1250 1311L1387.8 1418.9L1384.2 1423.4Z" transform="matrix(1.035,0,0,1.035,-43.9,-46.1)"/><path d="M1250 1311L1385.5 1421.7L1381.8 1426.1Z" transform="matrix(1.101,0,0,1.101,-126.5,-132.7)"/><path d="M1250 1311L1383.2 1424.6L1379.3 1428.9Z" transform="matrix(0.971,0,0,0.971,35.8,37.6)"/><path d="M1250 1311L1380.8 1427.3L1376.8 1431.6Z" transform="matrix(0.912,0,0,0.912,109.9,115.2)"/><path d="M1250 1311L1378.3 1430.0L1374.3 1434.2Z" transform="matrix(1.037,0,0,1.037,-46.7,-49.0)"/><path d="M1250 1311L1375.8 1432.7L1371.7 1436.8Z" transform="matrix(0.990,0,0,0.990,12.8,13.4)"/><path d="M1250 1311L1373.2 1435.3L1369.0 1439.3Z" transform="matrix(0.995,0,0,0.995,5.8,6.1)"/><path d="M1250 1311L1370.6 1437.8L1366.3 1441.8Z" transform="matrix(1.030,0,0,1.030,-37.1,-38.9)"/><path d="M1250 1311L1367.9 1440.3L1363.6 1444.2Z" transform="matrix(1.020,0,0,1.020,-25.0,-26.3)"/><path d="M1250 1311L1365.1 1442.8L1360.7 1446.5Z" transform="matrix(1.023,0,0,1.023,-28.2,-29.6)"/><path d="M1250 1311L1362.4 1445.2L1357.9 1448.8Z" transform="matrix(0.993,0,0,0.993,8.6,9.0)"/><path d="M1250 1311L1359.5 1447.5L1355.0 1451.0Z" transform="matrix(1.062,0,0,1.062,-77.9,-81.7)"/><path d="M1250 1311L1356.6 1449.8L1352.0 1453.2Z" transform="matrix(1.071,0,0,1.071,-88.3,-92.6)"/><path d="M1250 1311L1353.7 1452.0L1349.0 1455.3Z" transform="matrix(1.011,0,0,1.011,-13.4,-14.0)"/><path d="M1250 1311L1350.7 1454.1L1346.0 1457.3Z" transform="matrix(0.991,0,0,0.991,11.7,12.2)"/><path d="M1250 1311L1347.7 1456.2L1342.9 1459.3Z" transform="matrix(1.038,0,0,1.038,-47.5,-49.8)"/><path d="M1250 1311L1344.7 1458.2L1339.8 1461.2Z" transform="matrix(1.027,0,0,1.027,-34.0,-35.6)"/><path d="M1250 1311L1341.6 1460.1L1336.6 1463.1Z" transform="matrix(0.965,0,0,0.965,43.2,45.3)"/><path d="M1250 1311L1338.4 1462.0L1333.4 1464.9Z" transform="matrix(0.988,0,0,0.988,14.6,15.3)"/><path d="M1250 1311L1335.2 1463.8L1330.1 1466.6Z" transform="matrix(1.049,0,0,1.049,-60.8,-63.8)"/><path d="M1250 1311L1332.0 1465.6L1326.9 1468.2Z" transform="matrix(1.002,0,0,1.002,-2.6,-2.8)"/><path d="M1250 1311L1328.8 1467.3L1323.6 1469.8Z" transform="matrix(0.992,0,0,0.992,9.5,10.0)"/><path d="M1250 1311L1325.5 1468.9L1320.2 1471.3Z" transform="matrix(1.014,0,0,1.014,-17.2,-18.1)"/><path d="M1250 1311L1322.1 1470.4L1316.8 1472.7Z" transform="matrix(1.004,0,0,1.004,-4.5,-4.8)"/><path d="M1250 1311L1318.8 1471.9L1313.4 1474.1Z" transform="matrix(1.005,0,0,1.005,-5.9,-6.1)"/><path d="M1250 1311L1315.4 1473.3L1310.0 1475.4Z" transform="matrix(0.927,0,0,0.927,91.1,95.6)"/><path d="M1250 1311L1312.0 1474.7L1306.6 1476.6Z" transform="matrix(1.075,0,0,1.075,-93.7,-98.2)"/><path d="M1250 1311L1308.5 1475.9L1303.1 1477.8Z" transform="matrix(1.013,0,0,1.013,-15.9,-16.6)"/><path d="M1250 1311L1305.1 1477.1L1299.6 1478.8Z" transform="matrix(0.970,0,0,0.970,38.0,39.9)"/><path d="M1250 1311L1301.6 1478.2L1296.0 1479.8Z" transform="matrix(1.044,0,0,1.044,-55.5,-58.2)"/><path d="M1250 1311L1298.1 1479.3L1292.5 1480.8Z" transform="matrix(1.018,0,0,1.018,-22.2,-23.3)"/><path d="M1250 1311L1294.5 1480.2L1288.9 1481.6Z" transform="matrix(1.006,0,0,1.006,-8.0,-8.4)"/><path d="M1250 1311L1291.0 1481.1L1285.4 1482.4Z" transform="matrix(1.048,0,0,1.048,-60.4,-63.4)"/><path d="M1250 1311L1287.4 1482.0L1281.8 1483.1Z" transform="matrix(1.098,0,0,1.098,-122.2,-128.2)"/><path d="M1250 1311L1283.8 1482.7L1278.1 1483.7Z" transform="matrix(1.030,0,0,1.030,-37.0,-38.8)"/><path d="M1250 1311L1280.2 1483.4L1274.5 1484.3Z" transform="matrix(1.072,0,0,1.072,-89.8,-94.2)"/><path d="M1250 1311L1276.6 1484.0L1270.9 1484.7Z" transform="matrix(1.096,0,0,1.096,-119.6,-125.5)"/><path d="M1250 1311L1273.0 1484.5L1267.2 1485.1Z" transform="matrix(0.968,0,0,0.968,39.8,41.7)"/><path d="M1250 1311L1269.3 1484.9L1263.6 1485.5Z" transform="matrix(0.989,0,0,0.989,13.7,14.4)"/><path d="M1250 1311L1265.7 1485.3L1259.9 1485.7Z" transform="matrix(1.042,0,0,1.042,-52.9,-55.5)"/><path d="M1250 1311L1262.0 1485.6L1256.3 1485.9Z" transform="matrix(0.943,0,0,0.943,71.8,75.3)"/><path d="M1250 1311L1258.4 1485.8L1252.6 1486.0Z" transform="matrix(1.002,0,0,1.002,-2.1,-2.2)"/><path d="M1250 1311L1254.7 1485.9L1249.0 1486.0Z" transform="matrix(1.066,0,0,1.066,-82.0,-86.0)"/><path d="M1250 1311L1251.0 1486.0L1245.3 1485.9Z" transform="matrix(1.056,0,0,1.056,-70.5,-73.9)"/><path d="M1250 1311L1247.4 1486.0L1241.6 1485.8Z" transform="matrix(1.039,0,0,1.039,-48.2,-50.5)"/><path d="M1250 1311L1243.7 1485.9L1238.0 1485.6Z" transform="matrix(0.939,0,0,0.939,76.4,80.1)"/><path d="M1250 1311L1240.1 1485.7L1234.3 1485.3Z" transform="matrix(1.112,0,0,1.112,-140.4,-147.2)"/><path d="M1250 1311L1236.4 1485.5L1230.7 1484.9Z" transform="matrix(1.040,0,0,1.040,-49.8,-52.2)"/><path d="M1250 1311L1232.8 1485.1L1227.0 1484.5Z" transform="matrix(1.049,0,0,1.049,-61.6,-64.6)"/><path d="M1250 1311L1229.1 1484.7L1223.4 1484.0Z" transform="matrix(1.039,0,0,1.039,-48.3,-50.7)"/><path d="M1250 1311L1225.5 1484.3L1219.8 1483.4Z" transform="matrix(0.949,0,0,0.949,63.9,67.0)"/><path d="M1250 1311L1221.9 1483.7L1216.2 1482.7Z" transform="matrix(0.961,0,0,0.961,49.3,51.7)"/><path d="M1250 1311L1218.2 1483.1L1212.6 1482.0Z" transform="matrix(0.970,0,0,0.970,38.0,39.9)"/><path d="M1250 1311L1214.6 1482.4L1209.0 1481.1Z" transform="matrix(1.097,0,0,1.097,-121.6,-127.5)"/><path d="M1250 1311L1211.1 1481.6L1205.5 1480.2Z" transform="matrix(0.985,0,0,0.985,18.8,19.7)"/><path d="M1250 1311L1207.5 1480.8L1201.9 1479.3Z" transform="matrix(1.009,0,0,1.009,-10.8,-11.3)"/><path d="M1250 1311L1204.0 1479.8L1198.4 1478.2Z" transform="matrix(1.008,0,0,1.008,-9.4,-9.9)"/><path d="M1250 1311L1200.4 1478.8L1194.9 1477.1Z" transform="matrix(1.040,0,0,1.040,-50.6,-53.0)"/><path d="M1250 1311L1196.9 1477.8L1191.5 1475.9Z" transform="matrix(1.037,0,0,1.037,-45.9,-48.1)"/><path d="M1250 1311L1193.4 1476.6L1188.0 1474.7Z" transform="matrix(1.026,0,0,1.026,-32.8,-34.4)"/><path d="M1250 1311L1190.0 1475.4L1184.6 1473.3Z" transform="matrix(0.963,0,0,0.963,46.3,48.5)"/><path d="M1250 1311L1186.6 1474.1L1181.2 1471.9Z" transform="matrix(0.886,0,0,0.886,142.9,149.9)"/><path d="M1250 1311L1183.2 1472.7L1177.9 1470.4Z" transform="matrix(1.018,0,0,1.018,-22.7,-23.8)"/><path d="M1250 1311L1179.8 1471.3L1174.5 1468.9Z" transform="matrix(1.021,0,0,1.021,-25.8,-27.1)"/><path d="M1250 1311L1176.4 1469.8L1171.2 1467.3Z" transform="matrix(1.058,0,0,1.058,-72.3,-75.8)"/><path d="M1250 1311L1173.1 1468.2L1168.0 1465.6Z" transform="matrix(1.002,0,0,1.002,-2.8,-3.0)"/><path d="M1250 1311L1169.9 1466.6L1164.8 1463.8Z" transform="matrix(0.980,0,0,0.980,25.0,26.2)"/><path d="M1250 1311L1166.6 1464.9L1161.6 1462.0Z" transform="matrix(1.019,0,0,1.019,-23.9,-25.0)"/><path d="M1250 1311L1163.4 1463.1L1158.4 1460.1Z" transform="matrix(0.938,0,0,0.938,76.9,80.7)"/><path d="M1250 1311L1160.2 1461.2L1155.3 1458.2Z" transform="matrix(0.957,0,0,0.957,53.7,56.3)"/><path d="M1250 1311L1157.1 1459.3L1152.3 1456.2Z" transform="matrix(0.957,0,0,0.957,54.3,57.0)"/><path d="M1250 1311L1154.0 1457.3L1149.3 1454.1Z" transform="matrix(1.006,0,0,1.006,-7.7,-8.0)"/><path d="M1250 1311L1151.0 1455.3L1146.3 1452.0Z" transform="matrix(1.076,0,0,1.076,-94.7,-99.3)"/><path d="M1250 1311L1148.0 1453.2L1143.4 1449.8Z" transform="matrix(1.021,0,0,1.021,-26.3,-27.6)"/><path d="M1250 1311L1145.0 1451.0L1140.5 1447.5Z" transform="matrix(1.034,0,0,1.034,-42.6,-44.7)"/><path d="M1250 1311L1142.1 1448.8L1137.6 1445.2Z" transform="matrix(0.997,0,0,0.997,4.3,4.5)"/><path d="M1250 1311L1139.3 1446.5L1134.9 1442.8Z" transform="matrix(0.996,0,0,0.996,4.4,4.6)"/><path d="M1250 1311L1136.4 1444.2L1132.1 1440.3Z" transform="matrix(0.966,0,0,0.966,42.2,44.2)"/><path d="M1250 1311L1133.7 1441.8L1129.4 1437.8Z" transform="matrix(0.972,0,0,0.972,35.6,37.4)"/><path d="M1250 1311L1131.0 1439.3L1126.8 1435.3Z" transform="matrix(0.886,0,0,0.886,142.6,149.5)"/><path d="M1250 1311L1128.3 1436.8L1124.2 1432.7Z" transform="matrix(0.933,0,0,0.933,83.6,87.7)"/><path d="M1250 1311L1125.7 1434.2L1121.7 1430.0Z" transform="matrix(0.929,0,0,0.929,88.8,93.2)"/><path d="M1250 1311L1123.2 1431.6L1119.2 1427.3Z" transform="matrix(1.011,0,0,1.011,-14.3,-15.0)"/><path d="M1250 1311L1120.7 1428.9L1116.8 1424.6Z" transform="matrix(1.004,0,0,1.004,-5.2,-5.4)"/><path d="M1250 1311L1118.2 1426.1L1114.5 1421.7Z" transform="matrix(1.023,0,0,1.023,-28.3,-29.6)"/><path d="M1250 1311L1115.8 1423.4L1112.2 1418.9Z" transform="matrix(1.039,0,0,1.039,-48.5,-50.8)"/><path d="M1250 1311L1113.5 1420.5L1110.0 1416.0Z" transform="matrix(0.966,0,0,0.966,42.3,44.4)"/><path d="M1250 1311L1111.2 1417.6L1107.8 1413.0Z" transform="matrix(1.020,0,0,1.020,-24.8,-26.0)"/><path d="M1250 1311L1109.0 1414.7L1105.7 1410.0Z" transform="matrix(1.056,0,0,1.056,-69.7,-73.1)"/><path d="M1250 1311L1106.9 1411.7L1103.7 1407.0Z" transform="matrix(0.980,0,0,0.980,25.3,26.6)"/><path d="M1250 1311L1104.8 1408.7L1101.7 1403.9Z" transform="matrix(1.024,0,0,1.024,-29.8,-31.3)"/><path d="M1250 1311L1102.8 1405.7L1099.8 1400.8Z" transform="matrix(0.976,0,0,0.976,29.9,31.4)"/><path d="M1250 1311L1100.9 1402.6L1097.9 1397.6Z" transform="matrix(0.921,0,0,0.921,99.2,104.1)"/><path d="M1250 1311L1099.0 1399.4L1096.1 1394.4Z" transform="matrix(0.991,0,0,0.991,11.8,12.3)"/><path d="M1250 1311L1097.2 1396.2L1094.4 1391.1Z" transform="matrix(0.955,0,0,0.955,55.8,58.6)"/><path d="M1250 1311L1095.4 1393.0L1092.8 1387.9Z" transform="matrix(0.994,0,0,0.994,7.2,7.5)"/><path d="M1250 1311L1093.7 1389.8L1091.2 1384.6Z" transform="matrix(0.974,0,0,0.974,32.7,34.3)"/><path d="M1250 1311L1092.1 1386.5L1089.7 1381.2Z" transform="matrix(1.007,0,0,1.007,-9.3,-9.8)"/><path d="M1250 1311L1090.6 1383.1L1088.3 1377.8Z" transform="matrix(0.912,0,0,0.912,109.9,115.3)"/><path d="M1250 1311L1089.1 1379.8L1086.9 1374.4Z" transform="matrix(1.083,0,0,1.083,-104.2,-109.3)"/><path d="M1250 1311L1087.7 1376.4L1085.6 1371.0Z" transform="matrix(1.057,0,0,1.057,-71.7,-75.2)"/><path d="M1250 1311L1086.3 1373.0L1084.4 1367.6Z" transform="matrix(0.992,0,0,0.992,10.6,11.1)"/><path d="M1250 1311L1085.1 1369.5L1083.2 1364.1Z" transform="matrix(0.972,0,0,0.972,35.1,36.8)"/><path d="M1250 1311L1083.9 1366.1L1082.2 1360.6Z" transform="matrix(1.012,0,0,1.012,-14.6,-15.3)"/><path d="M1250 1311L1082.8 1362.6L1081.2 1357.0Z" transform="matrix(1.042,0,0,1.042,-52.3,-54.9)"/><path d="M1250 1311L1081.7 1359.1L1080.2 1353.5Z" transform="matrix(1.035,0,0,1.035,-43.3,-45.4)"/><path d="M1250 1311L1080.8 1355.5L1079.4 1349.9Z" transform="matrix(1.037,0,0,1.037,-45.9,-48.1)"/><path d="M1250 1311L1079.9 1352.0L1078.6 1346.4Z" transform="matrix(0.943,0,0,0.943,71.9,75.4)"/><path d="M1250 1311L1079.0 1348.4L1077.9 1342.8Z" transform="matrix(0.979,0,0,0.979,25.7,26.9)"/><path d="M1250 1311L1078.3 1344.8L1077.3 1339.1Z" transform="matrix(1.084,0,0,1.084,-104.7,-109.8)"/><path d="M1250 1311L1077.6 1341.2L1076.7 1335.5Z" transform="matrix(1.041,0,0,1.041,-51.2,-53.6)"/><path d="M1250 1311L1077.0 1337.6L1076.3 1331.9Z" transform="matrix(0.971,0,0,0.971,36.9,38.7)"/><path d="M1250 1311L1076.5 1334.0L1075.9 1328.2Z" transform="matrix(1.000,0,0,1.000,0.4,0.5)"/><path d="M1250 1311L1076.1 1330.3L1075.5 1324.6Z" transform="matrix(0.978,0,0,0.978,28.0,29.4)"/><path d="M1250 1311L1075.7 1326.7L1075.3 1320.9Z" transform="matrix(0.997,0,0,0.997,3.7,3.8)"/><path d="M1250 1311L1075.4 1323.0L1075.1 1317.3Z" transform="matrix(1.090,0,0,1.090,-113.0,-118.5)"/><path d="M1250 1311L1075.2 1319.4L1075.0 1313.6Z" transform="matrix(1.033,0,0,1.033,-41.7,-43.7)"/><path d="M1250 1311L1075.1 1315.7L1075.0 1310.0Z" transform="matrix(1.091,0,0,1.091,-113.9,-119.4)"/><path d="M1250 1311L1075.0 1312.0L1075.1 1306.3Z" transform="matrix(1.052,0,0,1.052,-65.1,-68.3)"/><path d="M1250 1311L1075.0 1308.4L1075.2 1302.6Z" transform="matrix(0.980,0,0,0.980,24.8,26.0)"/><path d="M1250 1311L1075.1 1304.7L1075.4 1299.0Z" transform="matrix(1.016,0,0,1.016,-19.4,-20.3)"/><path d="M1250 1311L1075.3 1301.1L1075.7 1295.3Z" transform="matrix(1.120,0,0,1.120,-150.0,-157.3)"/><path d="M1250 1311L1075.5 1297.4L1076.1 1291.7Z" transform="matrix(1.008,0,0,1.008,-10.4,-10.9)"/><path d="M1250 1311L1075.9 1293.8L1076.5 1288.0Z" transform="matrix(0.995,0,0,0.995,6.3,6.6)"/><path d="M1250 1311L1076.3 1290.1L1077.0 1284.4Z" transform="matrix(1.090,0,0,1.090,-112.0,-117.5)"/><path d="M1250 1311L1076.7 1286.5L1077.6 1280.8Z" transform="matrix(1.039,0,0,1.039,-49.3,-51.7)"/><path d="M1250 1311L1077.3 1282.9L1078.3 1277.2Z" transform="matrix(1.033,0,0,1.033,-41.7,-43.7)"/><path d="M1250 1311L1077.9 1279.2L1079.0 1273.6Z" transform="matrix(1.093,0,0,1.093,-116.1,-121.8)"/><path d="M1250 1311L1078.6 1275.6L1079.9 1270.0Z" transform="matrix(0.955,0,0,0.955,56.1,58.8)"/><path d="M1250 1311L1079.4 1272.1L1080.8 1266.5Z" transform="matrix(1.044,0,0,1.044,-54.7,-57.3)"/><path d="M1250 1311L1080.2 1268.5L1081.7 1262.9Z" transform="matrix(0.980,0,0,0.980,25.5,26.8)"/><path d="M1250 1311L1081.2 1265.0L1082.8 1259.4Z" transform="matrix(0.962,0,0,0.962,47.1,49.4)"/><path d="M1250 1311L1082.2 1261.4L1083.9 1255.9Z" transform="matrix(0.984,0,0,0.984,20.0,21.0)"/><path d="M1250 1311L1083.2 1257.9L1085.1 1252.5Z" transform="matrix(1.062,0,0,1.062,-77.9,-81.7)"/><path d="M1250 1311L1084.4 1254.4L1086.3 1249.0Z" transform="matrix(1.006,0,0,1.006,-7.2,-7.5)"/><path d="M1250 1311L1085.6 1251.0L1087.7 1245.6Z" transform="matrix(0.933,0,0,0.933,83.9,88.0)"/><path d="M1250 1311L1086.9 1247.6L1089.1 1242.2Z" transform="matrix(0.960,0,0,0.960,50.4,52.9)"/><path d="M1250 1311L1088.3 1244.2L1090.6 1238.9Z" transform="matrix(1.064,0,0,1.064,-80.3,-84.3)"/><path d="M1250 1311L1089.7 1240.8L1092.1 1235.5Z" transform="matrix(1.040,0,0,1.040,-50.5,-53.0)"/><path d="M1250 1311L1091.2 1237.4L1093.7 1232.2Z" transform="matrix(0.951,0,0,0.951,61.1,64.1)"/><path d="M1250 1311L1092.8 1234.1L1095.4 1229.0Z" transform="matrix(1.091,0,0,1.091,-113.3,-118.8)"/><path d="M1250 1311L1094.4 1230.9L1097.2 1225.8Z" transform="matrix(0.974,0,0,0.974,32.0,33.5)"/><path d="M1250 1311L1096.1 1227.6L1099.0 1222.6Z" transform="matrix(0.938,0,0,0.938,77.4,81.2)"/><path d="M1250 1311L1097.9 1224.4L1100.9 1219.4Z" transform="matrix(0.978,0,0,0.978,27.8,29.2)"/><path d="M1250 1311L1099.8 1221.2L1102.8 1216.3Z" transform="matrix(1.018,0,0,1.018,-22.4,-23.5)"/><path d="M1250 1311L1101.7 1218.1L1104.8 1213.3Z" transform="matrix(1.042,0,0,1.042,-52.5,-55.1)"/><path d="M1250 1311L1103.7 1215.0L1106.9 1210.3Z" transform="matrix(1.016,0,0,1.016,-20.1,-21.0)"/><path d="M1250 1311L1105.7 1212.0L1109.0 1207.3Z" transform="matrix(0.956,0,0,0.956,55.6,58.3)"/><path d="M1250 1311L1107.8 1209.0L1111.2 1204.4Z" transform="matrix(0.948,0,0,0.948,65.1,68.3)"/><path d="M1250 1311L1110.0 1206.0L1113.5 1201.5Z" transform="matrix(0.910,0,0,0.910,112.1,117.6)"/><path d="M1250 1311L1112.2 1203.1L1115.8 1198.6Z" transform="matrix(0.963,0,0,0.963,46.3,48.6)"/><path d="M1250 1311L1114.5 1200.3L1118.2 1195.9Z" transform="matrix(0.940,0,0,0.940,74.4,78.1)"/><path d="M1250 1311L1116.8 1197.4L1120.7 1193.1Z" transform="matrix(0.972,0,0,0.972,35.3,37.0)"/><path d="M1250 1311L1119.2 1194.7L1123.2 1190.4Z" transform="matrix(0.911,0,0,0.911,111.5,117.0)"/><path d="M1250 1311L1121.7 1192.0L1125.7 1187.8Z" transform="matrix(0.939,0,0,0.939,76.6,80.3)"/><path d="M1250 1311L1124.2 1189.3L1128.3 1185.2Z" transform="matrix(0.923,0,0,0.923,96.1,100.8)"/><path d="M1250 1311L1126.8 1186.7L1131.0 1182.7Z" transform="matrix(0.909,0,0,0.909,113.3,118.8)"/><path d="M1250 1311L1129.4 1184.2L1133.7 1180.2Z" transform="matrix(0.909,0,0,0.909,113.7,119.3)"/><path d="M1250 1311L1132.1 1181.7L1136.4 1177.8Z" transform="matrix(0.915,0,0,0.915,106.8,112.0)"/><path d="M1250 1311L1134.9 1179.2L1139.3 1175.5Z" transform="matrix(0.907,0,0,0.907,115.9,121.5)"/><path d="M1250 1311L1137.6 1176.8L1142.1 1173.2Z" transform="matrix(0.975,0,0,0.975,31.5,33.0)"/><path d="M1250 1311L1140.5 1174.5L1145.0 1171.0Z" transform="matrix(0.956,0,0,0.956,55.2,57.9)"/><path d="M1250 1311L1143.4 1172.2L1148.0 1168.8Z" transform="matrix(0.900,0,0,0.900,125.1,131.2)"/><path d="M1250 1311L1146.3 1170.0L1151.0 1166.7Z" transform="matrix(0.971,0,0,0.971,36.6,38.4)"/><path d="M1250 1311L1149.3 1167.9L1154.0 1164.7Z" transform="matrix(0.961,0,0,0.961,48.2,50.5)"/><path d="M1250 1311L1152.3 1165.8L1157.1 1162.7Z" transform="matrix(1.007,0,0,1.007,-8.2,-8.6)"/><path d="M1250 1311L1155.3 1163.8L1160.2 1160.8Z" transform="matrix(0.942,0,0,0.942,72.8,76.3)"/><path d="M1250 1311L1158.4 1161.9L1163.4 1158.9Z" transform="matrix(0.941,0,0,0.941,74.0,77.6)"/><path d="M1250 1311L1161.6 1160.0L1166.6 1157.1Z" transform="matrix(0.922,0,0,0.922,97.8,102.6)"/><path d="M1250 1311L1164.8 1158.2L1169.9 1155.4Z" transform="matrix(0.953,0,0,0.953,58.9,61.7)"/><path d="M1250 1311L1168.0 1156.4L1173.1 1153.8Z" transform="matrix(0.967,0,0,0.967,41.5,43.5)"/><path d="M1250 1311L1171.2 1154.7L1176.4 1152.2Z" transform="matrix(0.954,0,0,0.954,57.6,60.4)"/><path d="M1250 1311L1174.5 1153.1L1179.8 1150.7Z" transform="matrix(0.937,0,0,0.937,78.9,82.8)"/><path d="M1250 1311L1177.9 1151.6L1183.2 1149.3Z" transform="matrix(0.968,0,0,0.968,40.0,42.0)"/><path d="M1250 1311L1181.2 1150.1L1186.6 1147.9Z" transform="matrix(0.949,0,0,0.949,63.6,66.7)"/><path d="M1250 1311L1184.6 1148.7L1190.0 1146.6Z" transform="matrix(0.954,0,0,0.954,56.9,59.7)"/><path d="M1250 1311L1188.0 1147.3L1193.4 1145.4Z" transform="matrix(0.908,0,0,0.908,114.8,120.4)"/><path d="M1250 1311L1191.5 1146.1L1196.9 1144.2Z" transform="matrix(0.951,0,0,0.951,60.7,63.6)"/><path d="M1250 1311L1194.9 1144.9L1200.4 1143.2Z" transform="matrix(0.904,0,0,0.904,119.7,125.5)"/><path d="M1250 1311L1198.4 1143.8L1204.0 1142.2Z" transform="matrix(0.909,0,0,0.909,113.4,118.9)"/><path d="M1250 1311L1201.9 1142.7L1207.5 1141.2Z" transform="matrix(0.947,0,0,0.947,66.1,69.4)"/><path d="M1250 1311L1205.5 1141.8L1211.1 1140.4Z" transform="matrix(1.021,0,0,1.021,-26.1,-27.4)"/><path d="M1250 1311L1209.0 1140.9L1214.6 1139.6Z" transform="matrix(0.977,0,0,0.977,28.5,29.9)"/><path d="M1250 1311L1212.6 1140.0L1218.2 1138.9Z" transform="matrix(0.938,0,0,0.938,77.5,81.3)"/><path d="M1250 1311L1216.2 1139.3L1221.9 1138.3Z" transform="matrix(0.930,0,0,0.930,87.7,92.0)"/><path d="M1250 1311L1219.8 1138.6L1225.5 1137.7Z" transform="matrix(0.973,0,0,0.973,33.2,34.9)"/><path d="M1250 1311L1223.4 1138.0L1229.1 1137.3Z" transform="matrix(0.987,0,0,0.987,15.9,16.6)"/><path d="M1250 1311L1227.0 1137.5L1232.8 1136.9Z" transform="matrix(0.980,0,0,0.980,25.2,26.4)"/><path d="M1250 1311L1230.7 1137.1L1236.4 1136.5Z" transform="matrix(0.925,0,0,0.925,93.7,98.3)"/><path d="M1250 1311L1234.3 1136.7L1240.1 1136.3Z" transform="matrix(0.938,0,0,0.938,77.3,81.1)"/><path d="M1250 1311L1238.0 1136.4L1243.7 1136.1Z" transform="matrix(0.917,0,0,0.917,103.4,108.4)"/><path d="M1250 1311L1241.6 1136.2L1247.4 1136.0Z" transform="matrix(0.918,0,0,0.918,102.6,107.6)"/><path d="M1250 1311L1245.3 1136.1L1251.0 1136.0Z" transform="matrix(0.895,0,0,0.895,130.9,137.2)"/><path d="M1250 1311L1249.0 1136.0L1254.7 1136.1Z" transform="matrix(0.917,0,0,0.917,103.2,108.2)"/><path d="M1250 1311L1252.6 1136.0L1258.4 1136.2Z" transform="matrix(0.880,0,0,0.880,150.0,157.3)"/><path d="M1250 1311L1256.3 1136.1L1262.0 1136.4Z" transform="matrix(0.880,0,0,0.880,149.4,156.7)"/><path d="M1250 1311L1259.9 1136.3L1265.7 1136.7Z" transform="matrix(0.942,0,0,0.942,73.0,76.5)"/><path d="M1250 1311L1263.6 1136.5L1269.3 1137.1Z" transform="matrix(0.890,0,0,0.890,137.3,144.0)"/><path d="M1250 1311L1267.2 1136.9L1273.0 1137.5Z" transform="matrix(0.946,0,0,0.946,68.1,71.4)"/><path d="M1250 1311L1270.9 1137.3L1276.6 1138.0Z" transform="matrix(0.880,0,0,0.880,150.0,157.3)"/><path d="M1250 1311L1274.5 1137.7L1280.2 1138.6Z" transform="matrix(0.911,0,0,0.911,110.9,116.3)"/><path d="M1250 1311L1278.1 1138.3L1283.8 1139.3Z" transform="matrix(0.941,0,0,0.941,74.3,78.0)"/><path d="M1250 1311L1281.8 1138.9L1287.4 1140.0Z" transform="matrix(0.887,0,0,0.887,141.7,148.6)"/><path d="M1250 1311L1285.4 1139.6L1291.0 1140.9Z" transform="matrix(0.900,0,0,0.900,125.6,131.7)"/><path d="M1250 1311L1288.9 1140.4L1294.5 1141.8Z" transform="matrix(1.021,0,0,1.021,-26.5,-27.8)"/><path d="M1250 1311L1292.5 1141.2L1298.1 1142.7Z" transform="matrix(0.902,0,0,0.902,121.9,127.9)"/><path d="M1250 1311L1296.0 1142.2L1301.6 1143.8Z" transform="matrix(0.903,0,0,0.903,121.7,127.6)"/><path d="M1250 1311L1299.6 1143.2L1305.1 1144.9Z" transform="matrix(0.909,0,0,0.909,113.8,119.4)"/><path d="M1250 1311L1303.1 1144.2L1308.5 1146.1Z" transform="matrix(0.934,0,0,0.934,83.1,87.1)"/><path d="M1250 1311L1306.6 1145.4L1312.0 1147.3Z" transform="matrix(0.933,0,0,0.933,83.9,87.9)"/><path d="M1250 1311L1310.0 1146.6L1315.4 1148.7Z" transform="matrix(0.973,0,0,0.973,33.3,34.9)"/><path d="M1250 1311L1313.4 1147.9L1318.8 1150.1Z" transform="matrix(0.968,0,0,0.968,39.9,41.8)"/><path d="M1250 1311L1316.8 1149.3L1322.1 1151.6Z" transform="matrix(0.924,0,0,0.924,94.6,99.2)"/><path d="M1250 1311L1320.2 1150.7L1325.5 1153.1Z" transform="matrix(0.928,0,0,0.928,89.6,94.0)"/><path d="M1250 1311L1323.6 1152.2L1328.8 1154.7Z" transform="matrix(0.890,0,0,0.890,137.8,144.5)"/><path d="M1250 1311L1326.9 1153.8L1332.0 1156.4Z" transform="matrix(0.889,0,0,0.889,138.8,145.6)"/><path d="M1250 1311L1330.1 1155.4L1335.2 1158.2Z" transform="matrix(0.921,0,0,0.921,99.0,103.8)"/><path d="M1250 1311L1333.4 1157.1L1338.4 1160.0Z" transform="matrix(0.981,0,0,0.981,24.2,25.4)"/><path d="M1250 1311L1336.6 1158.9L1341.6 1161.9Z" transform="matrix(0.960,0,0,0.960,50.5,53.0)"/><path d="M1250 1311L1339.8 1160.8L1344.7 1163.8Z" transform="matrix(0.989,0,0,0.989,13.6,14.2)"/><path d="M1250 1311L1342.9 1162.7L1347.7 1165.8Z" transform="matrix(0.997,0,0,0.997,3.1,3.3)"/><path d="M1250 1311L1346.0 1164.7L1350.7 1167.9Z" transform="matrix(0.957,0,0,0.957,53.9,56.6)"/><path d="M1250 1311L1349.0 1166.7L1353.7 1170.0Z" transform="matrix(1.049,0,0,1.049,-61.5,-64.5)"/><path d="M1250 1311L1352.0 1168.8L1356.6 1172.2Z" transform="matrix(0.948,0,0,0.948,64.7,67.9)"/><path d="M1250 1311L1355.0 1171.0L1359.5 1174.5Z" transform="matrix(0.947,0,0,0.947,66.4,69.7)"/><path d="M1250 1311L1357.9 1173.2L1362.4 1176.8Z" transform="matrix(0.957,0,0,0.957,53.4,56.0)"/><path d="M1250 1311L1360.7 1175.5L1365.1 1179.2Z" transform="matrix(1.022,0,0,1.022,-28.1,-29.5)"/><path d="M1250 1311L1363.6 1177.8L1367.9 1181.7Z" transform="matrix(0.974,0,0,0.974,32.4,34.0)"/><path d="M1250 1311L1366.3 1180.2L1370.6 1184.2Z" transform="matrix(0.952,0,0,0.952,59.7,62.6)"/><path d="M1250 1311L1369.0 1182.7L1373.2 1186.7Z" transform="matrix(1.002,0,0,1.002,-2.1,-2.2)"/><path d="M1250 1311L1371.7 1185.2L1375.8 1189.3Z" transform="matrix(1.032,0,0,1.032,-40.0,-42.0)"/><path d="M1250 1311L1374.3 1187.8L1378.3 1192.0Z" transform="matrix(0.984,0,0,0.984,20.3,21.3)"/><path d="M1250 1311L1376.8 1190.4L1380.8 1194.7Z" transform="matrix(0.980,0,0,0.980,25.1,26.4)"/><path d="M1250 1311L1379.3 1193.1L1383.2 1197.4Z" transform="matrix(1.036,0,0,1.036,-44.6,-46.8)"/><path d="M1250 1311L1381.8 1195.9L1385.5 1200.3Z" transform="matrix(1.033,0,0,1.033,-41.3,-43.3)"/><path d="M1250 1311L1384.2 1198.6L1387.8 1203.1Z" transform="matrix(1.033,0,0,1.033,-41.0,-43.0)"/><path d="M1250 1311L1386.5 1201.5L1390.0 1206.0Z" transform="matrix(0.964,0,0,0.964,44.7,46.8)"/><path d="M1250 1311L1388.8 1204.4L1392.2 1209.0Z" transform="matrix(1.008,0,0,1.008,-9.6,-10.1)"/><path d="M1250 1311L1391.0 1207.3L1394.3 1212.0Z" transform="matrix(1.012,0,0,1.012,-14.4,-15.1)"/><path d="M1250 1311L1393.1 1210.3L1396.3 1215.0Z" transform="matrix(0.924,0,0,0.924,95.1,99.7)"/><path d="M1250 1311L1395.2 1213.3L1398.3 1218.1Z" transform="matrix(1.046,0,0,1.046,-57.9,-60.8)"/><path d="M1250 1311L1397.2 1216.3L1400.2 1221.2Z" transform="matrix(1.001,0,0,1.001,-1.7,-1.8)"/><path d="M1250 1311L1399.1 1219.4L1402.1 1224.4Z" transform="matrix(0.983,0,0,0.983,21.1,22.1)"/><path d="M1250 1311L1401.0 1222.6L1403.9 1227.6Z" transform="matrix(1.089,0,0,1.089,-111.1,-116.5)"/><path d="M1250 1311L1402.8 1225.8L1405.6 1230.9Z" transform="matrix(1.002,0,0,1.002,-2.5,-2.6)"/><path d="M1250 1311L1404.6 1229.0L1407.2 1234.1Z" transform="matrix(0.966,0,0,0.966,42.6,44.6)"/><path d="M1250 1311L1406.3 1232.2L1408.8 1237.4Z" transform="matrix(0.992,0,0,0.992,10.3,10.8)"/><path d="M1250 1311L1407.9 1235.5L1410.3 1240.8Z" transform="matrix(1.016,0,0,1.016,-20.2,-21.1)"/><path d="M1250 1311L1409.4 1238.9L1411.7 1244.2Z" transform="matrix(1.025,0,0,1.025,-31.3,-32.8)"/><path d="M1250 1311L1410.9 1242.2L1413.1 1247.6Z" transform="matrix(0.988,0,0,0.988,14.5,15.2)"/><path d="M1250 1311L1412.3 1245.6L1414.4 1251.0Z" transform="matrix(0.954,0,0,0.954,57.0,59.8)"/><path d="M1250 1311L1413.7 1249.0L1415.6 1254.4Z" transform="matrix(0.960,0,0,0.960,50.4,52.8)"/><path d="M1250 1311L1414.9 1252.5L1416.8 1257.9Z" transform="matrix(0.953,0,0,0.953,58.3,61.1)"/><path d="M1250 1311L1416.1 1255.9L1417.8 1261.4Z" transform="matrix(0.942,0,0,0.942,72.0,75.5)"/><path d="M1250 1311L1417.2 1259.4L1418.8 1265.0Z" transform="matrix(0.982,0,0,0.982,22.0,23.1)"/><path d="M1250 1311L1418.3 1262.9L1419.8 1268.5Z" transform="matrix(0.962,0,0,0.962,47.5,49.9)"/><path d="M1250 1311L1419.2 1266.5L1420.6 1272.1Z" transform="matrix(0.982,0,0,0.982,22.1,23.2)"/><path d="M1250 1311L1420.1 1270.0L1421.4 1275.6Z" transform="matrix(0.946,0,0,0.946,68.0,71.3)"/><path d="M1250 1311L1421.0 1273.6L1422.1 1279.2Z" transform="matrix(0.943,0,0,0.943,71.7,75.2)"/><path d="M1250 1311L1421.7 1277.2L1422.7 1282.9Z" transform="matrix(0.969,0,0,0.969,39.3,41.2)"/><path d="M1250 1311L1422.4 1280.8L1423.3 1286.5Z" transform="matrix(0.961,0,0,0.961,48.9,51.3)"/><path d="M1250 1311L1423.0 1284.4L1423.7 1290.1Z" transform="matrix(1.020,0,0,1.020,-24.4,-25.6)"/><path d="M1250 1311L1423.5 1288.0L1424.1 1293.8Z" transform="matrix(0.937,0,0,0.937,78.9,82.7)"/><path d="M1250 1311L1423.9 1291.7L1424.5 1297.4Z" transform="matrix(0.980,0,0,0.980,24.7,25.9)"/><path d="M1250 1311L1424.3 1295.3L1424.7 1301.1Z" transform="matrix(0.970,0,0,0.970,37.6,39.5)"/><path d="M1250 1311L1424.6 1299.0L1424.9 1304.7Z" transform="matrix(0.919,0,0,0.919,101.0,105.9)"/><path d="M1250 1311L1424.8 1302.6L1425.0 1308.4Z" transform="matrix(1.000,0,0,1.000,0.2,0.3)"/><path d="M1250 1311L1424.9 1306.3L1425.0 1312.0Z" transform="matrix(0.978,0,0,0.978,27.9,29.2)"/></g><circle cx="1250.0" cy="1309.5" r="96" stroke="#fff" stroke-width="2.3" stroke-dasharray="8 8" fill="none"/><circle cx="1250.0" cy="1309.5" r="192" stroke="#fff" stroke-width="2.3" stroke-dasharray="8 8" fill="none"/><line x1="962" y1="1309.5" x2="1538" y2="1309.5" stroke="#fff" stroke-width="2.3" stroke-dasharray="8 8" fill="none"/><line x1="1046.4" y1="1105.9" x2="1453.6" y2="1513.1" stroke="#fff" stroke-width="2.3" stroke-dasharray="8 8" fill="none"/><line x1="1250" y1="1021.5" x2="1250" y2="1597.5" stroke="#fff" stroke-width="2.3" stroke-dasharray="8 8" fill="none"/><line x1="1453.6" y1="1105.9" x2="1046.4" y2="1513.1" stroke="#fff" stroke-width="2.3" stroke-dasharray="8 8" fill="none"/><circle cx="1250.0" cy="1309.5" r="288.0" fill="none" stroke="#000" stroke-width="4"/><text x="1222" y="1006.5" font-size="54" font-weight="bold" fill="#000">90<tspan font-size="32" dy="-21">o</tspan></text><text x="958.5" y="1097.5" font-size="54" font-weight="bold" fill="#000">135<tspan font-size="32" dy="-21">o</tspan></text><text x="1462" y="1097.5" font-size="54" font-weight="bold" fill="#000">45<tspan font-size="32" dy="-21">o</tspan></text><text x="850.5" y="1325.7" font-size="54" font-weight="bold" fill="#000">180<tspan font-size="32" dy="-21">o</tspan></text><text x="1567" y="1287" font-size="54" font-weight="bold" fill="#000">0<tspan font-size="32" dy="-21">o</tspan></text><text x="951.5" y="1573.6" font-size="54" font-weight="bold" fill="#000">225<tspan font-size="32" dy="-21">o</tspan></text><text x="1444.5" y="1573.6" font-size="54" font-weight="bold" fill="#000">315<tspan font-size="32" dy="-21">o</tspan></text><text x="1209.5" y="1649.7" font-size="54" font-weight="bold" fill="#000">270<tspan font-size="32" dy="-21">o</tspan></text><text x="1322" y="1404" font-size="54" font-weight="bold" fill="#f0d020">2<tspan font-size="32" dy="-21">o</tspan></text><text x="1403" y="1404" font-size="54" font-weight="bold" fill="#f0d020">4<tspan font-size="32" dy="-21">o</tspan></text><text x="1479" y="1404" font-size="54" font-weight="bold" fill="#f0d020">6<tspan font-size="32" dy="-21">o</tspan></text><text x="1197" y="1094" font-size="64" font-weight="bold" fill="#fff" text-anchor="middle">(c)</text><text x="1568" y="1377" font-size="64" font-weight="bold" font-style="italic">θ</text><text x="889.5" y="1191.5" font-size="64" font-weight="bold" font-style="italic">ϕ</text><path d="M1549 1309.7 L1626 1309.7" stroke="#000" stroke-width="4.2"/><path d="M1644.5 1309.7 L1611 1297 L1621.5 1309.7 L1611 1322.5 Z" fill="#000"/><path d="M972.5 1154.2 Q952 1190 942 1232" stroke="#000" stroke-width="3.8" fill="none"/><path d="M936.9 1250.5 L933.3 1214.9 L943.5 1229.5 L957.3 1221.5 Z" fill="#000"/></svg></body></html>
